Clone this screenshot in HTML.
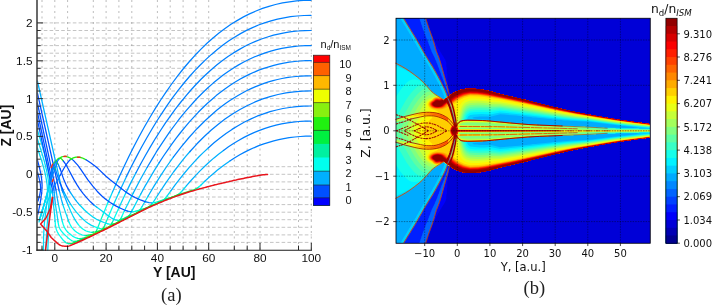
<!DOCTYPE html>
<html><head><meta charset="utf-8"><title>figure</title><style>html,body{margin:0;padding:0;background:#fff}svg{display:block}</style></head><body>
<svg width="712" height="305" viewBox="0 0 712 305">
<rect width="712" height="305" fill="#fff"/>
<path d="M42 0V250M54.8 0V250M67.6 0V250M93.3 0V250M106.1 0V250M118.9 0V250M131.8 0V250M157.4 0V250M170.2 0V250M183.1 0V250M195.9 0V250M208.7 0V250M234.3 0V250M247.2 0V250M260 0V250M298.5 0V250M311.3 0V250" stroke="#8f8f8f" stroke-width="0.6" stroke-dasharray="2 3.5" fill="none"/>
<path d="M38 242.4H312M38 234.9H312M38 227.3H312M38 219.7H312M38 212.2H312M38 204.6H312M38 197H312M38 189.4H312M38 181.9H312M38 174.3H312M38 166.7H312M38 121.3H312M38 113.7H312M38 106.2H312M38 98.6H312M38 91H312M38 83.5H312M38 75.9H312M38 68.3H312M38 60.8H312M38 53.2H312M38 45.6H312M38 38H312M38 30.5H312M38 22.9H312" stroke="#939393" stroke-width="0.55" stroke-dasharray="3.6 2.2" fill="none"/>
<g fill="none" stroke-width="1.25" stroke-linecap="round" stroke-linejoin="round">
<path d="M37.4 130 42.7 147.4 44.6 154.1 46.3 160.9 47.6 166.7 48.6 172.6 49.5 178.5 50 183.4 50.4 191.3 50.3 199.2 48.8 227.1 47.8 250" stroke="#00d8f6"/>
<path d="M37.4 139 42.3 154.4 44 160.2 45.5 166 46.9 171.8 47.8 176.7 48.5 181.6 49 186.5 49.3 193.4 49.1 201.3 48.6 207.3 46.9 228.2 45.6 250" stroke="#00d8f6"/>
<path d="M37.4 148 41.9 161.5 43.3 166.3 44.6 171.1 45.7 176 46.4 179.9 47.1 184.7 47.4 188.6 47.5 194.5 47.1 200.4 46.5 206.3 44.7 220.2 44 228.2 43.6 237.1 43.5 250" stroke="#00d8f6"/>
<path d="M37.4 160 39.7 168.7 41 174.6 41.8 180.5 42.1 185.4 41.8 191.4 41.1 197.3 40 204.2 38 214" stroke="#0050ff"/>
<path d="M37.4 172 38.8 176.9 39.7 180.8 40.4 184.6 40.6 187.5 40.5 190.4 40 193.3 39.4 196.2 38 201" stroke="#0050ff"/>
<path d="M37.4 120 52.5 190" stroke="#0050ff"/>
<path d="M52.5 190 52.6 192.5" stroke="#0080ff"/>
<path d="M52.6 192.5 53.4 204" stroke="#00b0ff"/>
<path d="M53.4 204 54.7 216.3 55.1 221.4" stroke="#00d8f6"/>
<path d="M55.1 221.4 55.4 224.9 55.8 227.4 56.4 229.7 57.2 231.6 58.6 234.1 60.7 237 63.3 240.3 65.1 242" stroke="#00ffee"/>
<path d="M65.1 242 66.3 242.9 67.1 243.3 68.5 243.6" stroke="#00f8c7"/>
<path d="M68.5 243.6 70 243.7" stroke="#00f0a0"/>
<path d="M70 243.7 72 243.4" stroke="#00f070"/>
<path d="M72 243.4 75 242.4 80 240.2 80.5 240" stroke="#00f040"/>
<path d="M80.5 240 82.5 239.4" stroke="#10f028"/>
<path d="M82.5 239.4 85.5 238.2" stroke="#20f010"/>
<path d="M85.5 238.2 86 238" stroke="#54f010"/>
<path d="M86 238 90.5 235.9" stroke="#88f010"/>
<path d="M90.5 235.9 93.5 234.4 94.5 233.8 95 233.3" stroke="#54f010"/>
<path d="M95 233.3 95.5 232.7" stroke="#20f010"/>
<path d="M95.5 232.7 96 231.8" stroke="#10f028"/>
<path d="M96 231.8 96.5 230.7" stroke="#00f070"/>
<path d="M96.5 230.7 97.5 228.3" stroke="#00f0a0"/>
<path d="M97.5 228.3 103 214.5" stroke="#00f8c7"/>
<path d="M103 214.5 108 202.4" stroke="#00ffee"/>
<path d="M108 202.4 112.5 191.9" stroke="#00d8f6"/>
<path d="M112.5 191.9 118 179.5" stroke="#00b0ff"/>
<path d="M118 179.5 123 168.7 128.5 157.2 133.5 147.3 139 136.8 144.5 126.8 150 117.2 155.5 108.1 161 99.5 166.5 91.3 172 83.5 177.5 76.1 183.5 68.5 189 62 195 55.3 201 49.1 207 43.3 213 38 219 33 225 28.5 231 24.3 237 20.6 243.5 16.9 249.5 13.9 256 11 262.5 8.4 269 6.3 275.5 4.5 282.5 2.9 289.5 1.8 296.5 0.9 303.5 0.4 311 0.3" stroke="#0080ff"/>
<path d="M37.4 112 54 190" stroke="#0050ff"/>
<path d="M54 190 54.2 192.5" stroke="#0080ff"/>
<path d="M54.2 192.5 54.8 198.9 55.4 204.4" stroke="#00b0ff"/>
<path d="M55.4 204.4 57.2 215.6 58 221.7" stroke="#00d8f6"/>
<path d="M58 221.7 58.5 224.6 59.1 227 59.9 228.8 61.2 230.9 63.4 233.5 67.5 237.4 69.8 239.3 71.8 240.7" stroke="#00ffee"/>
<path d="M71.8 240.7 72.5 241 74 241.3" stroke="#00f8c7"/>
<path d="M74 241.3 75.5 241.4" stroke="#00f0a0"/>
<path d="M75.5 241.4 77.5 241.1" stroke="#00f070"/>
<path d="M77.5 241.1 79.5 240.4 81.5 239.6" stroke="#00f040"/>
<path d="M81.5 239.6 82 239.3" stroke="#10f028"/>
<path d="M82 239.3 85 237.9 85.5 237.7" stroke="#00f040"/>
<path d="M85.5 237.7 87 237.3" stroke="#20f010"/>
<path d="M87 237.3 90 236.1 95.5 233.5 100.5 231 102 230.1" stroke="#54f010"/>
<path d="M102 230.1 102.5 229.6" stroke="#20f010"/>
<path d="M102.5 229.6 103 228.9" stroke="#10f028"/>
<path d="M103 228.9 103.5 228" stroke="#00f040"/>
<path d="M103.5 228 104 227" stroke="#00f070"/>
<path d="M104 227 105 224.7" stroke="#00f0a0"/>
<path d="M105 224.7 108 217.5" stroke="#00f8c7"/>
<path d="M108 217.5 114 203.5" stroke="#00ffee"/>
<path d="M114 203.5 119 192.4" stroke="#00d8f6"/>
<path d="M119 192.4 126.5 176.4" stroke="#00b0ff"/>
<path d="M126.5 176.4 131.5 166.3 136.5 156.6 141.5 147.3 147 137.5 152 129 157.5 120 162.5 112.3 168 104.2 173 97.2 178.5 89.9 184 83 189.5 76.5 195 70.4 200.5 64.7 206 59.4 211.5 54.4 217 49.7 223 45.1 228.5 41.1 234.5 37.2 240.5 33.6 246.5 30.4 252.5 27.6 258.5 25 264.5 22.8 271 20.8 277.5 19.1 284 17.8 290.5 16.7 297 16 304 15.5 311 15.4" stroke="#0080ff"/>
<path d="M37.4 103 56 190" stroke="#0050ff"/>
<path d="M56 190 56.4 192.5" stroke="#0080ff"/>
<path d="M56.4 192.5 57.4 198.9 58.4 204.3" stroke="#00b0ff"/>
<path d="M58.4 204.3 59.6 210.1 62.4 221.8" stroke="#00d8f6"/>
<path d="M62.4 221.8 63.3 224.7 64.4 227.4 65.7 229.6 67.2 231.5 69.4 233.6 72.5 236.1 75.5 237.7 77.5 238.4" stroke="#00ffee"/>
<path d="M77.5 238.4 78.5 238.6 80 238.7" stroke="#00f8c7"/>
<path d="M80 238.7 82.5 238.3" stroke="#00f0a0"/>
<path d="M82.5 238.3 85.5 237.5" stroke="#00f070"/>
<path d="M85.5 237.5 86 237.4" stroke="#10f028"/>
<path d="M86 237.4 87.5 237" stroke="#20f010"/>
<path d="M87.5 237 90 236 93.5 234.4 105 228.9 109 226.8" stroke="#54f010"/>
<path d="M109 226.8 110 226.1 110.5 225.6" stroke="#20f010"/>
<path d="M110.5 225.6 111 224.9" stroke="#10f028"/>
<path d="M111 224.9 111.5 224" stroke="#00f040"/>
<path d="M111.5 224 112 223" stroke="#00f070"/>
<path d="M112 223 112.5 222" stroke="#00f0a0"/>
<path d="M112.5 222 113.5 219.8" stroke="#00f8c7"/>
<path d="M113.5 219.8 119.5 206.4" stroke="#00ffee"/>
<path d="M119.5 206.4 126 192.6" stroke="#00d8f6"/>
<path d="M126 192.6 131 182.4 136 172.7" stroke="#00b0ff"/>
<path d="M136 172.7 140.5 164.2 145.5 155.2 150.5 146.6 155.5 138.3 160.5 130.5 165.5 122.9 170.5 115.8 175.5 108.9 180.5 102.5 185.5 96.3 190.5 90.5 196 84.5 201 79.3 206.5 74 211.5 69.5 217 64.8 222.5 60.5 228 56.6 233.5 52.9 239 49.6 244.5 46.5 250 43.8 255.5 41.4 261.5 39 267.5 37 273.5 35.2 279.5 33.8 285.5 32.6 291.5 31.7 298 31 304.5 30.6 311 30.5" stroke="#0080ff"/>
<path d="M37.4 93 59 190" stroke="#0050ff"/>
<path d="M59 190 59.6 192.4" stroke="#0080ff"/>
<path d="M59.6 192.4 61.3 199.2 62.8 204.5" stroke="#00b0ff"/>
<path d="M62.8 204.5 64.9 210.6 69.1 222.4" stroke="#00d8f6"/>
<path d="M69.1 222.4 70.4 225.2 71.7 227.3 73.3 229.2 75.1 231 76.7 232.2 78.8 233.5 81.8 234.8 83.2 235.2 84.8 235.5" stroke="#00ffee"/>
<path d="M84.8 235.5 86.2 235.5" stroke="#00f8c7"/>
<path d="M86.2 235.5 88.8 235.2" stroke="#00f070"/>
<path d="M88.8 235.2 91.2 234.6" stroke="#00f040"/>
<path d="M91.2 234.6 92.8 234.3" stroke="#10f028"/>
<path d="M92.8 234.3 94.2 233.9" stroke="#20f010"/>
<path d="M94.2 233.9 99.2 231.7 113.8 224.5" stroke="#54f010"/>
<path d="M113.8 224.5 116.8 223 118.2 222" stroke="#20f010"/>
<path d="M118.2 222 119.2 221" stroke="#10f028"/>
<path d="M119.2 221 119.8 220.4" stroke="#00f040"/>
<path d="M119.8 220.4 120.2 219.5" stroke="#00f070"/>
<path d="M120.2 219.5 120.8 218.6" stroke="#00f0a0"/>
<path d="M120.8 218.6 121.8 216.6" stroke="#00f8c7"/>
<path d="M121.8 216.6 124.2 211.3" stroke="#00ffee"/>
<path d="M124.2 211.3 128.8 202 133.2 193.1" stroke="#00d8f6"/>
<path d="M133.2 193.1 140.2 179.8 147.2 167.2" stroke="#00b0ff"/>
<path d="M147.2 167.2 151.8 159.6 156.2 152.2 160.8 145.2 165.8 137.7 170.2 131.2 174.8 125 179.2 119.2 184.2 112.9 188.8 107.6 193.8 102 198.2 97.2 203.2 92.2 208.2 87.5 213.2 83.1 218.2 78.9 223.2 75.1 228.2 71.5 233.2 68.2 238.2 65.1 243.8 62 248.8 59.5 254.2 57 259.8 54.8 265.2 52.8 270.8 51.1 276.2 49.6 281.8 48.4 287.8 47.3 293.2 46.6 299.2 46 305.2 45.7 311.2 45.6" stroke="#0080ff"/>
<path d="M37.4 81 62 190" stroke="#00b0ff"/>
<path d="M62 190 62.9 192.3" stroke="#0080ff"/>
<path d="M62.9 192.3 67.7 204.3" stroke="#00b0ff"/>
<path d="M67.7 204.3 70.6 211.1 73 216.1 75.4 220.4 77.6 223.7" stroke="#00d8f6"/>
<path d="M77.6 223.7 79.2 225.6 80.9 227.4 82.8 229 84.5 230.1 86.2 231 88.2 231.7 90.2 232.1 91.8 232.3" stroke="#00ffee"/>
<path d="M91.8 232.3 92.2 232.3" stroke="#00f8c7"/>
<path d="M92.2 232.3 93.2 232.2" stroke="#00f0a0"/>
<path d="M93.2 232.2 94.8 232 96.8 231.5" stroke="#00f070"/>
<path d="M96.8 231.5 98.8 231.1" stroke="#00f040"/>
<path d="M98.8 231.1 100.2 230.8" stroke="#10f028"/>
<path d="M100.2 230.8 102.2 230.1" stroke="#20f010"/>
<path d="M102.2 230.1 105.8 228.5 113.8 224.5" stroke="#54f010"/>
<path d="M113.8 224.5 126.2 218.1" stroke="#20f010"/>
<path d="M126.2 218.1 127.2 217.5 128.2 216.7" stroke="#10f028"/>
<path d="M128.2 216.7 128.8 216.2" stroke="#00f040"/>
<path d="M128.8 216.2 129.2 215.5" stroke="#00f070"/>
<path d="M129.2 215.5 129.8 214.8" stroke="#00f0a0"/>
<path d="M129.8 214.8 130.8 213" stroke="#00f8c7"/>
<path d="M130.8 213 131.8 211.1" stroke="#00ffee"/>
<path d="M131.8 211.1 140.8 194" stroke="#00d8f6"/>
<path d="M140.8 194 145.2 185.9 149.8 178.1 154.2 170.6 159.2 162.6" stroke="#00b0ff"/>
<path d="M159.2 162.6 163.2 156.5 167.8 149.9 171.8 144.2 176.2 138.2 180.2 133 184.8 127.4 189.2 122.1 193.8 117.1 198.2 112.3 202.8 107.8 207.2 103.5 211.8 99.5 216.2 95.6 220.8 92.1 225.2 88.7 230.2 85.2 234.8 82.3 239.8 79.3 244.2 76.9 249.2 74.4 253.8 72.3 258.8 70.2 263.8 68.4 268.8 66.8 273.8 65.3 278.8 64.1 283.8 63.1 289.2 62.2 294.8 61.5 300.2 61 305.8 60.7 311.2 60.7" stroke="#0080ff"/>
<path d="M39 222 42.5 210 49.3 184.9" stroke="#00d8f6"/>
<path d="M49.3 184.9 50.3 180 51.3 173.6 51.8 171.5 52.6 169.3" stroke="#0080ff"/>
<path d="M52.6 169.3 53.3 167.7 53.9 167.1 54.1 167 54.4 167.1 54.8 167.7 55.7 170" stroke="#20f010"/>
<path d="M55.7 170 57.9 177.2 60 183.1" stroke="#0080ff"/>
<path d="M60 183.1 63 190.1" stroke="#0050ff"/>
<path d="M63 190.1 64.1 192.4" stroke="#0080ff"/>
<path d="M64.1 192.4 67.4 198.9 70.8 204.5" stroke="#00b0ff"/>
<path d="M70.8 204.5 73.3 208.2 76.4 212.1 79.5 215.7 82.5 218.7 85.5 221.4 88 223.2 91 225.1 94 226.5" stroke="#00d8f6"/>
<path d="M94 226.5 97 227.7 100 228.7" stroke="#00ffee"/>
<path d="M100 228.7 101.5 229" stroke="#00f8c7"/>
<path d="M101.5 229 102.5 229" stroke="#00f0a0"/>
<path d="M102.5 229 103 229" stroke="#00f070"/>
<path d="M103 229 103.5 229" stroke="#00f040"/>
<path d="M103.5 229 104.5 228.8" stroke="#10f028"/>
<path d="M104.5 228.8 106 228.3" stroke="#20f010"/>
<path d="M106 228.3 114 224.4" stroke="#54f010"/>
<path d="M114 224.4 129 216.8" stroke="#20f010"/>
<path d="M129 216.8 136 213.2 138 212" stroke="#10f028"/>
<path d="M138 212 139 211.1" stroke="#00f040"/>
<path d="M139 211.1 139.5 210.6" stroke="#00f070"/>
<path d="M139.5 210.6 140 209.9" stroke="#00f0a0"/>
<path d="M140 209.9 141 208.4" stroke="#00f8c7"/>
<path d="M141 208.4 142 206.7" stroke="#00ffee"/>
<path d="M142 206.7 148 196.2" stroke="#00d8f6"/>
<path d="M148 196.2 154 186.1 160.5 175.8 167 166 173.5 156.9" stroke="#00b0ff"/>
<path d="M173.5 156.9 181 147.1 189 137.5 197 128.7 205 120.7 213 113.5 217 110.1 221.5 106.6 225.5 103.6 229.5 100.8 233.5 98.2 238 95.5 242 93.2 246.5 90.8 250.5 88.9 255 86.9 259.5 85.1 264 83.4 268.5 81.9 273 80.6 277.5 79.5 282 78.5 286.5 77.7 291.5 77 296 76.5 301 76.1 306 75.8 311 75.8" stroke="#0080ff"/>
<path d="M39.5 219 46.4 197.1 48.1 190.9 49.6 184.6" stroke="#00d8f6"/>
<path d="M49.6 184.6 51.2 176.7 52.4 168.1 53 165.6 53.9 163.4" stroke="#0080ff"/>
<path d="M53.9 163.4 54.4 162.3 55 161.6 55.6 161.3 55.9 161.3 56.3 161.5 56.9 162.2 58.2 164.3" stroke="#20f010"/>
<path d="M58.2 164.3 60.1 168.7" stroke="#0080ff"/>
<path d="M60.1 168.7 61.1 171.5 62.9 177.1 64.2 180.6 66.2 185.1 68.9 190.1" stroke="#0050ff"/>
<path d="M68.9 190.1 70.5 192.7" stroke="#0080ff"/>
<path d="M70.5 192.7 72.5 195.7 74.8 199 77 201.8 79.5 204.8" stroke="#00b0ff"/>
<path d="M79.5 204.8 84 209.5 84 209.8 84.5 210 87.5 212.7 90 214.8 93.5 217.4 96.5 219.2 100 220.9 104 222.5 108 223.8" stroke="#00d8f6"/>
<path d="M108 223.8 110.5 224.3" stroke="#00ffee"/>
<path d="M110.5 224.3 111.5 224.4" stroke="#00f8c7"/>
<path d="M111.5 224.4 112 224.4" stroke="#00f0a0"/>
<path d="M112 224.4 112.5 224.3" stroke="#00f070"/>
<path d="M112.5 224.3 113.5 224.2" stroke="#00f040"/>
<path d="M113.5 224.2 115 223.7" stroke="#10f028"/>
<path d="M115 223.7 118 222.4 129 216.8" stroke="#20f010"/>
<path d="M129 216.8 149 206.7" stroke="#10f028"/>
<path d="M149 206.7 150.5 205.6" stroke="#00f040"/>
<path d="M150.5 205.6 151 205.2" stroke="#00f070"/>
<path d="M151 205.2 152 204" stroke="#00f0a0"/>
<path d="M152 204 152.5 203.4" stroke="#00f8c7"/>
<path d="M152.5 203.4 153.5 201.9" stroke="#00ffee"/>
<path d="M153.5 201.9 157.5 195.5" stroke="#00d8f6"/>
<path d="M157.5 195.5 165.5 183.3 173.5 172 181.5 161.6 185.5 156.7 190 151.5" stroke="#00b0ff"/>
<path d="M190 151.5 197 143.8 204 136.8 211 130.3 218 124.4 225 119.1 232.5 114 239.5 109.7 247 105.7 254.5 102.2 262 99.2 270 96.6 278 94.5 286 92.9 294 91.8 302.5 91.1 311 90.9" stroke="#0080ff"/>
<path d="M40.5 217 46.9 195 49.6 184.8" stroke="#00d8f6"/>
<path d="M49.6 184.8 52.6 171.7 53.7 167.3 55.1 163.1 55.7 161.8 56.6 160.5" stroke="#0080ff"/>
<path d="M56.6 160.5 57.6 159.2 58.4 158.5 59.2 158 59.6 158 60.4 158.2 61.3 158.8 62.1 159.5 63.2 160.9" stroke="#20f010"/>
<path d="M63.2 160.9 64.8 163 66.4 165.5 74.1 179.9 76.9 184.6 79.6 188.8 83.2 193.6 86.8 197.8 90.5 201.8 94.2 205.2" stroke="#0050ff"/>
<path d="M94.2 205.2 96.9 207.3" stroke="#00b0ff"/>
<path d="M96.9 207.3 105.4 213.5 106 214.1 106.5 214.4 111.5 218 113 218.9 114.5 219.6 116 220.1 117 220.2" stroke="#00d8f6"/>
<path d="M117 220.2 118 220.3" stroke="#00ffee"/>
<path d="M118 220.3 119.5 220.1 121 219.6" stroke="#00f0a0"/>
<path d="M121 219.6 124 218.4 128 216.4 129 216.2" stroke="#00f070"/>
<path d="M129 216.2 131 215.6" stroke="#00f040"/>
<path d="M131 215.6 134 214.2 148 207.3 161 201.5" stroke="#10f028"/>
<path d="M161 201.5 163 200.4" stroke="#00f040"/>
<path d="M163 200.4 164 199.7" stroke="#00f070"/>
<path d="M164 199.7 165 198.7" stroke="#00f0a0"/>
<path d="M165 198.7 166 197.5" stroke="#00f8c7"/>
<path d="M166 197.5 167 196.1" stroke="#00ffee"/>
<path d="M167 196.1 171 190.6" stroke="#00d8f6"/>
<path d="M171 190.6 175.5 184.4 180 178.6 184.5 173 189.5 167.1 194 162.1 199 156.8 203.5 152.4 208.5 147.7" stroke="#00b0ff"/>
<path d="M208.5 147.7 214 142.8 220 137.9 226 133.5 232 129.4 238 125.7 244.5 122 250.5 119.1 257 116.2 263.5 113.8 270 111.7 276.5 110 283 108.5 289.5 107.5 296.5 106.6 303.5 106.1 311 106" stroke="#0080ff"/>
<path d="M41.5 214 49.7 184.7" stroke="#00d8f6"/>
<path d="M49.7 184.7 52.3 176.1 55.1 168.1 56.7 163.4 57.9 160.6 58.8 159.4 59.4 158.6" stroke="#0080ff"/>
<path d="M59.4 158.6 60.5 157.6 61.8 156.9 63.3 156.5 64.8 156.4 66.3 156.6 68.2 157.1 70.1 158 71.8 159.1" stroke="#20f010"/>
<path d="M71.8 159.1 73.3 160.4 74.7 161.8 77.7 165.2 80.6 169.2 87.9 179.9 92.8 186.2 97.1 191.2 101.6 195.8 104.7 198.4 107.4 200.6 110.2 202.5 113.2 204.4 116.2 206.1 119.8 207.9 120 208.1 120.5 208.2 124.5 210 127.5 211.1" stroke="#0050ff"/>
<path d="M127.5 211.1 130 211.6 132.5 211.7" stroke="#0080ff"/>
<path d="M132.5 211.7 134 211.6 136 211.2" stroke="#00ffee"/>
<path d="M136 211.2 139.5 210.2" stroke="#00f8c7"/>
<path d="M139.5 210.2 142 209.3 143 209.1" stroke="#00f0a0"/>
<path d="M143 209.1 144 208.8" stroke="#00f070"/>
<path d="M144 208.8 147 207.7" stroke="#00f040"/>
<path d="M147 207.7 161 201.6 175 196" stroke="#10f028"/>
<path d="M175 196 178 194.6" stroke="#00f040"/>
<path d="M178 194.6 179 194" stroke="#00f070"/>
<path d="M179 194 180 193.1" stroke="#00f0a0"/>
<path d="M180 193.1 181 192.1" stroke="#00f8c7"/>
<path d="M181 192.1 182.5 190.5" stroke="#00ffee"/>
<path d="M182.5 190.5 186.5 185.7" stroke="#00d8f6"/>
<path d="M186.5 185.7 191 180.5 195.5 175.6 200 170.9 204.5 166.5 209 162.3 214 157.9 218.5 154.2 223.5 150.4" stroke="#00b0ff"/>
<path d="M223.5 150.4 228.5 146.8 233.5 143.5 238.5 140.5 244 137.4 249 134.9 254.5 132.4 259.5 130.4 265 128.4 270.5 126.6 276 125.2 281.5 123.9 287.5 122.9 293 122.1 299 121.5 305 121.2 311 121.1" stroke="#0080ff"/>
<path d="M42 220 45.1 209.5 47.5 201.9 49.8 195.8 52 190.8" stroke="#00d8f6"/>
<path d="M52 190.8 60.1 175.3" stroke="#0080ff"/>
<path d="M60.1 175.3 63.7 168.8 66.6 164 68.4 161.6 69.4 160.5 70.5 159.5" stroke="#0050ff"/>
<path d="M70.5 159.5 72.2 158.4 74 157.7 76 157.2 78 157.1 80 157.3 81.9 157.8 83.7 158.6 86 159.8" stroke="#20f010"/>
<path d="M86 159.8 90.6 162.8 94.6 165.7 98 168.6 106 176.2 109.8 179.4 122.3 189.3 127.2 192.9 131.3 195.5 135.3 197.6 141.2 200.2 145.8 201.8" stroke="#0050ff"/>
<path d="M145.8 201.8 149.2 202.6 152.2 202.8" stroke="#0080ff"/>
<path d="M152.2 202.8 154.8 202.6" stroke="#00ffee"/>
<path d="M154.8 202.6 158.2 201.7" stroke="#00f8c7"/>
<path d="M158.2 201.7 166.2 198.8" stroke="#00f0a0"/>
<path d="M166.2 198.8 168.2 198.4" stroke="#00f070"/>
<path d="M168.2 198.4 172.2 197.1" stroke="#00f040"/>
<path d="M172.2 197.1 182.8 193.3 191.2 190.7" stroke="#10f028"/>
<path d="M191.2 190.7 193.8 189.9 195.2 189.2" stroke="#00f040"/>
<path d="M195.2 189.2 196.8 188.4" stroke="#00f070"/>
<path d="M196.8 188.4 197.8 187.7" stroke="#00f0a0"/>
<path d="M197.8 187.7 198.8 186.9" stroke="#00f8c7"/>
<path d="M198.8 186.9 200.8 185.2" stroke="#00ffee"/>
<path d="M200.8 185.2 204.8 181.3" stroke="#00d8f6"/>
<path d="M204.8 181.3 211.2 175.4 217.2 170.3 223.8 165.3 230.2 160.7" stroke="#00b0ff"/>
<path d="M230.2 160.7 234.8 157.8 239.8 154.8 244.2 152.4 249.2 149.9 253.8 147.8 258.8 145.7 263.8 143.9 268.8 142.3 273.8 140.8 278.8 139.6 283.8 138.6 289.2 137.7 294.8 137 300.2 136.5 305.8 136.2 311.2 136.2" stroke="#0080ff"/>
<path d="M51.3 167.5L52.6 164.2M63.8 156.4L66.2 156.3M77.5 157.2L80 157.3M52.4 181.5L53.3 179.3" stroke="#f03018" stroke-width="1.5"/>
<path d="M52.5 197.5 49 223 45.5 250" stroke="#e8141c" stroke-width="1.5"/>
<path d="M52.5 197.5 50.5 208 46 218 40.6 224 46.9 231.2 51.2 237.5 57.5 243.4 59 244.5 60.5 245.4 62 245.9 63.5 246.1 65 246.2 66.5 246.3 68 246.3 69.5 245.9 71 245.2 72.5 244.6 74 244 75.5 243.4 77 242.7 78.5 242 80 241.3 81.5 240.7 83 240 84.5 239.3 86 238.6 87.5 237.9 89 237.2 90.5 236.5 92 235.8 93.5 235 95 234.3 96.5 233.6 98 232.9 99.5 232.2 101 231.4 102.5 230.7 104 230 105.5 229.2 107 228.5 108.5 227.7 110 227 111.5 226.3 113 225.5 114.5 224.7 116 224 117.5 223.2 119 222.5 120.5 221.7 122 220.9 123.5 220.2 125 219.4 126.5 218.6 128 217.9 129.5 217.1 131 216.4 132.5 215.6 134 214.8 135.5 214.1 137 213.3 138.5 212.5 140 211.8 141.5 211 143 210.3 144.5 209.5 146 208.8 147.5 208.1 149 207.4 150.5 206.7 152 206 153.5 205.4 155 204.7 156.5 204.1 158 203.4 159.5 202.8 161 202.2 162.5 201.6 164 200.9 165.5 200.3 167 199.7 168.5 199.1 170 198.6 171.5 198 173 197.4 174.5 196.9 176 196.3 177.5 195.8 179 195.2 180.5 194.7 182 194.2 183.5 193.7 185 193.2 186.5 192.7 188 192.3 189.5 191.8 191 191.4 192.5 191 194 190.5 195.5 190.1 197 189.6 198.5 189.2 200 188.8 201.5 188.4 203 188 204.5 187.6 206 187.2 207.5 186.8 209 186.4 210.5 186 212 185.6 213.5 185.2 215 184.8 216.5 184.5 218 184.1 219.5 183.8 221 183.4 222.5 183.1 224 182.7 225.5 182.4 227 182 228.5 181.7 230 181.3 231.5 181 233 180.6 234.5 180.3 236 180 237.5 179.6 239 179.3 240.5 179 242 178.7 243.5 178.4 245 178.1 246.5 177.8 248 177.5 249.5 177.2 251 176.9 252.5 176.6 254 176.3 255.5 176 257 175.8 258.5 175.5 260 175.2 261.5 175 263 174.8 264.5 174.7 266 174.5 267.5 174.4" stroke="#e8141c" stroke-width="1.5" stroke-linejoin="round"/>
</g>
<path d="M37 0V250.5" stroke="#505050" stroke-width="1.7" fill="none"/>
<path d="M36.2 250.2H312" stroke="#1a1a1a" stroke-width="1.1" fill="none"/>
<path d="M37 250H43.2M37 242.4H40.6M37 234.9H40.6M37 227.3H40.6M37 219.7H40.6M37 212.2H43.2M37 204.6H40.6M37 197H40.6M37 189.4H40.6M37 181.9H40.6M37 174.3H43.2M37 166.7H40.6M37 159.2H40.6M37 151.6H40.6M37 144H40.6M37 136.4H43.2M37 128.9H40.6M37 121.3H40.6M37 113.7H40.6M37 106.2H40.6M37 98.6H43.2M37 91H40.6M37 83.5H40.6M37 75.9H40.6M37 68.3H40.6M37 60.8H43.2M37 53.2H40.6M37 45.6H40.6M37 38H40.6M37 30.5H40.6M37 22.9H43.2" stroke="#222" stroke-width="0.9" fill="none"/>
<path d="M42 250V245.6M54.8 250V243M67.6 250V245.6M93.3 250V245.6M106.1 250V243M118.9 250V245.6M131.8 250V245.6M144.6 250V245.6M157.4 250V243M170.2 250V245.6M183.1 250V245.6M195.9 250V245.6M208.7 250V243M234.3 250V245.6M247.2 250V245.6M260 250V243M298.5 250V245.6M311.3 250V243" stroke="#111" stroke-width="0.9" fill="none"/>
<g font-family="Liberation Sans, Arial, Helvetica, sans-serif" font-size="11.8" fill="#111">
<text x="32.5" y="26.9" text-anchor="end">2</text>
<text x="32.5" y="64.8" text-anchor="end">1.5</text>
<text x="32.5" y="102.6" text-anchor="end">1</text>
<text x="32.5" y="140.4" text-anchor="end">0.5</text>
<text x="32.5" y="178.3" text-anchor="end">0</text>
<text x="32.5" y="216.2" text-anchor="end">-0.5</text>
<text x="32.5" y="254" text-anchor="end">-1</text>
<text x="54.8" y="262.4" text-anchor="middle">0</text>
<text x="106.1" y="262.4" text-anchor="middle">20</text>
<text x="157.4" y="262.4" text-anchor="middle">40</text>
<text x="208.7" y="262.4" text-anchor="middle">60</text>
<text x="260" y="262.4" text-anchor="middle">80</text>
<text x="311.3" y="262.4" text-anchor="middle">100</text>
</g>
<g font-family="Liberation Sans, Arial, Helvetica, sans-serif" font-size="14" font-weight="bold" fill="#111">
<text x="174.2" y="276.6" text-anchor="middle">Y [AU]</text>
<text transform="translate(11.3 125.6) rotate(-90)" text-anchor="middle">Z [AU]</text>
</g>
<rect x="313.4" y="55.2" width="16.4" height="150.3" fill="#ff0000"/>
<rect x="313.4" y="62.4" width="16.4" height="143.1" fill="#ff6000"/>
<rect x="313.4" y="75.6" width="16.4" height="129.9" fill="#ffb800"/>
<rect x="313.4" y="89.2" width="16.4" height="116.3" fill="#eeff00"/>
<rect x="313.4" y="102.6" width="16.4" height="102.9" fill="#88f010"/>
<rect x="313.4" y="117" width="16.4" height="88.5" fill="#20f010"/>
<rect x="313.4" y="130.4" width="16.4" height="75.1" fill="#00f040"/>
<rect x="313.4" y="143.9" width="16.4" height="61.6" fill="#00f0a0"/>
<rect x="313.4" y="157.5" width="16.4" height="48" fill="#00ffee"/>
<rect x="313.4" y="171.2" width="16.4" height="34.3" fill="#00b0ff"/>
<rect x="313.4" y="185" width="16.4" height="20.5" fill="#0050ff"/>
<rect x="313.4" y="197.8" width="16.4" height="7.7" fill="#0000ff"/>
<path d="M313.4 62.4H329.8M313.4 75.6H329.8M313.4 89.2H329.8M313.4 102.6H329.8M313.4 130.4H329.8M313.4 171.2H329.8M313.4 185H329.8M313.4 197.8H329.8" stroke="#222" stroke-width="0.6" fill="none"/>
<rect x="313.4" y="55.2" width="16.4" height="150.3" fill="none" stroke="#222" stroke-width="0.7"/>
<g font-family="Liberation Sans, Arial, Helvetica, sans-serif" font-size="11" fill="#111">
<text x="351.5" y="204" text-anchor="end">0</text>
<text x="351.5" y="191.2" text-anchor="end">1</text>
<text x="351.5" y="177.4" text-anchor="end">2</text>
<text x="351.5" y="163.7" text-anchor="end">3</text>
<text x="351.5" y="150.1" text-anchor="end">4</text>
<text x="351.5" y="136.6" text-anchor="end">5</text>
<text x="351.5" y="123.2" text-anchor="end">6</text>
<text x="351.5" y="108.8" text-anchor="end">7</text>
<text x="351.5" y="95.4" text-anchor="end">8</text>
<text x="351.5" y="81.8" text-anchor="end">9</text>
<text x="351.5" y="68" text-anchor="end">10</text>
<text x="320.5" y="48">n<tspan font-size="6.5" dy="2.2">d</tspan><tspan dy="-2.2">/n</tspan><tspan font-size="6.5" dy="2.2">ISM</tspan></text>
</g>
<text x="171.3" y="300.6" text-anchor="middle" font-family="Liberation Serif, Times New Roman, serif" font-size="18.5" fill="#222">(a)</text>
<g fill-rule="evenodd">
<rect x="396.0" y="18.25" width="254.25" height="225.0" fill="#0000d7"/>
<path d="M396.8 18.5 425.3 18.5 425.3 19 425.8 19.5 425.8 20.5 426.3 21 426.3 22 426.8 22.5 426.8 23.5 427.3 24 427.3 25 427.8 25.5 427.8 26.5 428.3 27 428.3 28 428.8 28.5 428.8 29.5 429.3 30 429.3 30.5 429.8 31 429.8 32 430.3 32.5 430.3 33.5 430.8 34 430.8 34.5 431.3 35 431.3 35.5 431.8 36 431.8 36.5 432.8 37.5 432.8 38 433.3 38.5 433.3 39 434.3 40 434.3 40.5 434.8 41 434.8 41.5 435.3 42 435.3 42.5 435.8 43 435.8 43.5 436.3 44 436.3 44.5 436.8 45 436.8 45.5 437.3 46 437.3 46.5 437.8 47 437.8 47.5 438.3 48 438.3 48.5 439.3 49.5 439.3 50 439.8 50.5 439.8 51 440.3 51.5 440.3 52 441.3 53 441.3 53.5 441.8 54 441.8 54.5 442.8 55.5 442.8 56 443.8 57 443.8 57.5 444.3 58 444.3 58.5 445.3 59.5 445.3 60.5 445.8 61 445.8 62 446.3 62.5 446.3 67 446.8 67.5 446.8 73.5 447.3 74 447.3 80 447.8 80.5 447.8 86 448.3 86.5 448.3 96 448.8 96.5 450.8 94.5 451.2 94.5 452.8 93 453.2 93 453.8 92.5 454.2 92.5 454.8 92 455.2 92 455.8 91.5 456.2 91.5 456.8 91 457.8 91 458.2 90.5 458.8 90.5 459.2 90 460.2 90 460.8 89.5 462.2 89.5 462.8 89 465.2 89 465.8 88.5 475.8 88.5 476.2 89 480.3 89 480.8 89.5 483.2 89.5 483.8 90 485.8 90 486.3 90.5 488.2 90.5 488.8 91 490.3 91 490.8 91.5 492.2 91.5 492.8 92 493.7 92 494.2 92.5 495.8 92.5 496.2 93 497.2 93 497.8 93.5 499.2 93.5 499.8 94 501.2 94 501.8 94.5 503.2 94.5 503.8 95 505.8 95 506.2 95.5 507.8 95.5 508.2 96 510.2 96 510.8 96.5 512.2 96.5 512.8 97 514.2 97 514.8 97.5 516.8 97.5 517.2 98 518.8 98 519.2 98.5 520.8 98.5 521.2 99 523.2 99 523.8 99.5 525.2 99.5 525.8 100 527.2 100 527.8 100.5 528.8 100.5 529.2 101 530.8 101 531.2 101.5 532.8 101.5 533.3 102 534.8 102 535.2 102.5 536.8 102.5 537.2 103 538.8 103 539.2 103.5 540.8 103.5 541.2 104 542.8 104 543.2 104.5 544.8 104.5 545.2 105 546.8 105 547.2 105.5 548.8 105.5 549.2 106 550.8 106 551.2 106.5 552.8 106.5 553.2 107 554.8 107 555.2 107.5 557.2 107.5 557.8 108 559.2 108 559.8 108.5 561.2 108.5 561.8 109 563.2 109 563.8 109.5 565.8 109.5 566.2 110 567.8 110 568.3 110.5 569.8 110.5 570.3 111 572.2 111 572.8 111.5 574.8 111.5 575.3 112 577.2 112 577.8 112.5 579.8 112.5 580.2 113 582.2 113 582.8 113.5 584.8 113.5 585.2 114 587.8 114 588.2 114.5 590.2 114.5 590.8 115 593.3 115 593.8 115.5 595.8 115.5 596.2 116 598.8 116 599.2 116.5 601.8 116.5 602.2 117 604.8 117 605.2 117.5 607.2 117.5 607.8 118 610.8 118 611.2 118.5 613.8 118.5 614.2 119 616.8 119 617.3 119.5 619.8 119.5 620.3 120 623.2 120 623.8 120.5 626.8 120.5 627.3 121 630.3 121 630.8 121.5 633.8 121.5 634.2 122 637.8 122 638.2 122.5 641.3 122.5 641.7 123 645.2 123 645.8 123.5 648.8 123.5 649.2 124 649.8 124 649.8 137.5 649.2 137.5 648.8 138 645.8 138 645.2 138.5 641.7 138.5 641.3 139 638.2 139 637.8 139.5 634.2 139.5 633.8 140 630.8 140 630.3 140.5 627.3 140.5 626.8 141 623.8 141 623.2 141.5 620.3 141.5 619.8 142 617.3 142 616.8 142.5 614.2 142.5 613.8 143 611.2 143 610.8 143.5 607.8 143.5 607.2 144 605.2 144 604.8 144.5 602.2 144.5 601.8 145 599.2 145 598.8 145.5 596.2 145.5 595.8 146 593.8 146 593.3 146.5 590.8 146.5 590.2 147 588.2 147 587.8 147.5 585.2 147.5 584.8 148 582.8 148 582.2 148.5 580.2 148.5 579.8 149 577.8 149 577.2 149.5 575.3 149.5 574.8 150 572.8 150 572.2 150.5 570.3 150.5 569.8 151 568.3 151 567.8 151.5 566.2 151.5 565.8 152 563.8 152 563.2 152.5 561.8 152.5 561.2 153 559.8 153 559.2 153.5 557.8 153.5 557.2 154 555.2 154 554.8 154.5 553.2 154.5 552.8 155 551.2 155 550.8 155.5 549.2 155.5 548.8 156 547.2 156 546.8 156.5 545.2 156.5 544.8 157 543.2 157 542.8 157.5 541.2 157.5 540.8 158 539.2 158 538.8 158.5 537.2 158.5 536.8 159 535.2 159 534.8 159.5 533.3 159.5 532.8 160 531.2 160 530.8 160.5 529.2 160.5 528.8 161 527.8 161 527.2 161.5 525.8 161.5 525.2 162 523.8 162 523.2 162.5 521.2 162.5 520.8 163 519.2 163 518.8 163.5 517.2 163.5 516.8 164 514.8 164 514.2 164.5 512.8 164.5 512.2 165 510.8 165 510.2 165.5 508.2 165.5 507.8 166 506.2 166 505.8 166.5 503.8 166.5 503.2 167 501.8 167 501.2 167.5 499.8 167.5 499.2 168 497.8 168 497.2 168.5 496.2 168.5 495.8 169 494.2 169 493.7 169.5 492.8 169.5 492.2 170 490.8 170 490.3 170.5 488.8 170.5 488.2 171 486.3 171 485.8 171.5 483.8 171.5 483.2 172 480.8 172 480.3 172.5 476.2 172.5 475.8 173 465.8 173 465.2 172.5 462.8 172.5 462.2 172 460.8 172 460.2 171.5 459.2 171.5 458.8 171 458.2 171 457.8 170.5 456.8 170.5 456.2 170 455.8 170 455.2 169.5 454.8 169.5 454.2 169 453.8 169 453.2 168.5 452.8 168.5 451.2 167 450.8 167 448.8 165 448.3 165.5 448.3 175 447.8 175.5 447.8 181 447.3 181.5 447.3 187.5 446.8 188 446.8 194 446.3 194.5 446.3 199 445.8 199.5 445.8 200.5 445.3 201 445.3 202 444.3 203 444.3 203.5 443.8 204 443.8 204.5 442.8 205.5 442.8 206 441.8 207 441.8 207.5 441.3 208 441.3 208.5 440.3 209.5 440.3 210 439.8 210.5 439.8 211 439.3 211.5 439.3 212 438.3 213 438.3 213.5 437.8 214 437.8 214.5 437.3 215 437.3 215.5 436.8 216 436.8 216.5 436.3 217 436.3 217.5 435.8 218 435.8 218.5 435.3 219 435.3 219.5 434.8 220 434.8 220.5 434.3 221 434.3 221.5 433.3 222.5 433.3 223 432.8 223.5 432.8 224 431.8 225 431.8 225.5 431.3 226 431.3 226.5 430.8 227 430.8 227.5 430.3 228 430.3 229 429.8 229.5 429.8 230.5 429.3 231 429.3 231.5 428.8 232 428.8 233 428.3 233.5 428.3 234.5 427.8 235 427.8 236 427.3 236.5 427.3 237.5 426.8 238 426.8 239 426.3 239.5 426.3 240.5 425.8 241 425.8 242 425.3 242.5 425.3 243 396.2 243 396.2 18.5Z" fill="#0000fb"/>
<path d="M396.8 18.5 425.3 18.5 425.3 19 425.8 19.5 425.8 20.5 426.3 21 426.3 22 426.8 22.5 426.8 23.5 427.3 24 427.3 25 427.8 25.5 427.8 26.5 428.3 27 428.3 28 428.8 28.5 428.8 29.5 429.3 30 429.3 30.5 429.8 31 429.8 32 430.3 32.5 430.3 33.5 430.8 34 430.8 34.5 431.3 35 431.3 35.5 431.8 36 431.8 36.5 432.2 37 432.2 37.5 432.7 38 432.7 39 433.2 39.5 433.2 40.5 433.7 41 433.7 42 434.2 42.5 434.2 43.5 434.7 44 434.7 45.5 435.2 46 435.2 47.5 435.7 48 435.7 49 436.2 49.5 436.2 51 436.7 51.5 436.7 52 437.2 52.5 437.2 53.5 437.7 54 437.7 55 438.2 55.5 438.2 56 438.7 56.5 438.7 57.5 439.2 58 439.2 59 439.7 59.5 439.7 60.5 440.2 61 440.2 62 440.7 62.5 440.7 63.5 441.2 64 441.2 65 441.7 65.5 441.7 67 442.2 67.5 442.2 68.5 442.7 69 442.7 70.5 443.2 71 443.2 72 443.7 72.5 443.7 74 444.2 74.5 444.2 76 444.7 76.5 444.7 77.5 445.2 78 445.2 79.5 445.7 80 445.7 81.5 446.2 82 446.2 83 446.7 83.5 446.7 85 447.2 85.5 447.2 86.5 447.7 87 447.7 88.5 448.2 89 448.3 96 448.7 96.5 450.8 94.5 451.2 94.5 452.8 93 453.2 93 453.7 92.5 454.2 92.5 454.7 92 455.2 92 455.8 91.5 456.3 91.5 456.7 91 457.8 91 458.3 90.5 458.8 90.5 459.2 90 460.2 90 460.8 89.5 462.2 89.5 462.8 89 465.2 89 465.8 88.5 475.8 88.5 476.3 89 480.2 89 480.8 89.5 483.2 89.5 483.7 90 485.8 90 486.2 90.5 488.2 90.5 488.8 91 490.2 91 490.7 91.5 492.2 91.5 492.8 92 493.8 92 494.2 92.5 495.8 92.5 496.2 93 497.2 93 497.8 93.5 499.2 93.5 499.8 94 501.2 94 501.8 94.5 503.2 94.5 503.8 95 505.8 95 506.2 95.5 507.8 95.5 508.2 96 510.2 96 510.7 96.5 512.2 96.5 512.8 97 514.2 97 514.8 97.5 516.8 97.5 517.2 98 518.8 98 519.2 98.5 520.8 98.5 521.2 99 523.2 99 523.8 99.5 525.2 99.5 525.8 100 527.2 100 527.7 100.5 528.8 100.5 529.2 101 530.8 101 531.2 101.5 532.8 101.5 533.2 102 534.8 102 535.3 102.5 536.8 102.5 537.3 103 538.8 103 539.2 103.5 540.8 103.5 541.2 104 542.8 104 543.2 104.5 544.8 104.5 545.2 105 546.8 105 547.3 105.5 548.8 105.5 549.2 106 550.8 106 551.3 106.5 552.8 106.5 553.2 107 554.8 107 555.2 107.5 557.2 107.5 557.8 108 559.2 108 559.8 108.5 561.2 108.5 561.8 109 563.2 109 563.8 109.5 565.8 109.5 566.2 110 567.8 110 568.2 110.5 569.8 110.5 570.2 111 572.2 111 572.8 111.5 574.8 111.5 575.2 112 577.2 112 577.8 112.5 579.8 112.5 580.2 113 582.2 113 582.8 113.5 584.8 113.5 585.2 114 587.8 114 588.3 114.5 590.2 114.5 590.8 115 593.2 115 593.8 115.5 595.8 115.5 596.2 116 598.8 116 599.2 116.5 601.8 116.5 602.2 117 604.8 117 605.2 117.5 607.2 117.5 607.8 118 610.7 118 611.2 118.5 613.8 118.5 614.2 119 616.8 119 617.2 119.5 619.8 119.5 620.2 120 623.2 120 623.8 120.5 626.8 120.5 627.2 121 630.2 121 630.8 121.5 633.8 121.5 634.3 122 637.8 122 638.2 122.5 641.2 122.5 641.7 123 645.2 123 645.8 123.5 648.8 123.5 649.2 124 649.8 124 649.8 137.5 649.2 137.5 648.8 138 645.8 138 645.2 138.5 641.7 138.5 641.2 139 638.2 139 637.8 139.5 634.3 139.5 633.8 140 630.8 140 630.2 140.5 627.2 140.5 626.8 141 623.8 141 623.2 141.5 620.2 141.5 619.8 142 617.2 142 616.8 142.5 614.2 142.5 613.8 143 611.2 143 610.7 143.5 607.8 143.5 607.2 144 605.2 144 604.8 144.5 602.2 144.5 601.8 145 599.2 145 598.8 145.5 596.2 145.5 595.8 146 593.8 146 593.2 146.5 590.8 146.5 590.2 147 588.3 147 587.8 147.5 585.2 147.5 584.8 148 582.8 148 582.2 148.5 580.2 148.5 579.8 149 577.8 149 577.2 149.5 575.2 149.5 574.8 150 572.8 150 572.2 150.5 570.2 150.5 569.8 151 568.2 151 567.8 151.5 566.2 151.5 565.8 152 563.8 152 563.2 152.5 561.8 152.5 561.2 153 559.8 153 559.2 153.5 557.8 153.5 557.2 154 555.2 154 554.8 154.5 553.2 154.5 552.8 155 551.3 155 550.8 155.5 549.2 155.5 548.8 156 547.3 156 546.8 156.5 545.2 156.5 544.8 157 543.2 157 542.8 157.5 541.2 157.5 540.8 158 539.2 158 538.8 158.5 537.3 158.5 536.8 159 535.3 159 534.8 159.5 533.2 159.5 532.8 160 531.2 160 530.8 160.5 529.2 160.5 528.8 161 527.7 161 527.2 161.5 525.8 161.5 525.2 162 523.8 162 523.2 162.5 521.2 162.5 520.8 163 519.2 163 518.8 163.5 517.2 163.5 516.8 164 514.8 164 514.2 164.5 512.8 164.5 512.2 165 510.7 165 510.2 165.5 508.2 165.5 507.8 166 506.2 166 505.8 166.5 503.8 166.5 503.2 167 501.8 167 501.2 167.5 499.8 167.5 499.2 168 497.8 168 497.2 168.5 496.2 168.5 495.8 169 494.2 169 493.8 169.5 492.8 169.5 492.2 170 490.7 170 490.2 170.5 488.8 170.5 488.2 171 486.2 171 485.8 171.5 483.7 171.5 483.2 172 480.8 172 480.2 172.5 476.3 172.5 475.8 173 465.8 173 465.2 172.5 462.8 172.5 462.2 172 460.8 172 460.2 171.5 459.2 171.5 458.8 171 458.3 171 457.8 170.5 456.7 170.5 456.3 170 455.8 170 455.2 169.5 454.7 169.5 454.2 169 453.7 169 453.2 168.5 452.8 168.5 451.2 167 450.8 167 448.7 165 448.3 165.5 448.2 172.5 447.7 173 447.7 174.5 447.2 175 447.2 176 446.7 176.5 446.7 178 446.2 178.5 446.2 179.5 445.7 180 445.7 181.5 445.2 182 445.2 183.5 444.7 184 444.7 185 444.2 185.5 444.2 187 443.7 187.5 443.7 189 443.2 189.5 443.2 190.5 442.7 191 442.7 192.5 442.2 193 442.2 194 441.7 194.5 441.7 196 441.2 196.5 441.2 197.5 440.7 198 440.7 199 440.2 199.5 440.2 200.5 439.7 201 439.7 202 439.2 202.5 439.2 203.5 438.7 204 438.7 205 438.2 205.5 438.2 206 437.7 206.5 437.7 207.5 437.2 208 437.2 209 436.7 209.5 436.7 210 436.2 210.5 436.2 212 435.7 212.5 435.7 213.5 435.2 214 435.2 215.5 434.7 216 434.7 217.5 434.2 218 434.2 219 433.7 219.5 433.7 220.5 433.2 221 433.2 222 432.7 222.5 432.7 223.5 432.2 224 432.2 224.5 431.8 225 431.8 225.5 431.3 226 431.3 226.5 430.8 227 430.8 227.5 430.3 228 430.3 229 429.8 229.5 429.8 230.5 429.3 231 429.3 231.5 428.8 232 428.8 233 428.3 233.5 428.3 234.5 427.8 235 427.8 236 427.3 236.5 427.3 237.5 426.8 238 426.8 239 426.3 239.5 426.3 240.5 425.8 241 425.8 242 425.3 242.5 425.3 243 396.2 243 396.2 18.5Z" fill="#001fff"/>
<path d="M396.8 18.5 403.7 18.5 404.2 19 404.2 19.5 405.2 20.5 405.2 21 405.7 21.5 405.7 22 406.7 23 406.7 23.5 407.2 24 407.2 24.5 408.2 25.5 408.2 26 409.2 27 409.2 27.5 409.7 28 409.7 28.5 410.7 29.5 410.7 30 411.2 30.5 411.2 31 412.2 32 412.2 32.5 412.7 33 412.7 33.5 413.7 34.5 413.7 35 414.7 36 414.7 36.5 415.2 37 415.2 37.5 416.2 38.5 416.2 39 416.7 39.5 416.7 40 417.7 41 417.7 41.5 418.2 42 418.2 42.5 418.7 43 418.7 43.5 419.7 44.5 419.7 45 420.2 45.5 420.2 46 420.7 46.5 420.7 47 421.7 48 421.7 48.5 422.2 49 422.2 49.5 422.7 50 422.7 50.5 423.2 51 423.2 51.5 424.2 52.5 424.2 53 424.7 53.5 424.7 54 425.2 54.5 425.2 55 426.2 56 426.2 56.5 426.7 57 426.7 57.5 427.7 58.5 427.7 59 428.2 59.5 428.2 60 429.2 61 429.2 61.5 430.2 62.5 430.2 63 431.2 64 431.2 64.5 431.7 65 431.7 65.5 432.7 66.5 432.7 67 433.2 67.5 433.2 68 434.2 69 434.2 69.5 434.7 70 434.7 70.5 435.7 71.5 435.7 72 436.2 72.5 436.2 73 436.7 73.5 436.7 74 437.2 74.5 437.2 75 438.2 76 438.2 76.5 438.7 77 438.7 77.5 439.2 78 439.2 78.5 439.7 79 439.7 79.5 440.2 80 440.2 80.5 440.7 81 440.7 81.5 441.2 82 441.2 82.5 441.7 83 441.7 83.5 442.2 84 442.2 84.5 442.7 85 442.7 85.5 443.2 86 443.2 86.5 443.7 87 443.7 87.5 444.2 88 444.2 88.5 444.7 89 444.7 89.5 445.2 90 445.2 90.5 445.7 91 445.7 92 446.2 92.5 446.2 93 446.7 93.5 446.7 94.5 447.2 95 447.2 96 447.7 96.5 448.2 96 448.8 96.5 450.8 94.5 451.2 94.5 452.8 93 453.2 93 453.8 92.5 454.2 92.5 454.8 92 455.2 92 455.7 91.5 456.2 91.5 456.7 91 457.8 91 458.2 90.5 458.8 90.5 459.2 90 460.2 90 460.8 89.5 462.2 89.5 462.8 89 465.2 89 465.8 88.5 475.8 88.5 476.2 89 480.2 89 480.8 89.5 483.2 89.5 483.8 90 485.8 90 486.2 90.5 488.2 90.5 488.8 91 490.2 91 490.8 91.5 492.2 91.5 492.8 92 493.8 92 494.2 92.5 495.8 92.5 496.2 93 497.3 93 497.8 93.5 499.2 93.5 499.8 94 501.2 94 501.8 94.5 503.2 94.5 503.8 95 505.8 95 506.2 95.5 507.8 95.5 508.2 96 510.2 96 510.8 96.5 512.2 96.5 512.8 97 514.2 97 514.8 97.5 516.7 97.5 517.2 98 518.7 98 519.2 98.5 520.8 98.5 521.2 99 523.2 99 523.8 99.5 525.2 99.5 525.8 100 527.2 100 527.8 100.5 528.8 100.5 529.2 101 530.8 101 531.2 101.5 532.8 101.5 533.2 102 534.8 102 535.2 102.5 536.8 102.5 537.2 103 538.8 103 539.2 103.5 540.8 103.5 541.2 104 542.8 104 543.2 104.5 544.8 104.5 545.2 105 546.8 105 547.2 105.5 548.8 105.5 549.2 106 550.8 106 551.2 106.5 552.8 106.5 553.3 107 554.8 107 555.2 107.5 557.2 107.5 557.8 108 559.2 108 559.8 108.5 561.2 108.5 561.8 109 563.3 109 563.8 109.5 565.8 109.5 566.2 110 567.8 110 568.2 110.5 569.8 110.5 570.2 111 572.2 111 572.8 111.5 574.8 111.5 575.2 112 577.2 112 577.8 112.5 579.8 112.5 580.2 113 582.2 113 582.8 113.5 584.8 113.5 585.2 114 587.8 114 588.2 114.5 590.2 114.5 590.8 115 593.2 115 593.8 115.5 595.8 115.5 596.2 116 598.8 116 599.2 116.5 601.8 116.5 602.2 117 604.8 117 605.2 117.5 607.2 117.5 607.8 118 610.8 118 611.2 118.5 613.7 118.5 614.2 119 616.8 119 617.2 119.5 619.8 119.5 620.2 120 623.2 120 623.8 120.5 626.8 120.5 627.2 121 630.2 121 630.8 121.5 633.8 121.5 634.3 122 637.8 122 638.2 122.5 641.2 122.5 641.8 123 645.2 123 645.8 123.5 648.8 123.5 649.2 124 649.8 124 649.8 137.5 649.2 137.5 648.8 138 645.8 138 645.2 138.5 641.8 138.5 641.2 139 638.2 139 637.8 139.5 634.3 139.5 633.8 140 630.8 140 630.2 140.5 627.2 140.5 626.8 141 623.8 141 623.2 141.5 620.2 141.5 619.8 142 617.2 142 616.8 142.5 614.2 142.5 613.7 143 611.2 143 610.8 143.5 607.8 143.5 607.2 144 605.2 144 604.8 144.5 602.2 144.5 601.8 145 599.2 145 598.8 145.5 596.2 145.5 595.8 146 593.8 146 593.2 146.5 590.8 146.5 590.2 147 588.2 147 587.8 147.5 585.2 147.5 584.8 148 582.8 148 582.2 148.5 580.2 148.5 579.8 149 577.8 149 577.2 149.5 575.2 149.5 574.8 150 572.8 150 572.2 150.5 570.2 150.5 569.8 151 568.2 151 567.8 151.5 566.2 151.5 565.8 152 563.8 152 563.3 152.5 561.8 152.5 561.2 153 559.8 153 559.2 153.5 557.8 153.5 557.2 154 555.2 154 554.8 154.5 553.3 154.5 552.8 155 551.2 155 550.8 155.5 549.2 155.5 548.8 156 547.2 156 546.8 156.5 545.2 156.5 544.8 157 543.2 157 542.8 157.5 541.2 157.5 540.8 158 539.2 158 538.8 158.5 537.2 158.5 536.8 159 535.2 159 534.8 159.5 533.2 159.5 532.8 160 531.2 160 530.8 160.5 529.2 160.5 528.8 161 527.8 161 527.2 161.5 525.8 161.5 525.2 162 523.8 162 523.2 162.5 521.2 162.5 520.8 163 519.2 163 518.7 163.5 517.2 163.5 516.7 164 514.8 164 514.2 164.5 512.8 164.5 512.2 165 510.8 165 510.2 165.5 508.2 165.5 507.8 166 506.2 166 505.8 166.5 503.8 166.5 503.2 167 501.8 167 501.2 167.5 499.8 167.5 499.2 168 497.8 168 497.3 168.5 496.2 168.5 495.8 169 494.2 169 493.8 169.5 492.8 169.5 492.2 170 490.8 170 490.2 170.5 488.8 170.5 488.2 171 486.2 171 485.8 171.5 483.8 171.5 483.2 172 480.8 172 480.2 172.5 476.2 172.5 475.8 173 465.8 173 465.2 172.5 462.8 172.5 462.2 172 460.8 172 460.2 171.5 459.2 171.5 458.8 171 458.2 171 457.8 170.5 456.7 170.5 456.2 170 455.7 170 455.2 169.5 454.8 169.5 454.2 169 453.8 169 453.2 168.5 452.8 168.5 451.2 167 450.8 167 448.8 165 448.2 165.5 447.7 165 447.2 165.5 447.2 166.5 446.7 167 446.7 168 446.2 168.5 446.2 169 445.7 169.5 445.7 170.5 445.2 171 445.2 171.5 444.7 172 444.7 172.5 444.2 173 444.2 173.5 443.7 174 443.7 174.5 443.2 175 443.2 175.5 442.7 176 442.7 176.5 442.2 177 442.2 177.5 441.7 178 441.7 178.5 441.2 179 441.2 179.5 440.7 180 440.7 180.5 440.2 181 440.2 181.5 439.7 182 439.7 182.5 439.2 183 439.2 183.5 438.7 184 438.7 184.5 438.2 185 438.2 185.5 437.2 186.5 437.2 187 436.7 187.5 436.7 188 436.2 188.5 436.2 189 435.7 189.5 435.7 190 434.7 191 434.7 191.5 434.2 192 434.2 192.5 433.2 193.5 433.2 194 432.7 194.5 432.7 195 431.7 196 431.7 196.5 431.2 197 431.2 197.5 430.2 198.5 430.2 199 429.2 200 429.2 200.5 428.2 201.5 428.2 202 427.7 202.5 427.7 203 426.7 204 426.7 204.5 426.2 205 426.2 205.5 425.2 206.5 425.2 207 424.7 207.5 424.7 208 424.2 208.5 424.2 209 423.2 210 423.2 210.5 422.7 211 422.7 211.5 422.2 212 422.2 212.5 421.7 213 421.7 213.5 420.7 214.5 420.7 215 420.2 215.5 420.2 216 419.7 216.5 419.7 217 418.7 218 418.7 218.5 418.2 219 418.2 219.5 417.7 220 417.7 220.5 416.7 221.5 416.7 222 416.2 222.5 416.2 223 415.2 224 415.2 224.5 414.7 225 414.7 225.5 413.7 226.5 413.7 227 412.7 228 412.7 228.5 412.2 229 412.2 229.5 411.2 230.5 411.2 231 410.7 231.5 410.7 232 409.7 233 409.7 233.5 409.2 234 409.2 234.5 408.2 235.5 408.2 236 407.2 237 407.2 237.5 406.7 238 406.7 238.5 405.7 239.5 405.7 240 405.2 240.5 405.2 241 404.2 242 404.2 242.5 403.7 243 396.2 243 396.2 18.5ZM419.8 18.5 425.3 18.5 425.3 19 425.8 19.5 425.8 20.5 426.3 21 426.3 22 426.8 22.5 426.8 23.5 427.3 24 427.3 25 427.8 25.5 427.8 26.5 428.3 27 428.3 28 428.8 28.5 428.8 29.5 429.3 30 429.3 30.5 429.8 31 429.8 32 430.3 32.5 430.3 33.5 430.8 34 430.8 34.5 431.3 35 431.3 35.5 431.8 36.2 432.1 37.5 432.6 38 432.6 39 433.1 39.5 433.1 40.5 433.6 41 433.6 42 434.1 42.5 434.1 43.5 434.6 44 434.6 45.5 435.1 46 435.1 47.5 435.6 48 435.6 49 436.1 49.5 436.1 51 436.6 51.5 436.6 52 437.1 52.5 437.1 53.5 437.6 54 437.6 55 438.1 55.5 438.1 56 438.6 56.5 438.6 57.5 439.1 58 439.1 59 439.6 59.5 439.6 60.5 440.1 61 440.1 62 440.6 62.5 440.6 63.5 441.1 64 441.1 65 441.6 65.5 441.6 67 442.1 67.5 442.1 68.5 442.6 69 442.6 70.5 443.1 71 443.1 72 443.6 72.5 443.6 74 444.1 74.5 444.1 76 444.6 76.5 444.6 77.5 445.1 78 445.1 79.5 445.6 80 445.6 81.5 446.1 82 446.1 83 446.6 83.5 446.6 85 447.1 85.5 447.1 86.5 447.6 87 447.6 88.5 448.1 89 448.1 90.5 448.2 90.7 448.2 93.9 447.8 93.5 447.8 92.5 447.3 92 447.3 91 446.8 90.5 446.8 89.5 446.3 89 446.3 88.5 445.8 88 445.8 87 445.3 86.5 445.3 85.5 444.8 85 444.8 84.5 444.3 84 444.3 83 443.8 82.5 443.8 81.5 443.3 81 443.3 80.5 442.8 80 442.8 79 442.3 78.5 442.3 77.5 441.8 77 441.8 76.5 441.3 76 441.3 75 440.8 74.5 440.8 73.5 440.3 73 440.3 72 439.8 71.5 439.8 71 439.3 70.5 439.3 69.5 438.8 69 438.8 68 438.3 67.5 438.3 67 437.8 66.5 437.8 65.5 437.3 65 437.3 64 436.8 63.5 436.8 63 436.3 62.5 436.3 61.5 435.8 61 435.8 60.5 435.3 60 435.3 59.5 434.8 59 434.8 58 434.3 57.5 434.3 57 433.8 56.5 433.8 56 433.3 55.5 433.3 55 432.8 54.5 432.8 54 432.3 53.5 432.3 53 431.8 52.5 431.8 52 431.3 51.5 431.3 50.5 430.8 50 430.8 49.5 430.3 49 430.3 48 429.8 47.5 429.8 46.5 429.3 46 429.3 45.5 428.8 45 428.8 44 428.3 43.5 428.3 42.5 427.8 42 427.8 41.5 427.3 41 427.3 40 426.8 39.5 426.8 39 426.3 38.5 426.3 38 425.8 37.5 425.8 36.5 425.3 36 425.3 35 424.8 34.5 424.8 34 424.3 33.5 424.3 32.5 423.8 32 423.8 31 423.3 30.5 423.3 30 422.8 29.5 422.8 28.5 422.3 28 422.3 27 421.8 26.5 421.8 25.5 421.3 25 421.3 24 420.8 23.5 420.8 22.5 420.3 22 420.3 21 419.8 20.5 419.8 19.5 419.3 19 419.3 18.5ZM448.2 167.6 448.2 170.8 448.1 171 448.1 172.5 447.6 173 447.6 174.5 447.1 175 447.1 176 446.6 176.5 446.6 178 446.1 178.5 446.1 179.5 445.6 180 445.6 181.5 445.1 182 445.1 183.5 444.6 184 444.6 185 444.1 185.5 444.1 187 443.6 187.5 443.6 189 443.1 189.5 443.1 190.5 442.6 191 442.6 192.5 442.1 193 442.1 194 441.6 194.5 441.6 196 441.1 196.5 441.1 197.5 440.6 198 440.6 199 440.1 199.5 440.1 200.5 439.6 201 439.6 202 439.1 202.5 439.1 203.5 438.6 204 438.6 205 438.1 205.5 438.1 206 437.6 206.5 437.6 207.5 437.1 208 437.1 209 436.6 209.5 436.6 210 436.1 210.5 436.1 212 435.6 212.5 435.6 213.5 435.1 214 435.1 215.5 434.6 216 434.6 217.5 434.1 218 434.1 219 433.6 219.5 433.6 220.5 433.1 221 433.1 222 432.6 222.5 432.6 223.5 432.1 224 432.1 224.5 431.3 226 431.3 226.5 430.8 227 430.8 227.5 430.3 228 430.3 229 429.8 229.5 429.8 230.5 429.3 231 429.3 231.5 428.8 232 428.8 233 428.3 233.5 428.3 234.5 427.8 235 427.8 236 427.3 236.5 427.3 237.5 426.8 238 426.8 239 426.3 239.5 426.3 240.5 425.8 241 425.8 242 425.3 242.5 425.3 243 419.3 243 419.3 242.5 419.8 242 419.8 241 420.3 240.5 420.3 239.5 420.8 239 420.8 238 421.3 237.5 421.3 236.5 421.8 236 421.8 235 422.3 234.5 422.3 233.5 422.8 233 422.8 232 423.3 231.5 423.3 231 423.8 230.5 423.8 229.5 424.3 229 424.3 228 424.8 227.5 424.8 227 425.3 226.5 425.3 225.5 425.8 225 425.8 224 426.3 223.5 426.3 223 426.8 222.5 426.8 222 427.3 221.5 427.3 220.5 427.8 220 427.8 219.5 428.3 219 428.3 218 428.8 217.5 428.8 216.5 429.3 216 429.3 215.5 429.8 215 429.8 214 430.3 213.5 430.3 212.5 430.8 212 430.8 211.5 431.3 211 431.3 210 431.8 209.5 431.8 209 432.3 208.5 432.3 208 432.8 207.5 432.8 207 433.3 206.5 433.3 206 433.8 205.5 433.8 205 434.3 204.5 434.3 204 434.8 203.5 434.8 202.5 435.3 202 435.3 201.5 435.8 201 435.8 200.5 436.3 200 436.3 199 436.8 198.5 436.8 198 437.3 197.5 437.3 196.5 437.8 196 437.8 195 438.3 194.5 438.3 194 438.8 193.5 438.8 192.5 439.3 192 439.3 191 439.8 190.5 439.8 190 440.3 189.5 440.3 188.5 440.8 188 440.8 187 441.3 186.5 441.3 185.5 441.8 185 441.8 184.5 442.3 184 442.3 183 442.8 182.5 442.8 181.5 443.3 181 443.3 180.5 443.8 180 443.8 179 444.3 178.5 444.3 177.5 444.8 177 444.8 176.5 445.3 176 445.3 175 445.8 174.5 445.8 173.5 446.3 173 446.3 172.5 446.8 172 446.8 171 447.3 170.5 447.3 169.5 447.8 169 447.8 168Z" fill="#0042ff"/>
<path d="M396.8 18.5 403.6 18.5 404.1 19 404.1 19.5 405.1 20.5 405.1 21 405.6 21.5 405.6 22 406.6 23 406.6 23.5 407.1 24 407.1 24.5 408.1 25.5 408.1 26 409.1 27 409.1 27.5 409.6 28 409.6 28.5 410.6 29.5 410.6 30 411.1 30.5 411.1 31 412.1 32 412.1 32.5 412.6 33 412.6 33.5 413.6 34.5 413.6 35 414.6 36 414.6 36.5 415.1 37 415.1 37.5 416.1 38.5 416.1 39 416.6 39.5 416.6 40 417.6 41 417.6 41.5 418.1 42 418.1 42.5 418.6 43 418.6 43.5 419.6 44.5 419.6 45 420.1 45.5 420.1 46 420.6 46.5 420.6 47 421.6 48 421.6 48.5 422.1 49 422.1 49.5 422.6 50 422.6 50.5 423.1 51 423.1 51.5 424.1 52.5 424.1 53 424.6 53.5 424.6 54 425.1 54.5 425.1 55 426.1 56 426.1 56.5 426.6 57 426.6 57.5 427.6 58.5 427.6 59 428.1 59.5 428.1 60 429.1 61 429.1 61.5 430.1 62.5 430.1 63 431.1 64 431.1 64.5 431.6 65 431.6 65.5 432.6 66.5 432.6 67 433.1 67.5 433.1 68 434.1 69 434.1 69.5 434.6 70 434.6 70.5 435.6 71.5 435.6 72 436.1 72.5 436.1 73 436.6 73.5 436.6 74 437.1 74.5 437.1 75 438.1 76 438.1 76.5 438.6 77 438.6 77.5 439.1 78 439.1 78.5 439.6 79 439.6 79.5 440.1 80 440.1 80.5 440.6 81 440.6 81.5 441.1 82 441.1 82.5 441.6 83 441.6 83.5 442.1 84 442.1 84.5 442.6 85 442.6 85.5 443.1 86 443.1 86.5 443.6 87 443.6 87.5 444.1 88 444.1 88.5 444.6 89 444.6 89.5 445.1 90 445.1 90.5 445.6 91 445.6 92 446.1 92.5 446.1 93 446.6 93.5 446.6 94.5 447.1 95 447.1 96 447.6 96.5 448.2 96 448.7 96.5 450.7 94.5 451.2 94.5 452.8 93 453.3 93 453.8 92.5 454.2 92.5 454.8 92 455.2 92 455.7 91.5 456.2 91.5 456.8 91 457.7 91 458.2 90.5 458.8 90.5 459.2 90 460.2 90 460.7 89.5 462.2 89.5 462.8 89 465.2 89 465.7 88.5 475.7 88.5 476.2 89 480.2 89 480.8 89.5 483.2 89.5 483.8 90 485.7 90 486.2 90.5 488.2 90.5 488.8 91 490.2 91 490.8 91.5 492.2 91.5 492.8 92 493.8 92 494.2 92.5 495.8 92.5 496.2 93 497.2 93 497.8 93.5 499.2 93.5 499.8 94 501.3 94 501.8 94.5 503.2 94.5 503.8 95 505.8 95 506.2 95.5 507.8 95.5 508.2 96 510.2 96 510.8 96.5 512.2 96.5 512.8 97 514.2 97 514.8 97.5 516.8 97.5 517.2 98 518.8 98 519.2 98.5 520.8 98.5 521.2 99 523.2 99 523.8 99.5 525.2 99.5 525.8 100 527.2 100 527.8 100.5 528.8 100.5 529.2 101 530.8 101 531.2 101.5 532.8 101.5 533.2 102 534.8 102 535.2 102.5 536.8 102.5 537.2 103 538.8 103 539.2 103.5 540.8 103.5 541.2 104 542.8 104 543.2 104.5 544.8 104.5 545.2 105 546.8 105 547.3 105.5 548.8 105.5 549.2 106 550.8 106 551.2 106.5 552.8 106.5 553.2 107 554.8 107 555.2 107.5 557.2 107.5 557.8 108 559.2 108 559.8 108.5 561.3 108.5 561.8 109 563.2 109 563.8 109.5 565.8 109.5 566.2 110 567.8 110 568.2 110.5 569.8 110.5 570.2 111 572.2 111 572.8 111.5 574.8 111.5 575.2 112 577.3 112 577.8 112.5 579.8 112.5 580.2 113 582.2 113 582.8 113.5 584.8 113.5 585.2 114 587.8 114 588.2 114.5 590.2 114.5 590.8 115 593.2 115 593.8 115.5 595.8 115.5 596.2 116 598.8 116 599.2 116.5 601.8 116.5 602.2 117 604.8 117 605.2 117.5 607.2 117.5 607.8 118 610.8 118 611.2 118.5 613.8 118.5 614.3 119 616.8 119 617.2 119.5 619.8 119.5 620.2 120 623.2 120 623.8 120.5 626.7 120.5 627.2 121 630.2 121 630.8 121.5 633.8 121.5 634.2 122 637.8 122 638.2 122.5 641.2 122.5 641.8 123 645.2 123 645.8 123.5 648.8 123.5 649.2 124 649.8 124 649.8 137.5 649.2 137.5 648.8 138 645.8 138 645.2 138.5 641.8 138.5 641.2 139 638.2 139 637.8 139.5 634.2 139.5 633.8 140 630.8 140 630.2 140.5 627.2 140.5 626.7 141 623.8 141 623.2 141.5 620.2 141.5 619.8 142 617.2 142 616.8 142.5 614.3 142.5 613.8 143 611.2 143 610.8 143.5 607.8 143.5 607.2 144 605.2 144 604.8 144.5 602.2 144.5 601.8 145 599.2 145 598.8 145.5 596.2 145.5 595.8 146 593.8 146 593.2 146.5 590.8 146.5 590.2 147 588.2 147 587.8 147.5 585.2 147.5 584.8 148 582.8 148 582.2 148.5 580.2 148.5 579.8 149 577.8 149 577.3 149.5 575.2 149.5 574.8 150 572.8 150 572.2 150.5 570.2 150.5 569.8 151 568.2 151 567.8 151.5 566.2 151.5 565.8 152 563.8 152 563.2 152.5 561.8 152.5 561.3 153 559.8 153 559.2 153.5 557.8 153.5 557.2 154 555.2 154 554.8 154.5 553.2 154.5 552.8 155 551.2 155 550.8 155.5 549.2 155.5 548.8 156 547.3 156 546.8 156.5 545.2 156.5 544.8 157 543.2 157 542.8 157.5 541.2 157.5 540.8 158 539.2 158 538.8 158.5 537.2 158.5 536.8 159 535.2 159 534.8 159.5 533.2 159.5 532.8 160 531.2 160 530.8 160.5 529.2 160.5 528.8 161 527.8 161 527.2 161.5 525.8 161.5 525.2 162 523.8 162 523.2 162.5 521.2 162.5 520.8 163 519.2 163 518.8 163.5 517.2 163.5 516.8 164 514.8 164 514.2 164.5 512.8 164.5 512.2 165 510.8 165 510.2 165.5 508.2 165.5 507.8 166 506.2 166 505.8 166.5 503.8 166.5 503.2 167 501.8 167 501.3 167.5 499.8 167.5 499.2 168 497.8 168 497.2 168.5 496.2 168.5 495.8 169 494.2 169 493.8 169.5 492.8 169.5 492.2 170 490.8 170 490.2 170.5 488.8 170.5 488.2 171 486.2 171 485.7 171.5 483.8 171.5 483.2 172 480.8 172 480.2 172.5 476.2 172.5 475.7 173 465.7 173 465.2 172.5 462.8 172.5 462.2 172 460.7 172 460.2 171.5 459.2 171.5 458.8 171 458.2 171 457.7 170.5 456.8 170.5 456.2 170 455.7 170 455.2 169.5 454.8 169.5 454.2 169 453.8 169 453.3 168.5 452.8 168.5 451.2 167 450.7 167 448.7 165 448.2 165.5 447.6 165 447.1 165.5 447.1 166.5 446.6 167 446.6 168 446.1 168.5 446.1 169 445.6 169.5 445.6 170.5 445.1 171 445.1 171.5 444.6 172 444.6 172.5 444.1 173 444.1 173.5 443.6 174 443.6 174.5 443.1 175 443.1 175.5 442.6 176 442.6 176.5 442.1 177 442.1 177.5 441.6 178 441.6 178.5 441.1 179 441.1 179.5 440.6 180 440.6 180.5 440.1 181 440.1 181.5 439.6 182 439.6 182.5 439.1 183 439.1 183.5 438.6 184 438.6 184.5 438.1 185 438.1 185.5 437.1 186.5 437.1 187 436.6 187.5 436.6 188 436.1 188.5 436.1 189 435.6 189.5 435.6 190 434.6 191 434.6 191.5 434.1 192 434.1 192.5 433.1 193.5 433.1 194 432.6 194.5 432.6 195 431.6 196 431.6 196.5 431.1 197 431.1 197.5 430.1 198.5 430.1 199 429.1 200 429.1 200.5 428.1 201.5 428.1 202 427.6 202.5 427.6 203 426.6 204 426.6 204.5 426.1 205 426.1 205.5 425.1 206.5 425.1 207 424.6 207.5 424.6 208 424.1 208.5 424.1 209 423.1 210 423.1 210.5 422.6 211 422.6 211.5 422.1 212 422.1 212.5 421.6 213 421.6 213.5 420.6 214.5 420.6 215 420.1 215.5 420.1 216 419.6 216.5 419.6 217 418.6 218 418.6 218.5 418.1 219 418.1 219.5 417.6 220 417.6 220.5 416.6 221.5 416.6 222 416.1 222.5 416.1 223 415.1 224 415.1 224.5 414.6 225 414.6 225.5 413.6 226.5 413.6 227 412.6 228 412.6 228.5 412.1 229 412.1 229.5 411.1 230.5 411.1 231 410.6 231.5 410.6 232 409.6 233 409.6 233.5 409.1 234 409.1 234.5 408.1 235.5 408.1 236 407.1 237 407.1 237.5 406.6 238 406.6 238.5 405.6 239.5 405.6 240 405.1 240.5 405.1 241 404.1 242 404.1 242.5 403.6 243 396.2 243 396.2 18.5ZM419.8 18.5 425.3 18.5 425.3 19 425.8 19.5 425.8 20.5 426.3 21 426.3 22 426.8 22.5 426.8 23.5 427.3 24 427.3 25 427.8 25.5 427.8 26.5 428.3 27 428.3 28 428.8 28.5 428.8 29.5 429.3 30 429.3 30.5 429.8 31 429.8 32 430.3 32.5 430.3 33.5 430.8 34 430.8 34.5 431.3 35 431.4 36 431.8 36.4 431.9 37.5 432.4 38 432.4 39 432.9 39.5 432.9 40.5 433.4 41 433.4 42 433.9 42.5 433.9 43.5 434.4 44 434.4 45.5 434.9 46 434.9 47.5 435.4 48 435.4 49 435.9 49.5 435.9 51 436.4 51.5 436.4 52 436.9 52.5 436.9 53.5 437.4 54 437.4 55 437.9 55.5 437.9 56 438.4 56.5 438.4 57.5 438.9 58 438.9 59 439.4 59.5 439.4 60.5 439.9 61 439.9 62 440.4 62.5 440.4 63.5 440.9 64 440.9 65 441.4 65.5 441.4 67 441.9 67.5 441.9 68.5 442.4 69 442.4 70.5 442.9 71 442.9 72 443.4 72.5 443.4 74 443.9 74.5 443.9 76 444.4 76.5 444.4 77.5 444.9 78 444.9 79.5 445.4 80 445.4 81.5 445.9 82 445.9 83 446.4 83.5 446.4 85 446.9 85.5 446.9 86.5 447.4 87 447.4 88.5 447.9 89 447.9 90.5 448.2 90.9 448.2 93.7 448.1 93.5 448.1 92.5 447.6 92 447.6 91 447.1 90.5 447.1 89.5 446.6 89 446.6 88.5 446.1 88 446.1 87 445.6 86.5 445.6 85.5 445.1 85 445.1 84.5 444.6 84 444.6 83 444.1 82.5 444.1 81.5 443.6 81 443.6 80.5 443.1 80 443.1 79 442.6 78.5 442.6 77.5 442.1 77 442.1 76.5 441.6 76 441.6 75 441.1 74.5 441.1 73.5 440.6 73 440.6 72 440.1 71.5 440.1 71 439.6 70.5 439.6 69.5 439.1 69 439.1 68 438.6 67.5 438.6 67 438.1 66.5 438.1 65.5 437.6 65 437.6 64 437.1 63.5 437.1 63 436.6 62.5 436.6 61.5 436.1 61 436.1 60.5 435.6 60 435.6 59.5 435.1 59 435.1 58 434.6 57.5 434.6 57 434.1 56.5 434.1 56 433.6 55.5 433.6 55 433.1 54.5 433.1 54 432.6 53.5 432.6 53 432.1 52.5 432.1 52 431.6 51.5 431.6 50.5 431.1 50 431.1 49.5 430.6 49 430.6 48 430.1 47.5 430.1 46.5 429.6 46 429.6 45.5 429.1 45 429.1 44 428.6 43.5 428.6 42.5 428.1 42 428.1 41.5 427.6 41 427.6 40 427.1 39.5 427.1 39 426.6 38.5 426.6 38 426.1 37.5 426.1 36.5 425.6 36 425.6 35 425.1 34.5 425.1 34 424.6 33.5 424.6 32.5 424.1 32 424.1 31 423.6 30.5 423.6 30 423.1 29.5 423.1 28.5 422.6 28 422.6 27 422.1 26.5 422.1 25.5 421.6 25 421.6 24 421.1 23.5 421.1 22.5 420.6 22 420.6 21 420.1 20.5 420.1 19.5 419.6 19 419.6 18.5ZM448.2 167.8 448.2 170.6 447.9 171 447.9 172.5 447.4 173 447.4 174.5 446.9 175 446.9 176 446.4 176.5 446.4 178 445.9 178.5 445.9 179.5 445.4 180 445.4 181.5 444.9 182 444.9 183.5 444.4 184 444.4 185 443.9 185.5 443.9 187 443.4 187.5 443.4 189 442.9 189.5 442.9 190.5 442.4 191 442.4 192.5 441.9 193 441.9 194 441.4 194.5 441.4 196 440.9 196.5 440.9 197.5 440.4 198 440.4 199 439.9 199.5 439.9 200.5 439.4 201 439.4 202 438.9 202.5 438.9 203.5 438.4 204 438.4 205 437.9 205.5 437.9 206 437.4 206.5 437.4 207.5 436.9 208 436.9 209 436.4 209.5 436.4 210 435.9 210.5 435.9 212 435.4 212.5 435.4 213.5 434.9 214 434.9 215.5 434.4 216 434.4 217.5 433.9 218 433.9 219 433.4 219.5 433.4 220.5 432.9 221 432.9 222 432.4 222.5 432.4 223.5 431.9 224 431.8 225.1 431.4 225.5 431.3 226.5 430.8 227 430.8 227.5 430.3 228 430.3 229 429.8 229.5 429.8 230.5 429.3 231 429.3 231.5 428.8 232 428.8 233 428.3 233.5 428.3 234.5 427.8 235 427.8 236 427.3 236.5 427.3 237.5 426.8 238 426.8 239 426.3 239.5 426.3 240.5 425.8 241 425.8 242 425.3 242.5 425.3 243 419.6 243 419.6 242.5 420.1 242 420.1 241 420.6 240.5 420.6 239.5 421.1 239 421.1 238 421.6 237.5 421.6 236.5 422.1 236 422.1 235 422.6 234.5 422.6 233.5 423.1 233 423.1 232 423.6 231.5 423.6 231 424.1 230.5 424.1 229.5 424.6 229 424.6 228 425.1 227.5 425.1 227 425.6 226.5 425.6 225.5 426.1 225 426.1 224 426.6 223.5 426.6 223 427.1 222.5 427.1 222 427.6 221.5 427.6 220.5 428.1 220 428.1 219.5 428.6 219 428.6 218 429.1 217.5 429.1 216.5 429.6 216 429.6 215.5 430.1 215 430.1 214 430.6 213.5 430.6 212.5 431.1 212 431.1 211.5 431.6 211 431.6 210 432.1 209.5 432.1 209 432.6 208.5 432.6 208 433.1 207.5 433.1 207 433.6 206.5 433.6 206 434.1 205.5 434.1 205 434.6 204.5 434.6 204 435.1 203.5 435.1 202.5 435.6 202 435.6 201.5 436.1 201 436.1 200.5 436.6 200 436.6 199 437.1 198.5 437.1 198 437.6 197.5 437.6 196.5 438.1 196 438.1 195 438.6 194.5 438.6 194 439.1 193.5 439.1 192.5 439.6 192 439.6 191 440.1 190.5 440.1 190 440.6 189.5 440.6 188.5 441.1 188 441.1 187 441.6 186.5 441.6 185.5 442.1 185 442.1 184.5 442.6 184 442.6 183 443.1 182.5 443.1 181.5 443.6 181 443.6 180.5 444.1 180 444.1 179 444.6 178.5 444.6 177.5 445.1 177 445.1 176.5 445.6 176 445.6 175 446.1 174.5 446.1 173.5 446.6 173 446.6 172.5 447.1 172 447.1 171 447.6 170.5 447.6 169.5 448.1 169 448.1 168Z" fill="#0065ff"/>
<path d="M396.8 18.5 403.5 18.5 404 19 404 19.5 405 20.5 405 21 405.5 21.5 405.5 22 406.5 23 406.5 23.5 407 24 407 24.5 408 25.5 408 26 409 27 409 27.5 409.5 28 409.5 28.5 410.5 29.5 410.5 30 411 30.5 411 31 412 32 412 32.5 412.5 33 412.5 33.5 413.5 34.5 413.5 35 414.5 36 414.5 36.5 415 37 415 37.5 416 38.5 416 39 416.5 39.5 416.5 40 417.5 41 417.5 41.5 418 42 418 42.5 418.5 43 418.5 43.5 419.5 44.5 419.5 45 420 45.5 420 46 420.5 46.5 420.5 47 421.5 48 421.5 48.5 422 49 422 49.5 422.5 50 422.5 50.5 423 51 423 51.5 424 52.5 424 53 424.5 53.5 424.5 54 425 54.5 425 55 426 56 426 56.5 426.5 57 426.5 57.5 427.5 58.5 427.5 59 428 59.5 428 60 429 61 429 61.5 430 62.5 430 63 431 64 431 64.5 431.5 65 431.5 65.5 432.5 66.5 432.5 67 433 67.5 433 68 434 69 434 69.5 434.5 70 434.5 70.5 435.5 71.5 435.5 72 436 72.5 436 73 436.5 73.5 436.5 74 437 74.5 437 75 438 76 438 76.5 438.5 77 438.5 77.5 439 78 439 78.5 439.5 79 439.5 79.5 440 80 440 80.5 440.5 81 440.5 81.5 441 82 441 82.5 441.5 83 441.5 83.5 442 84 442 84.5 442.5 85 442.5 85.5 443 86 443 86.5 443.5 87 443.5 87.5 444 88 444 88.5 444.5 89 444.5 89.5 445 90 445 90.5 445.5 91 445.5 92 446 92.5 446 93 446.5 93.5 446.5 94.5 447 95 447 96 447.5 96.5 447.8 96.5 448.2 96 448.8 96.5 450.8 94.5 451.2 94.5 452.8 93 453.2 93 453.8 92.5 454.3 92.5 454.8 92 455.2 92 455.8 91.5 456.3 91.5 456.8 91 457.8 91 458.3 90.5 458.8 90.5 459.2 90 460.2 90 460.8 89.5 462.2 89.5 462.8 89 465.2 89 465.8 88.5 475.8 88.5 476.2 89 480.2 89 480.7 89.5 483.2 89.5 483.8 90 485.8 90 486.2 90.5 488.2 90.5 488.8 91 490.2 91 490.8 91.5 492.2 91.5 492.7 92 493.8 92 494.2 92.5 495.8 92.5 496.2 93 497.2 93 497.8 93.5 499.2 93.5 499.8 94 501.2 94 501.8 94.5 503.2 94.5 503.8 95 505.8 95 506.2 95.5 507.8 95.5 508.3 96 510.2 96 510.8 96.5 512.2 96.5 512.8 97 514.2 97 514.8 97.5 516.8 97.5 517.2 98 518.8 98 519.2 98.5 520.8 98.5 521.2 99 523.2 99 523.8 99.5 525.2 99.5 525.7 100 527.2 100 527.8 100.5 528.8 100.5 529.2 101 530.8 101 531.3 101.5 532.8 101.5 533.2 102 534.8 102 535.2 102.5 536.8 102.5 537.2 103 538.7 103 539.2 103.5 540.8 103.5 541.2 104 542.8 104 543.2 104.5 544.8 104.5 545.2 105 546.8 105 547.2 105.5 548.8 105.5 549.2 106 550.8 106 551.3 106.5 552.8 106.5 553.2 107 554.8 107 555.2 107.5 557.2 107.5 557.8 108 559.2 108 559.8 108.5 561.2 108.5 561.8 109 563.2 109 563.8 109.5 565.8 109.5 566.2 110 567.8 110 568.2 110.5 569.8 110.5 570.2 111 572.2 111 572.8 111.5 574.8 111.5 575.2 112 577.2 112 577.8 112.5 579.8 112.5 580.2 113 582.2 113 582.8 113.5 584.8 113.5 585.2 114 587.8 114 588.2 114.5 590.2 114.5 590.7 115 593.2 115 593.8 115.5 595.8 115.5 596.2 116 598.7 116 599.2 116.5 601.8 116.5 602.2 117 604.8 117 605.2 117.5 607.3 117.5 607.7 118 610.8 118 611.2 118.5 613.8 118.5 614.2 119 616.8 119 617.2 119.5 619.8 119.5 620.2 120 623.2 120 623.8 120.5 626.8 120.5 627.2 121 630.2 121 630.8 121.5 633.8 121.5 634.2 122 637.8 122 638.2 122.5 641.2 122.5 641.8 123 645.2 123 645.8 123.5 648.8 123.5 649.2 124 649.8 124 649.8 137.5 649.2 137.5 648.8 138 645.8 138 645.2 138.5 641.8 138.5 641.2 139 638.2 139 637.8 139.5 634.2 139.5 633.8 140 630.8 140 630.2 140.5 627.2 140.5 626.8 141 623.8 141 623.2 141.5 620.2 141.5 619.8 142 617.2 142 616.8 142.5 614.2 142.5 613.8 143 611.2 143 610.8 143.5 607.7 143.5 607.3 144 605.2 144 604.8 144.5 602.2 144.5 601.8 145 599.2 145 598.7 145.5 596.2 145.5 595.8 146 593.8 146 593.2 146.5 590.7 146.5 590.2 147 588.2 147 587.8 147.5 585.2 147.5 584.8 148 582.8 148 582.2 148.5 580.2 148.5 579.8 149 577.8 149 577.2 149.5 575.2 149.5 574.8 150 572.8 150 572.2 150.5 570.2 150.5 569.8 151 568.2 151 567.8 151.5 566.2 151.5 565.8 152 563.8 152 563.2 152.5 561.8 152.5 561.2 153 559.8 153 559.2 153.5 557.8 153.5 557.2 154 555.2 154 554.8 154.5 553.2 154.5 552.8 155 551.3 155 550.8 155.5 549.2 155.5 548.8 156 547.2 156 546.8 156.5 545.2 156.5 544.8 157 543.2 157 542.8 157.5 541.2 157.5 540.8 158 539.2 158 538.7 158.5 537.2 158.5 536.8 159 535.2 159 534.8 159.5 533.2 159.5 532.8 160 531.3 160 530.8 160.5 529.2 160.5 528.8 161 527.8 161 527.2 161.5 525.7 161.5 525.2 162 523.8 162 523.2 162.5 521.2 162.5 520.8 163 519.2 163 518.8 163.5 517.2 163.5 516.8 164 514.8 164 514.2 164.5 512.8 164.5 512.2 165 510.8 165 510.2 165.5 508.3 165.5 507.8 166 506.2 166 505.8 166.5 503.8 166.5 503.2 167 501.8 167 501.2 167.5 499.8 167.5 499.2 168 497.8 168 497.2 168.5 496.2 168.5 495.8 169 494.2 169 493.8 169.5 492.7 169.5 492.2 170 490.8 170 490.2 170.5 488.8 170.5 488.2 171 486.2 171 485.8 171.5 483.8 171.5 483.2 172 480.7 172 480.2 172.5 476.2 172.5 475.8 173 465.8 173 465.2 172.5 462.8 172.5 462.2 172 460.8 172 460.2 171.5 459.2 171.5 458.8 171 458.3 171 457.8 170.5 456.8 170.5 456.3 170 455.8 170 455.2 169.5 454.8 169.5 454.3 169 453.8 169 453.2 168.5 452.8 168.5 451.2 167 450.8 167 448.8 165 448.2 165.5 447.8 165 447.5 165 447 165.5 447 166.5 446.5 167 446.5 168 446 168.5 446 169 445.5 169.5 445.5 170.5 445 171 445 171.5 444.5 172 444.5 172.5 444 173 444 173.5 443.5 174 443.5 174.5 443 175 443 175.5 442.5 176 442.5 176.5 442 177 442 177.5 441.5 178 441.5 178.5 441 179 441 179.5 440.5 180 440.5 180.5 440 181 440 181.5 439.5 182 439.5 182.5 439 183 439 183.5 438.5 184 438.5 184.5 438 185 438 185.5 437 186.5 437 187 436.5 187.5 436.5 188 436 188.5 436 189 435.5 189.5 435.5 190 434.5 191 434.5 191.5 434 192 434 192.5 433 193.5 433 194 432.5 194.5 432.5 195 431.5 196 431.5 196.5 431 197 431 197.5 430 198.5 430 199 429 200 429 200.5 428 201.5 428 202 427.5 202.5 427.5 203 426.5 204 426.5 204.5 426 205 426 205.5 425 206.5 425 207 424.5 207.5 424.5 208 424 208.5 424 209 423 210 423 210.5 422.5 211 422.5 211.5 422 212 422 212.5 421.5 213 421.5 213.5 420.5 214.5 420.5 215 420 215.5 420 216 419.5 216.5 419.5 217 418.5 218 418.5 218.5 418 219 418 219.5 417.5 220 417.5 220.5 416.5 221.5 416.5 222 416 222.5 416 223 415 224 415 224.5 414.5 225 414.5 225.5 413.5 226.5 413.5 227 412.5 228 412.5 228.5 412 229 412 229.5 411 230.5 411 231 410.5 231.5 410.5 232 409.5 233 409.5 233.5 409 234 409 234.5 408 235.5 408 236 407 237 407 237.5 406.5 238 406.5 238.5 405.5 239.5 405.5 240 405 240.5 405 241 404 242 404 242.5 403.5 243 396.2 243 396.2 18.5Z" fill="#0088ff"/>
<path d="M396.8 18.5 403.4 18.5 403.9 19 403.9 19.5 404.9 20.5 404.9 21 405.4 21.5 405.4 22 406.4 23 406.4 23.5 406.9 24 406.9 24.5 407.9 25.5 407.9 26 408.9 27 408.9 27.5 409.4 28 409.4 28.5 410.4 29.5 410.4 30 410.9 30.5 410.9 31 411.9 32 411.9 32.5 412.4 33 412.4 33.5 413.4 34.5 413.4 35 414.4 36 414.4 36.5 414.9 37 414.9 37.5 415.9 38.5 415.9 39 416.4 39.5 416.4 40 417.4 41 417.4 41.5 417.9 42 417.9 42.5 418.4 43 418.4 43.5 419.4 44.5 419.4 45 419.9 45.5 419.9 46 420.4 46.5 420.4 47 421.4 48 421.4 48.5 421.9 49 421.9 49.5 422.4 50 422.4 50.5 422.9 51 422.9 51.5 423.9 52.5 423.9 53 424.4 53.5 424.4 54 424.9 54.5 424.9 55 425.9 56 425.9 56.5 426.4 57 426.4 57.5 427.4 58.5 427.4 59 427.9 59.5 427.9 60 428.9 61 428.9 61.5 429.9 62.5 429.9 63 430.9 64 430.9 64.5 431.4 65 431.4 65.5 432.4 66.5 432.4 67 432.9 67.5 432.9 68 433.9 69 433.9 69.5 434.4 70 434.4 70.5 435.4 71.5 435.4 72 435.9 72.5 435.9 73 436.4 73.5 436.4 74 436.9 74.5 436.9 75 437.9 76 437.9 76.5 438.4 77 438.4 77.5 438.9 78 438.9 78.5 439.4 79 439.4 79.5 439.9 80 439.9 80.5 440.4 81 440.4 81.5 440.9 82 440.9 82.5 441.4 83 441.4 83.5 441.9 84 441.9 84.5 442.4 85 442.4 85.5 442.9 86 442.9 86.5 443.4 87 443.4 87.5 443.9 88 443.9 88.5 444.4 89 444.4 89.5 444.9 90 444.9 90.5 445.4 91 445.4 92 445.9 92.5 445.9 93 446.4 93.5 446.4 94.5 446.9 95 446.9 96 447.4 96.5 447.8 96.6 448.2 96.1 448.8 96.5 450.8 94.5 451.2 94.5 452.8 93 453.2 93 453.8 92.5 454.2 92.5 454.8 92 455.2 92 455.8 91.5 456.2 91.5 456.8 91 457.8 91 458.3 90.5 458.8 90.5 459.2 90 460.2 90 460.8 89.5 462.3 89.5 462.8 89 465.2 89 465.8 88.5 475.8 88.5 476.2 89 480.2 89 480.7 89.5 483.2 89.5 483.8 90 485.8 90 486.3 90.5 488.2 90.5 488.8 91 490.2 91 490.8 91.5 492.2 91.5 492.8 92 493.8 92 494.2 92.5 495.8 92.5 496.2 93 497.2 93 497.8 93.5 499.2 93.5 499.8 94 501.3 94 501.8 94.5 503.2 94.5 503.8 95 505.8 95 506.2 95.5 507.8 95.5 508.2 96 510.2 96 510.8 96.5 512.2 96.5 512.8 97 514.2 97 514.8 97.5 516.8 97.5 517.2 98 518.8 98 519.2 98.5 520.8 98.5 521.2 99 523.2 99 523.8 99.5 525.2 99.5 525.8 100 527.2 100 527.8 100.5 528.8 100.5 529.2 101 530.8 101 531.2 101.5 532.8 101.5 533.2 102 534.8 102 535.2 102.5 536.8 102.5 537.2 103 538.8 103 539.2 103.5 540.8 103.5 541.2 104 542.7 104 543.2 104.5 544.8 104.5 545.2 105 546.8 105 547.2 105.5 548.8 105.5 549.2 106 550.8 106 551.2 106.5 552.8 106.5 553.2 107 554.8 107 555.2 107.5 557.3 107.5 557.8 108 559.2 108 559.8 108.5 561.2 108.5 561.8 109 563.2 109 563.8 109.5 565.8 109.5 566.2 110 567.7 110 568.2 110.5 569.8 110.5 570.2 111 572.2 111 572.8 111.5 574.8 111.5 575.2 112 577.2 112 577.8 112.5 579.8 112.5 580.2 113 582.2 113 582.8 113.5 584.7 113.5 585.2 114 587.8 114 588.2 114.5 590.2 114.5 590.8 115 593.2 115 593.7 115.5 595.8 115.5 596.2 116 598.8 116 599.2 116.5 601.8 116.5 602.3 117 604.8 117 605.2 117.5 607.2 117.5 607.8 118 610.8 118 611.2 118.5 613.8 118.5 614.2 119 616.8 119 617.3 119.5 619.7 119.5 620.3 120 623.2 120 623.8 120.5 626.8 120.5 627.2 121 630.2 121 630.7 121.5 633.8 121.5 634.2 122 637.8 122 638.2 122.5 641.2 122.5 641.8 123 645.2 123 645.8 123.5 648.8 123.5 649.3 124 649.8 124 649.8 137.5 649.3 137.5 648.8 138 645.8 138 645.2 138.5 641.8 138.5 641.2 139 638.2 139 637.8 139.5 634.2 139.5 633.8 140 630.7 140 630.2 140.5 627.2 140.5 626.8 141 623.8 141 623.2 141.5 620.3 141.5 619.7 142 617.3 142 616.8 142.5 614.2 142.5 613.8 143 611.2 143 610.8 143.5 607.8 143.5 607.2 144 605.2 144 604.8 144.5 602.3 144.5 601.8 145 599.2 145 598.8 145.5 596.2 145.5 595.8 146 593.7 146 593.2 146.5 590.8 146.5 590.2 147 588.2 147 587.8 147.5 585.2 147.5 584.7 148 582.8 148 582.2 148.5 580.2 148.5 579.8 149 577.8 149 577.2 149.5 575.2 149.5 574.8 150 572.8 150 572.2 150.5 570.2 150.5 569.8 151 568.2 151 567.7 151.5 566.2 151.5 565.8 152 563.8 152 563.2 152.5 561.8 152.5 561.2 153 559.8 153 559.2 153.5 557.8 153.5 557.3 154 555.2 154 554.8 154.5 553.2 154.5 552.8 155 551.2 155 550.8 155.5 549.2 155.5 548.8 156 547.2 156 546.8 156.5 545.2 156.5 544.8 157 543.2 157 542.7 157.5 541.2 157.5 540.8 158 539.2 158 538.8 158.5 537.2 158.5 536.8 159 535.2 159 534.8 159.5 533.2 159.5 532.8 160 531.2 160 530.8 160.5 529.2 160.5 528.8 161 527.8 161 527.2 161.5 525.8 161.5 525.2 162 523.8 162 523.2 162.5 521.2 162.5 520.8 163 519.2 163 518.8 163.5 517.2 163.5 516.8 164 514.8 164 514.2 164.5 512.8 164.5 512.2 165 510.8 165 510.2 165.5 508.2 165.5 507.8 166 506.2 166 505.8 166.5 503.8 166.5 503.2 167 501.8 167 501.3 167.5 499.8 167.5 499.2 168 497.8 168 497.2 168.5 496.2 168.5 495.8 169 494.2 169 493.8 169.5 492.8 169.5 492.2 170 490.8 170 490.2 170.5 488.8 170.5 488.2 171 486.3 171 485.8 171.5 483.8 171.5 483.2 172 480.7 172 480.2 172.5 476.2 172.5 475.8 173 465.8 173 465.2 172.5 462.8 172.5 462.3 172 460.8 172 460.2 171.5 459.2 171.5 458.8 171 458.3 171 457.8 170.5 456.8 170.5 456.2 170 455.8 170 455.2 169.5 454.8 169.5 454.2 169 453.8 169 453.2 168.5 452.8 168.5 451.2 167 450.8 167 448.8 165 448.2 165.4 447.8 164.9 447.4 165 446.9 165.5 446.9 166.5 446.4 167 446.4 168 445.9 168.5 445.9 169 445.4 169.5 445.4 170.5 444.9 171 444.9 171.5 444.4 172 444.4 172.5 443.9 173 443.9 173.5 443.4 174 443.4 174.5 442.9 175 442.9 175.5 442.4 176 442.4 176.5 441.9 177 441.9 177.5 441.4 178 441.4 178.5 440.9 179 440.9 179.5 440.4 180 440.4 180.5 439.9 181 439.9 181.5 439.4 182 439.4 182.5 438.9 183 438.9 183.5 438.4 184 438.4 184.5 437.9 185 437.9 185.5 436.9 186.5 436.9 187 436.4 187.5 436.4 188 435.9 188.5 435.9 189 435.4 189.5 435.4 190 434.4 191 434.4 191.5 433.9 192 433.9 192.5 432.9 193.5 432.9 194 432.4 194.5 432.4 195 431.4 196 431.4 196.5 430.9 197 430.9 197.5 429.9 198.5 429.9 199 428.9 200 428.9 200.5 427.9 201.5 427.9 202 427.4 202.5 427.4 203 426.4 204 426.4 204.5 425.9 205 425.9 205.5 424.9 206.5 424.9 207 424.4 207.5 424.4 208 423.9 208.5 423.9 209 422.9 210 422.9 210.5 422.4 211 422.4 211.5 421.9 212 421.9 212.5 421.4 213 421.4 213.5 420.4 214.5 420.4 215 419.9 215.5 419.9 216 419.4 216.5 419.4 217 418.4 218 418.4 218.5 417.9 219 417.9 219.5 417.4 220 417.4 220.5 416.4 221.5 416.4 222 415.9 222.5 415.9 223 414.9 224 414.9 224.5 414.4 225 414.4 225.5 413.4 226.5 413.4 227 412.4 228 412.4 228.5 411.9 229 411.9 229.5 410.9 230.5 410.9 231 410.4 231.5 410.4 232 409.4 233 409.4 233.5 408.9 234 408.9 234.5 407.9 235.5 407.9 236 406.9 237 406.9 237.5 406.4 238 406.4 238.5 405.4 239.5 405.4 240 404.9 240.5 404.9 241 403.9 242 403.9 242.5 403.4 243 396.2 243 396.2 18.5Z" fill="#00abff"/>
<path d="M400.8 18.5 403.3 18.5 403.8 19 403.8 19.5 404.8 20.5 404.8 21 405.3 21.5 405.3 22 406.3 23 406.3 23.5 406.8 24 406.8 24.5 407.8 25.5 407.8 26 408.8 27 408.8 27.5 409.3 28 409.3 28.5 410.3 29.5 410.3 30 410.8 30.5 410.8 31 411.8 32 411.8 32.5 412.3 33 412.3 33.5 413.3 34.5 413.3 35 414.3 36 414.3 36.5 414.8 37 414.8 37.5 415.8 38.5 415.8 39 416.3 39.5 416.3 40 417.3 41 417.3 41.5 417.8 42 417.8 42.5 418.3 43 418.3 43.5 419.3 44.5 419.3 45 419.8 45.5 419.8 46 420.3 46.5 420.3 47 421.3 48 421.3 48.5 421.8 49 421.8 49.5 422.3 50 422.3 50.5 422.8 51 422.8 51.5 423.8 52.5 423.8 53 424.3 53.5 424.3 54 424.8 54.5 424.8 55 425.8 56 425.8 56.5 426.3 57 426.3 57.5 427.3 58.5 427.3 59 427.8 59.5 427.8 60 428.8 61 428.8 61.5 429.8 62.5 429.8 63 430.8 64 430.8 64.5 431.3 65 431.3 65.5 432.3 66.5 432.3 67 432.8 67.5 432.8 68 433.8 69 433.8 69.5 434.3 70 434.3 70.5 435.3 71.5 435.3 72 435.8 72.5 435.8 73 436.3 73.5 436.3 74 436.8 74.5 436.8 75 437.8 76 437.8 76.5 438.3 77 438.3 77.5 438.8 78 438.8 78.5 439.3 79 439.3 79.5 439.8 80 439.8 80.5 440.3 81 440.3 81.5 440.8 82 440.8 82.5 441.3 83 441.3 83.5 441.8 84 441.8 84.5 442.3 85 442.3 85.5 442.8 86 442.8 86.5 443.3 87 443.3 87.5 443.8 88 443.8 88.5 444.3 89 444.3 89.5 444.8 90 444.8 90.5 445.3 91 445.3 92 445.8 92.5 445.8 93 446.3 93.5 446.3 94.5 446.8 95 446.8 96 447.3 96.5 447.8 96.6 448.2 96.1 448.8 96.5 450.8 94.5 451.2 94.5 452.8 93 453.2 93 453.8 92.5 454.2 92.5 454.8 92 455.2 92 455.8 91.5 456.3 91.5 456.8 91 457.8 91 458.2 90.5 458.8 90.5 459.2 90 460.2 90 460.8 89.5 462.2 89.5 462.8 89 465.2 89 465.8 88.5 475.8 88.5 476.2 89 480.2 89 480.7 89.5 483.2 89.5 483.8 90 485.8 90 486.2 90.5 488.2 90.5 488.8 91 490.2 91 490.8 91.5 492.2 91.5 492.8 92 493.8 92 494.2 92.5 495.8 92.5 496.2 93 497.2 93 497.7 93.5 499.2 93.5 499.8 94 501.2 94 501.8 94.5 503.2 94.5 503.8 95 505.8 95 506.2 95.5 507.8 95.5 508.2 96 510.2 96 510.8 96.5 512.2 96.5 512.8 97 514.2 97 514.8 97.5 516.8 97.5 517.2 98 518.8 98 519.2 98.5 520.8 98.5 521.2 99 523.2 99 523.8 99.5 525.2 99.5 525.8 100 527.2 100 527.8 100.5 528.8 100.5 529.2 101 530.8 101 531.2 101.5 532.8 101.5 533.3 102 534.8 102 535.2 102.5 536.8 102.5 537.2 103 538.8 103 539.2 103.5 540.8 103.5 541.2 104 542.8 104 543.2 104.5 544.8 104.5 545.3 105 546.8 105 547.3 105.5 548.8 105.5 549.2 106 550.8 106 551.2 106.5 552.8 106.5 553.2 107 554.8 107 555.2 107.5 557.2 107.5 557.8 108 559.2 108 559.8 108.5 561.3 108.5 561.8 109 563.2 109 563.8 109.5 565.8 109.5 566.2 110 567.8 110 568.2 110.5 569.8 110.5 570.2 111 572.2 111 572.8 111.5 574.8 111.5 575.2 112 577.2 112 577.8 112.5 579.8 112.5 580.2 113 582.2 113 582.8 113.5 584.8 113.5 585.2 114 587.8 114 588.2 114.5 590.2 114.5 590.8 115 593.2 115 593.8 115.5 595.8 115.5 596.3 116 598.8 116 599.2 116.5 601.8 116.5 602.2 117 604.8 117 605.3 117.5 607.2 117.5 607.8 118 610.8 118 611.2 118.5 613.8 118.5 614.2 119 616.8 119 617.2 119.5 619.8 119.5 620.2 120 623.2 120 623.8 120.5 626.8 120.5 627.2 121 630.2 121 630.7 121.5 633.8 121.5 634.3 122 637.8 122 638.2 122.5 641.2 122.5 641.8 123 645.2 123 645.8 123.5 648.8 123.5 649.3 124 649.8 124 649.8 137.5 649.3 137.5 648.8 138 645.8 138 645.2 138.5 641.8 138.5 641.2 139 638.2 139 637.8 139.5 634.3 139.5 633.8 140 630.7 140 630.2 140.5 627.2 140.5 626.8 141 623.8 141 623.2 141.5 620.2 141.5 619.8 142 617.2 142 616.8 142.5 614.2 142.5 613.8 143 611.2 143 610.8 143.5 607.8 143.5 607.2 144 605.3 144 604.8 144.5 602.2 144.5 601.8 145 599.2 145 598.8 145.5 596.3 145.5 595.8 146 593.8 146 593.2 146.5 590.8 146.5 590.2 147 588.2 147 587.8 147.5 585.2 147.5 584.8 148 582.8 148 582.2 148.5 580.2 148.5 579.8 149 577.8 149 577.2 149.5 575.2 149.5 574.8 150 572.8 150 572.2 150.5 570.2 150.5 569.8 151 568.2 151 567.8 151.5 566.2 151.5 565.8 152 563.8 152 563.2 152.5 561.8 152.5 561.3 153 559.8 153 559.2 153.5 557.8 153.5 557.2 154 555.2 154 554.8 154.5 553.2 154.5 552.8 155 551.2 155 550.8 155.5 549.2 155.5 548.8 156 547.3 156 546.8 156.5 545.3 156.5 544.8 157 543.2 157 542.8 157.5 541.2 157.5 540.8 158 539.2 158 538.8 158.5 537.2 158.5 536.8 159 535.2 159 534.8 159.5 533.3 159.5 532.8 160 531.2 160 530.8 160.5 529.2 160.5 528.8 161 527.8 161 527.2 161.5 525.8 161.5 525.2 162 523.8 162 523.2 162.5 521.2 162.5 520.8 163 519.2 163 518.8 163.5 517.2 163.5 516.8 164 514.8 164 514.2 164.5 512.8 164.5 512.2 165 510.8 165 510.2 165.5 508.2 165.5 507.8 166 506.2 166 505.8 166.5 503.8 166.5 503.2 167 501.8 167 501.2 167.5 499.8 167.5 499.2 168 497.7 168 497.2 168.5 496.2 168.5 495.8 169 494.2 169 493.8 169.5 492.8 169.5 492.2 170 490.8 170 490.2 170.5 488.8 170.5 488.2 171 486.2 171 485.8 171.5 483.8 171.5 483.2 172 480.7 172 480.2 172.5 476.2 172.5 475.8 173 465.8 173 465.2 172.5 462.8 172.5 462.2 172 460.8 172 460.2 171.5 459.2 171.5 458.8 171 458.2 171 457.8 170.5 456.8 170.5 456.3 170 455.8 170 455.2 169.5 454.8 169.5 454.2 169 453.8 169 453.2 168.5 452.8 168.5 451.2 167 450.8 167 448.8 165 448.2 165.4 447.8 164.9 447.3 165 446.8 165.5 446.8 166.5 446.3 167 446.3 168 445.8 168.5 445.8 169 445.3 169.5 445.3 170.5 444.8 171 444.8 171.5 444.3 172 444.3 172.5 443.8 173 443.8 173.5 443.3 174 443.3 174.5 442.8 175 442.8 175.5 442.3 176 442.3 176.5 441.8 177 441.8 177.5 441.3 178 441.3 178.5 440.8 179 440.8 179.5 440.3 180 440.3 180.5 439.8 181 439.8 181.5 439.3 182 439.3 182.5 438.8 183 438.8 183.5 438.3 184 438.3 184.5 437.8 185 437.8 185.5 436.8 186.5 436.8 187 436.3 187.5 436.3 188 435.8 188.5 435.8 189 435.3 189.5 435.3 190 434.3 191 434.3 191.5 433.8 192 433.8 192.5 432.8 193.5 432.8 194 432.3 194.5 432.3 195 431.3 196 431.3 196.5 430.8 197 430.8 197.5 429.8 198.5 429.8 199 428.8 200 428.8 200.5 427.8 201.5 427.8 202 427.3 202.5 427.3 203 426.3 204 426.3 204.5 425.8 205 425.8 205.5 424.8 206.5 424.8 207 424.3 207.5 424.3 208 423.8 208.5 423.8 209 422.8 210 422.8 210.5 422.3 211 422.3 211.5 421.8 212 421.8 212.5 421.3 213 421.3 213.5 420.3 214.5 420.3 215 419.8 215.5 419.8 216 419.3 216.5 419.3 217 418.3 218 418.3 218.5 417.8 219 417.8 219.5 417.3 220 417.3 220.5 416.3 221.5 416.3 222 415.8 222.5 415.8 223 414.8 224 414.8 224.5 414.3 225 414.3 225.5 413.3 226.5 413.3 227 412.3 228 412.3 228.5 411.8 229 411.8 229.5 410.8 230.5 410.8 231 410.3 231.5 410.3 232 409.3 233 409.3 233.5 408.8 234 408.8 234.5 407.8 235.5 407.8 236 406.8 237 406.8 237.5 406.3 238 406.3 238.5 405.3 239.5 405.3 240 404.8 240.5 404.8 241 403.8 242 403.8 242.5 403.3 243 400.5 243 400.5 242.5 401.5 241.5 401.5 241 402 240.5 402 240 403 239 403 238.5 403.5 238 403.5 237.5 404.5 236.5 404.5 236 405.5 235 405.5 234.5 406 234 406 233.5 407 232.5 407 232 407.5 231.5 407.5 231 408.5 230 408.5 229.5 409 229 409 228.5 410 227.5 410 227 411 226 411 225.5 411.5 225 411.5 224.5 412.5 223.5 412.5 223 413 222.5 413 222 414 221 414 220.5 414.5 220 414.5 219.5 415 219 415 218.5 416 217.5 416 217 416.5 216.5 416.5 216 417 215.5 417 215 418 214 418 213.5 418.5 213 418.5 212.5 419 212 419 211.5 420 210.5 420 210 420.5 209.5 420.5 209 421 208.5 421 208 422 207 422 206.5 422.5 206 422.5 205.5 423 205 423 204.5 424 203.5 424 203 424.5 202.5 424.5 202 425.5 201 425.5 200.5 426.5 199.5 426.5 199 427.5 198 427.5 197.5 428 197 428 196.5 429 195.5 429 195 430 194 430 193.5 430.5 193 430.5 192.5 431 192 431 191.5 432 190.5 432 190 432.5 189.5 432.5 189 433 188.5 433 188 433.5 187.5 433.5 187 434.5 186 434.5 185.5 435 185 435 184.5 435.5 184 435.5 183.5 436 183 436 182.5 436.5 182 436.5 181.5 437 181 437 180.5 437.5 180 437.5 179.5 438.5 178.5 438.5 178 439 177.5 439 177 439.5 176.5 439.5 176 440 175.5 440 175 440.5 174.5 440.5 173.5 441 173 441 172.5 441.5 172 441.5 171.5 442 171 442 170.5 442.5 170 442.5 169 443 168.5 443 168 443.5 167.5 443.5 166.5 444 166 444 165 444.5 164.5 444.5 163 444.8 162.5 444.2 162 442.8 162 441.8 163 441.2 163 439.8 164.5 439.2 164.5 438.2 165.5 437.8 165.5 436.8 166.5 436.2 166.5 435.2 167.4 434.8 167.4 433.2 168.9 432.8 168.9 430.7 171 430.7 171.5 427.2 175 427.2 175.5 421.2 181.3 420.8 181.4 417.2 184.8 416.8 184.8 414.8 186.8 414.2 186.8 412.8 188.3 412.2 188.3 411.2 189.3 410.8 189.3 409.8 190.3 409.2 190.3 408.2 191.2 407.8 191.3 406.8 192.2 406.2 192.3 405.2 193.2 404.8 193.2 404.2 193.7 403.8 193.7 402.8 194.7 402.2 194.7 401.8 195.2 401.2 195.2 400.8 195.7 400.2 195.7 399.8 196.2 399.2 196.2 398.8 196.7 398.2 196.7 397.8 197.2 397.2 197.2 396.8 197.7 396.2 197.7 396.2 63.8 396.8 63.8 397.2 64.3 397.8 64.3 398.2 64.8 398.8 64.8 399.2 65.3 399.8 65.3 400.2 65.8 400.8 65.8 401.2 66.3 401.8 66.3 402.2 66.8 402.8 66.8 403.8 67.8 404.2 67.8 404.8 68.3 405.2 68.3 406.2 69.2 406.8 69.3 407.8 70.2 408.2 70.3 409.2 71.2 409.8 71.2 410.8 72.2 411.2 72.2 412.2 73.2 412.8 73.2 414.2 74.7 414.8 74.7 416.8 76.7 417.2 76.7 420.8 80.1 421.2 80.2 427.2 86 427.2 86.5 430.7 90 430.7 90.5 432.8 92.6 433.2 92.6 434.8 94.1 435.2 94.1 436.2 95 436.8 95 437.8 96 438.2 96 439.2 97 439.8 97 441.2 98.5 441.8 98.5 442.8 99.5 444.2 99.5 444.8 99 444.5 98.5 444.5 97 444 96.5 444 95.5 443.5 95 443.5 94 443 93.5 443 93 442.5 92.5 442.5 91.5 442 91 442 90.5 441.5 90 441.5 89.5 441 89 441 88.5 440.5 88 440.5 87 440 86.5 440 86 439.5 85.5 439.5 85 439 84.5 439 84 438.5 83.5 438.5 83 437.5 82 437.5 81.5 437 81 437 80.5 436.5 80 436.5 79.5 436 79 436 78.5 435.5 78 435.5 77.5 435 77 435 76.5 434.5 76 434.5 75.5 433.5 74.5 433.5 74 433 73.5 433 73 432.5 72.5 432.5 72 432 71.5 432 71 431 70 431 69.5 430.5 69 430.5 68.5 430 68 430 67.5 429 66.5 429 66 428 65 428 64.5 427.5 64 427.5 63.5 426.5 62.5 426.5 62 425.5 61 425.5 60.5 424.5 59.5 424.5 59 424 58.5 424 58 423 57 423 56.5 422.5 56 422.5 55.5 422 55 422 54.5 421 53.5 421 53 420.5 52.5 420.5 52 420 51.5 420 51 419 50 419 49.5 418.5 49 418.5 48.5 418 48 418 47.5 417 46.5 417 46 416.5 45.5 416.5 45 416 44.5 416 44 415 43 415 42.5 414.5 42 414.5 41.5 414 41 414 40.5 413 39.5 413 39 412.5 38.5 412.5 38 411.5 37 411.5 36.5 411 36 411 35.5 410 34.5 410 34 409 33 409 32.5 408.5 32 408.5 31.5 407.5 30.5 407.5 30 407 29.5 407 29 406 28 406 27.5 405.5 27 405.5 26.5 404.5 25.5 404.5 25 403.5 24 403.5 23.5 403 23 403 22.5 402 21.5 402 21 401.5 20.5 401.5 20 400.5 19 400.5 18.5ZM499.1 114.5 498.2 114.8 493 116 492.2 116.3 490.7 116.5 490.2 116.7 487.8 116.5 479.5 116.5 477.8 116.8 474.7 117 472.8 117.5 472.3 118 473.5 118.5 477.6 119 487.8 119.8 494.2 120.8 501.3 121.5 523.9 123.5 539.5 124.5 583.8 126.3 615.2 127.8 634.2 128.3 639.1 128 636.9 127.5 633.2 127 626.2 126.3 624.6 126 621.8 125.9 620.1 125.5 617.2 125.3 615.8 125 612.8 124.8 611.5 124.5 608.8 124.3 607.4 124 604.8 123.8 603.4 123.5 596.8 122.8 595.8 122.5 593.2 122.3 592.2 122 587 121.5 579.2 121.3 576.1 121 570.8 120.9 567.9 120.5 563.8 120.4 561.5 120 557.8 119.8 556 119.5 552.8 119.4 550.8 119 547.2 118.8 545.6 118.5 537.2 117.8 535.8 117.5 532.8 117.4 531 117 527.8 116.8 526.4 116.5 518.2 115.8 516.6 115.5 506.8 114.8 504.2 114.5 500.2 114.3ZM620.4 133.5 530.4 137.5 496.3 140.5 487.8 141.7 477.6 142.5 473.8 143 472.3 143.5 472.8 144 474.7 144.5 477.2 144.6 479.8 145 487.8 145 490.2 144.8 490.7 145 494.2 145.7 499.2 147 500.2 147.2 504.6 147 506.2 146.7 510.8 146.5 512.8 146.2 521.8 145.5 523.2 145.2 526.4 145 527.8 144.7 531 144.5 532.8 144.1 535.8 144 537.2 143.7 545.6 143 547.2 142.7 550.8 142.5 552.8 142.1 556 142 557.8 141.7 561.5 141.5 563.2 141.2 567.9 141 570.8 140.6 576.1 140.5 579.2 140.2 587 140 592.2 139.5 593.2 139.2 595.8 139 596.8 138.7 603.4 138 604.8 137.7 607.4 137.5 608.8 137.2 611.5 137 612.8 136.7 615.8 136.5 617.2 136.2 620.1 136 621.8 135.6 624.6 135.5 626.2 135.2 629 135 636.9 134 639.1 133.5 636.2 133.3Z" fill="#00cfff"/>
<path d="M396.8 65.8 405.5 70 412.9 74 414.2 75 414.8 75 416.8 76.9 417.2 76.9 420.8 80.3 421.3 80.4 423.8 82.8 427 86 427 86.5 430.6 90 430.6 90.5 432.8 92.6 433.2 92.6 434.8 94.1 435.2 94.1 436.2 95.1 436.8 95.1 437.8 96.1 438.2 96.1 439.2 97.1 439.8 97.1 441.2 98.6 441.8 98.6 442.8 99.5 444.2 99.5 445.8 98 446.2 98 448.2 96.1 448.8 96.5 450.8 94.5 451.2 94.5 452.8 93 453.2 93 453.8 92.5 454.3 92.5 454.8 92 455.2 92 455.8 91.5 456.2 91.5 456.8 91 457.8 91 458.3 90.5 458.8 90.5 459.2 90 460.2 90 460.8 89.5 462.2 89.5 462.8 89 465.2 89 465.8 88.5 475.8 88.5 476.2 89 480.2 89 480.8 89.5 483.3 89.5 483.8 90 485.8 90 486.2 90.5 488.3 90.5 488.8 91 490.2 91 490.8 91.5 492.2 91.5 492.8 92 493.8 92 494.2 92.5 495.8 92.5 496.2 93 497.2 93 497.8 93.5 499.2 93.5 499.8 94 501.2 94 501.8 94.5 503.2 94.5 503.8 95 505.8 95 506.2 95.5 507.8 95.5 508.2 96 510.2 96 510.8 96.5 512.2 96.5 512.8 97 514.2 97 514.8 97.5 516.8 97.5 517.2 98 518.8 98 519.2 98.5 520.8 98.5 521.2 99 523.2 99 523.8 99.5 525.2 99.5 525.8 100 527.2 100 527.8 100.5 528.8 100.5 529.2 101 530.8 101 531.2 101.5 532.8 101.5 533.2 102 534.7 102 535.2 102.5 536.8 102.5 537.2 103 538.8 103 539.2 103.5 540.8 103.5 541.3 104 542.8 104 543.3 104.5 544.8 104.5 545.2 105 546.8 105 547.2 105.5 548.8 105.5 549.2 106 550.8 106 551.2 106.5 552.8 106.5 553.2 107 554.8 107 555.2 107.5 557.3 107.5 557.8 108 559.2 108 559.8 108.5 561.2 108.5 561.8 109 563.2 109 563.7 109.5 565.8 109.5 566.2 110 567.8 110 568.2 110.5 569.8 110.5 570.2 111 572.2 111 572.8 111.5 574.8 111.5 575.2 112 577.3 112 577.8 112.5 579.8 112.5 580.2 113 582.2 113 582.7 113.5 584.8 113.5 585.2 114 587.8 114 588.2 114.5 590.3 114.5 590.8 115 593.2 115 593.8 115.5 595.8 115.5 596.2 116 598.8 116 599.2 116.5 601.8 116.5 602.2 117 604.8 117 605.2 117.5 607.2 117.5 607.8 118 610.8 118 611.3 118.5 613.8 118.5 614.2 119 616.8 119 617.2 119.5 619.8 119.5 620.2 120 623.2 120 623.8 120.5 626.8 120.5 627.2 121 630.2 121 630.8 121.5 633.8 121.5 634.2 122 637.8 122 638.2 122.5 641.2 122.5 641.7 123 645.2 123 645.8 123.5 648.8 123.5 649.3 124 649.8 124 649.8 128 617.2 124.6 589.2 121 575.8 120.2 563.8 119.2 544.8 117.2 518.8 114.2 500.2 112.4 490.2 114.4 481.8 114.1 474.2 114.5 470.2 115.1 468.8 116.1 467.8 117.1 467.2 118.5 467.3 119.5 468 120 482.2 120 482.8 120.5 489.2 120.5 489.8 121 494.8 121 495.2 121.5 499.8 121.5 500.2 122 505.2 122 505.8 122.5 510.8 122.5 511.2 123 516.2 123 516.8 123.5 522.2 123.5 522.8 124 528.2 124 528.8 124.5 536.8 124.5 537.2 125 548.2 125 548.8 125.5 560.8 125.5 561.2 126 573.2 126.1 573.8 126.5 585.2 126.6 585.8 127 595.8 127.1 596.2 127.5 604.2 127.6 604.8 128 615.2 128.1 615.8 128.6 638.8 128.6 639.2 129 649.8 129 649.8 132.5 639.2 132.5 638.8 132.9 615.8 132.9 615.2 133.4 604.8 133.5 604.2 133.9 596.2 134 595.8 134.4 585.8 134.5 585.2 134.9 573.8 135 573.2 135.4 561.2 135.5 560.8 136 548.8 136 548.2 136.5 537.2 136.5 536.8 137 528.8 137 528.2 137.5 522.8 137.5 522.2 138 516.8 138 516.2 138.5 511.2 138.5 510.8 139 505.8 139 505.2 139.5 500.2 139.5 499.8 140 495.2 140 494.8 140.5 489.8 140.5 489.2 141 482.8 141 482.2 141.5 468 141.5 467.3 142 467.1 142.5 467.3 143.5 467.8 144.4 468.3 145 470.2 146.4 474.8 147 479.8 147.4 485.2 147.4 490.2 147.1 500.2 149.1 518.8 147.3 544.8 144.3 563.8 142.3 575.8 141.3 589.2 140.5 617.2 136.9 649.7 133.5 649.8 137.5 649.3 137.5 648.8 138 645.8 138 645.2 138.5 641.7 138.5 641.2 139 638.2 139 637.8 139.5 634.2 139.5 633.8 140 630.8 140 630.2 140.5 627.2 140.5 626.8 141 623.8 141 623.2 141.5 620.2 141.5 619.8 142 617.2 142 616.8 142.5 614.2 142.5 613.8 143 611.3 143 610.8 143.5 607.8 143.5 607.2 144 605.2 144 604.8 144.5 602.2 144.5 601.8 145 599.2 145 598.8 145.5 596.2 145.5 595.8 146 593.8 146 593.2 146.5 590.8 146.5 590.3 147 588.2 147 587.8 147.5 585.2 147.5 584.8 148 582.7 148 582.2 148.5 580.2 148.5 579.8 149 577.8 149 577.3 149.5 575.2 149.5 574.8 150 572.8 150 572.2 150.5 570.2 150.5 569.8 151 568.2 151 567.8 151.5 566.2 151.5 565.8 152 563.7 152 563.2 152.5 561.8 152.5 561.2 153 559.8 153 559.2 153.5 557.8 153.5 557.3 154 555.2 154 554.8 154.5 553.2 154.5 552.8 155 551.2 155 550.8 155.5 549.2 155.5 548.8 156 547.2 156 546.8 156.5 545.2 156.5 544.8 157 543.3 157 542.8 157.5 541.3 157.5 540.8 158 539.2 158 538.8 158.5 537.2 158.5 536.8 159 535.2 159 534.7 159.5 533.2 159.5 532.8 160 531.2 160 530.8 160.5 529.2 160.5 528.8 161 527.8 161 527.2 161.5 525.8 161.5 525.2 162 523.8 162 523.2 162.5 521.2 162.5 520.8 163 519.2 163 518.8 163.5 517.2 163.5 516.8 164 514.8 164 514.2 164.5 512.8 164.5 512.2 165 510.8 165 510.2 165.5 508.2 165.5 507.8 166 506.2 166 505.8 166.5 503.8 166.5 503.2 167 501.8 167 501.2 167.5 499.8 167.5 499.2 168 497.8 168 497.2 168.5 496.2 168.5 495.8 169 494.2 169 493.8 169.5 492.8 169.5 492.2 170 490.8 170 490.2 170.5 488.8 170.5 488.3 171 486.2 171 485.8 171.5 483.8 171.5 483.3 172 480.8 172 480.2 172.5 476.2 172.5 475.8 173 465.8 173 465.2 172.5 462.8 172.5 462.2 172 460.8 172 460.2 171.5 459.2 171.5 458.8 171 458.3 171 457.8 170.5 456.8 170.5 456.2 170 455.8 170 455.2 169.5 454.8 169.5 454.3 169 453.8 169 453.2 168.5 452.8 168.5 451.2 167 450.8 167 448.8 165 448.2 165.4 446.2 163.5 445.8 163.5 444.2 162 442.8 162 441.8 162.9 441.2 162.9 439.8 164.4 439.2 164.4 438.2 165.4 437.8 165.4 436.8 166.4 436.2 166.4 435.2 167.4 434.8 167.4 433.2 168.9 432.8 168.9 430.6 171 430.6 171.5 427 175 427 175.5 423.8 178.7 421.3 181.1 420.8 181.2 417.2 184.6 416.8 184.6 414.8 186.5 414.2 186.5 412.9 187.5 404.5 192 396.2 195.9 396.2 65.6Z" fill="#00f2ff"/>
<path d="M412.8 79.5 415.2 79.5 417.8 79.9 420.2 80.8 422.8 82 426.9 86 426.9 86.5 430.5 90 430.5 90.5 432.8 92.7 433.2 92.7 434.8 94.2 435.2 94.2 436.2 95.2 436.8 95.2 437.8 96.2 438.2 96.2 439.2 97.1 439.8 97.1 441.2 98.6 441.8 98.6 442.8 99.6 444.2 99.6 445.8 98 446.2 98 448.2 96.1 448.8 96.5 450.8 94.5 451.2 94.5 452.8 93 453.2 93 453.7 92.5 454.2 92.5 454.8 92 455.2 92 455.7 91.5 456.2 91.5 456.8 91 457.8 91 458.3 90.5 458.8 90.5 459.2 90 460.2 90 460.8 89.5 462.2 89.5 462.8 89 465.3 89 465.8 88.5 475.8 88.5 476.2 89 480.2 89 480.8 89.5 483.2 89.5 483.8 90 485.8 90 486.2 90.5 488.2 90.5 488.8 91 490.2 91 490.7 91.5 492.2 91.5 492.8 92 493.8 92 494.2 92.5 495.8 92.5 496.2 93 497.2 93 497.8 93.5 499.2 93.5 499.8 94 501.2 94 501.8 94.5 503.2 94.5 503.8 95 505.8 95 506.2 95.5 507.8 95.5 508.2 96 510.2 96 510.8 96.5 512.2 96.5 512.8 97 514.2 97 514.8 97.5 516.8 97.5 517.2 98 518.8 98 519.2 98.5 520.8 98.5 521.2 99 523.2 99 523.8 99.5 525.2 99.5 525.8 100 527.2 100 527.7 100.5 528.8 100.5 529.3 101 530.7 101 531.2 101.5 532.8 101.5 533.2 102 534.8 102 535.2 102.5 536.8 102.5 537.3 103 538.8 103 539.2 103.5 540.8 103.5 541.2 104 542.8 104 543.3 104.5 544.8 104.5 545.2 105 546.8 105 547.3 105.5 548.8 105.5 549.2 106 550.8 106 551.2 106.5 552.8 106.5 553.2 107 554.8 107 555.2 107.5 557.2 107.5 557.8 108 559.2 108 559.8 108.5 561.2 108.5 561.8 109 563.2 109 563.8 109.5 565.8 109.5 566.2 110 567.8 110 568.2 110.5 569.8 110.5 570.2 111 572.2 111 572.8 111.5 574.8 111.5 575.2 112 577.2 112 577.8 112.5 579.8 112.5 580.2 113 582.2 113 582.8 113.5 584.8 113.5 585.2 114 587.8 114 588.2 114.5 590.2 114.5 590.8 115 593.2 115 593.8 115.5 595.8 115.5 596.2 116 598.8 116 599.2 116.5 601.7 116.5 602.2 117 604.8 117 605.2 117.5 607.2 117.5 607.8 118 610.8 118 611.2 118.5 613.7 118.5 614.2 119 616.8 119 617.2 119.5 619.8 119.5 620.3 120 623.2 120 623.8 120.5 626.8 120.5 627.2 121 630.2 121 630.8 121.5 633.8 121.5 634.2 122 637.7 122 638.3 122.5 641.2 122.5 641.8 123 645.2 123 645.8 123.5 648.8 123.5 649.2 124 649.8 124 649.8 127.6 617.8 124.2 589.2 120.4 573.2 119.3 562.2 118.2 519.8 112.9 500.2 110.8 490.2 112.3 485.8 112 480.2 111.9 475.8 112.1 471.7 112.5 470.2 112.7 469.8 113 468.2 113.9 466.8 115.3 465.9 117 465.5 118.5 465.6 119.5 466 120 482.2 120.1 482.8 120.6 489.2 120.6 489.8 121.1 494.8 121.1 495.2 121.6 499.8 121.6 500.2 122.1 505.2 122.1 505.8 122.6 510.8 122.6 511.2 123.1 516.2 123.1 516.8 123.6 522.2 123.6 522.8 124.1 528.2 124.1 528.8 124.6 536.8 124.6 537.2 125.1 548.2 125.1 548.8 125.6 560.8 125.6 561.2 126.1 573.2 126.1 573.8 126.6 585.2 126.6 585.8 127.1 595.8 127.1 596.2 127.7 604.2 127.7 604.8 128.2 615.2 128.2 615.8 128.7 638.8 128.7 639.2 129.2 649.8 129.2 649.8 132.3 639.2 132.3 638.8 132.8 615.8 132.8 615.2 133.3 604.8 133.3 604.2 133.8 596.2 133.8 595.8 134.4 585.8 134.4 585.2 134.9 573.8 134.9 573.2 135.4 561.2 135.4 560.8 135.9 548.8 135.9 548.2 136.4 537.2 136.4 536.8 136.9 528.8 136.9 528.2 137.4 522.8 137.4 522.2 137.9 516.8 137.9 516.2 138.4 511.2 138.4 510.8 138.9 505.8 138.9 505.2 139.4 500.2 139.4 499.8 139.9 495.2 139.9 494.8 140.4 489.8 140.4 489.2 140.9 482.8 140.9 482.2 141.4 466 141.5 465.6 142 465.5 143 466.6 146 468.2 147.6 470.2 148.8 474.8 149.4 479.8 149.6 485.8 149.5 490.2 149.2 500.2 150.7 519.8 148.6 562.2 143.3 573.2 142.2 589.2 141.1 617.8 137.3 649.8 133.9 649.8 137.5 649.2 137.5 648.8 138 645.8 138 645.2 138.5 641.8 138.5 641.2 139 638.3 139 637.7 139.5 634.2 139.5 633.8 140 630.8 140 630.2 140.5 627.2 140.5 626.8 141 623.8 141 623.2 141.5 620.3 141.5 619.8 142 617.2 142 616.8 142.5 614.2 142.5 613.7 143 611.2 143 610.8 143.5 607.8 143.5 607.2 144 605.2 144 604.8 144.5 602.2 144.5 601.7 145 599.2 145 598.8 145.5 596.2 145.5 595.8 146 593.8 146 593.2 146.5 590.8 146.5 590.2 147 588.2 147 587.8 147.5 585.2 147.5 584.8 148 582.8 148 582.2 148.5 580.2 148.5 579.8 149 577.8 149 577.2 149.5 575.2 149.5 574.8 150 572.8 150 572.2 150.5 570.2 150.5 569.8 151 568.2 151 567.8 151.5 566.2 151.5 565.8 152 563.8 152 563.2 152.5 561.8 152.5 561.2 153 559.8 153 559.2 153.5 557.8 153.5 557.2 154 555.2 154 554.8 154.5 553.2 154.5 552.8 155 551.2 155 550.8 155.5 549.2 155.5 548.8 156 547.3 156 546.8 156.5 545.2 156.5 544.8 157 543.3 157 542.8 157.5 541.2 157.5 540.8 158 539.2 158 538.8 158.5 537.3 158.5 536.8 159 535.2 159 534.8 159.5 533.2 159.5 532.8 160 531.2 160 530.7 160.5 529.3 160.5 528.8 161 527.7 161 527.2 161.5 525.8 161.5 525.2 162 523.8 162 523.2 162.5 521.2 162.5 520.8 163 519.2 163 518.8 163.5 517.2 163.5 516.8 164 514.8 164 514.2 164.5 512.8 164.5 512.2 165 510.8 165 510.2 165.5 508.2 165.5 507.8 166 506.2 166 505.8 166.5 503.8 166.5 503.2 167 501.8 167 501.2 167.5 499.8 167.5 499.2 168 497.8 168 497.2 168.5 496.2 168.5 495.8 169 494.2 169 493.8 169.5 492.8 169.5 492.2 170 490.7 170 490.2 170.5 488.8 170.5 488.2 171 486.2 171 485.8 171.5 483.8 171.5 483.2 172 480.8 172 480.2 172.5 476.2 172.5 475.8 173 465.8 173 465.3 172.5 462.8 172.5 462.2 172 460.8 172 460.2 171.5 459.2 171.5 458.8 171 458.3 171 457.8 170.5 456.8 170.5 456.2 170 455.7 170 455.2 169.5 454.8 169.5 454.2 169 453.7 169 453.2 168.5 452.8 168.5 451.2 167 450.8 167 448.8 165 448.2 165.4 446.2 163.5 445.8 163.5 444.2 161.9 442.8 161.9 441.8 162.9 441.2 162.9 439.8 164.4 439.2 164.4 438.2 165.3 437.8 165.3 436.8 166.3 436.2 166.3 435.2 167.3 434.8 167.3 433.2 168.8 432.8 168.8 430.5 171 430.5 171.5 426.9 175 426.9 175.5 422.8 179.5 419.8 180.9 416.8 181.8 414.2 182.1 411.8 181.8 409.7 181.1 408.2 180.1 404.8 177 400.3 171.5 396.2 165.1 396.2 96.4 400.7 89.5 405.3 84 407.4 82 409.2 80.7 410.8 80Z" fill="#16ffe9"/>
<path d="M421.2 85 423.8 85.1 426.8 86 426.8 86.5 430.4 90 430.4 90.5 432.8 92.8 433.2 92.8 434.8 94.3 435.2 94.3 436.2 95.2 436.8 95.2 437.8 96.2 438.2 96.2 439.2 97.2 439.8 97.2 441.2 98.6 441.8 98.6 442.8 99.6 444.2 99.6 445.8 98.1 446.2 98.1 448.2 96.1 448.8 96.5 450.8 94.5 451.2 94.5 452.8 93 453.2 93 453.8 92.5 454.2 92.5 454.8 92 455.2 92 455.8 91.5 456.2 91.5 456.8 91 457.8 91 458.2 90.5 458.8 90.5 459.2 90 460.2 90 460.8 89.5 462.2 89.5 462.8 89 465.2 89 465.8 88.5 475.8 88.5 476.2 89 480.2 89 480.8 89.5 483.2 89.5 483.8 90 485.8 90 486.2 90.5 488.2 90.5 488.7 91 490.2 91 490.8 91.5 492.2 91.5 492.7 92 493.8 92 494.2 92.5 495.8 92.5 496.2 93 497.3 93 497.7 93.5 499.2 93.5 499.8 94 501.2 94 501.8 94.5 503.2 94.5 503.8 95 505.8 95 506.2 95.5 507.8 95.5 508.2 96 510.2 96 510.8 96.5 512.2 96.5 512.8 97 514.2 97 514.8 97.5 516.8 97.5 517.2 98 518.8 98 519.2 98.5 520.8 98.5 521.2 99 523.2 99 523.8 99.5 525.2 99.5 525.8 100 527.2 100 527.8 100.5 528.8 100.5 529.2 101 530.8 101 531.2 101.5 532.8 101.5 533.2 102 534.8 102 535.2 102.5 536.8 102.5 537.2 103 538.8 103 539.2 103.5 540.7 103.5 541.2 104 542.8 104 543.2 104.5 544.8 104.5 545.2 105 546.8 105 547.2 105.5 548.8 105.5 549.3 106 550.8 106 551.2 106.5 552.8 106.5 553.2 107 554.8 107 555.2 107.5 557.2 107.5 557.8 108 559.2 108 559.8 108.5 561.2 108.5 561.8 109 563.3 109 563.8 109.5 565.8 109.5 566.2 110 567.8 110 568.2 110.5 569.8 110.5 570.2 111 572.3 111 572.8 111.5 574.8 111.5 575.2 112 577.2 112 577.8 112.5 579.8 112.5 580.2 113 582.2 113 582.8 113.5 584.8 113.5 585.2 114 587.8 114 588.2 114.5 590.2 114.5 590.8 115 593.2 115 593.8 115.5 595.8 115.5 596.2 116 598.8 116 599.3 116.5 601.7 116.5 602.3 117 604.8 117 605.2 117.5 607.2 117.5 607.8 118 610.8 118 611.2 118.5 613.7 118.5 614.2 119 616.8 119 617.2 119.5 619.8 119.5 620.2 120 623.2 120 623.8 120.5 626.7 120.5 627.2 121 630.3 121 630.8 121.5 633.8 121.5 634.2 122 637.8 122 638.2 122.5 641.2 122.5 641.8 123 645.2 123 645.7 123.5 648.8 123.5 649.2 124 649.8 124 649.8 127.2 617.8 123.8 589.2 119.9 574.8 118.7 562.8 117.5 519.2 111.7 500.2 109.4 490.2 110.6 485.8 110.2 480.2 110.1 475.2 110.2 470.8 110.7 469.8 111 467.8 112.2 466 114 464.2 118.5 464.2 119.5 464.5 120 482.2 120.1 482.8 120.6 489.2 120.6 489.8 121.1 494.8 121.1 495.2 121.6 499.8 121.6 500.2 122.1 505.2 122.1 505.8 122.6 510.8 122.6 511.2 123.1 516.2 123.1 516.8 123.6 522.2 123.6 522.8 124.1 528.2 124.1 528.8 124.7 536.8 124.6 537.2 125.2 548.2 125.1 548.8 125.7 560.8 125.7 561.2 126.2 573.2 126.2 573.8 126.7 585.2 126.7 585.8 127.2 595.8 127.2 596.2 127.8 604.2 127.7 604.8 128.3 615.2 128.3 615.8 128.8 638.8 128.8 639.2 129.3 649.8 129.3 649.8 132.2 639.2 132.2 638.8 132.7 615.8 132.7 615.2 133.2 604.8 133.2 604.2 133.8 596.2 133.7 595.8 134.3 585.8 134.3 585.2 134.8 573.8 134.8 573.2 135.3 561.2 135.3 560.8 135.8 548.8 135.8 548.2 136.4 537.2 136.3 536.8 136.9 528.8 136.8 528.2 137.4 522.8 137.4 522.2 137.9 516.8 137.9 516.2 138.4 511.2 138.4 510.8 138.9 505.8 138.9 505.2 139.4 500.2 139.4 499.8 139.9 495.2 139.9 494.8 140.4 489.8 140.4 489.2 140.9 482.8 140.9 482.2 141.4 464.5 141.5 464.2 142 464.2 143 466 147.5 467.8 149.3 470.2 150.7 475.2 151.3 479.8 151.4 485.8 151.3 490.2 150.9 500.2 152.1 519.2 149.8 562.8 144 574.8 142.8 589.2 141.6 617.8 137.7 649.8 134.3 649.8 137.5 649.2 137.5 648.8 138 645.7 138 645.2 138.5 641.8 138.5 641.2 139 638.2 139 637.8 139.5 634.2 139.5 633.8 140 630.8 140 630.3 140.5 627.2 140.5 626.7 141 623.8 141 623.2 141.5 620.2 141.5 619.8 142 617.2 142 616.8 142.5 614.2 142.5 613.7 143 611.2 143 610.8 143.5 607.8 143.5 607.2 144 605.2 144 604.8 144.5 602.3 144.5 601.7 145 599.3 145 598.8 145.5 596.2 145.5 595.8 146 593.8 146 593.2 146.5 590.8 146.5 590.2 147 588.2 147 587.8 147.5 585.2 147.5 584.8 148 582.8 148 582.2 148.5 580.2 148.5 579.8 149 577.8 149 577.2 149.5 575.2 149.5 574.8 150 572.8 150 572.3 150.5 570.2 150.5 569.8 151 568.2 151 567.8 151.5 566.2 151.5 565.8 152 563.8 152 563.3 152.5 561.8 152.5 561.2 153 559.8 153 559.2 153.5 557.8 153.5 557.2 154 555.2 154 554.8 154.5 553.2 154.5 552.8 155 551.2 155 550.8 155.5 549.3 155.5 548.8 156 547.2 156 546.8 156.5 545.2 156.5 544.8 157 543.2 157 542.8 157.5 541.2 157.5 540.7 158 539.2 158 538.8 158.5 537.2 158.5 536.8 159 535.2 159 534.8 159.5 533.2 159.5 532.8 160 531.2 160 530.8 160.5 529.2 160.5 528.8 161 527.8 161 527.2 161.5 525.8 161.5 525.2 162 523.8 162 523.2 162.5 521.2 162.5 520.8 163 519.2 163 518.8 163.5 517.2 163.5 516.8 164 514.8 164 514.2 164.5 512.8 164.5 512.2 165 510.8 165 510.2 165.5 508.2 165.5 507.8 166 506.2 166 505.8 166.5 503.8 166.5 503.2 167 501.8 167 501.2 167.5 499.8 167.5 499.2 168 497.7 168 497.3 168.5 496.2 168.5 495.8 169 494.2 169 493.8 169.5 492.7 169.5 492.2 170 490.8 170 490.2 170.5 488.7 170.5 488.2 171 486.2 171 485.8 171.5 483.8 171.5 483.2 172 480.8 172 480.2 172.5 476.2 172.5 475.8 173 465.8 173 465.2 172.5 462.8 172.5 462.2 172 460.8 172 460.2 171.5 459.2 171.5 458.8 171 458.2 171 457.8 170.5 456.8 170.5 456.2 170 455.8 170 455.2 169.5 454.8 169.5 454.2 169 453.8 169 453.2 168.5 452.8 168.5 451.2 167 450.8 167 448.8 165 448.2 165.4 446.2 163.4 445.8 163.4 444.2 161.9 442.8 161.9 441.8 162.9 441.2 162.9 439.8 164.3 439.2 164.3 438.2 165.3 437.8 165.3 436.8 166.3 436.2 166.3 435.2 167.2 434.8 167.2 433.2 168.7 432.8 168.7 430.4 171 430.4 171.5 426.8 175 426.8 175.5 423.8 176.4 422.2 176.6 420.8 176.4 418.8 175.7 416.3 174 413.6 171.5 410.6 168 406.6 162.5 399.8 150.4 398.2 148 396.2 145.6 396.2 115.9 398.2 113.5 399.8 111.1 406.6 99 410.6 93.5 413.8 89.9 416.8 87.1 419.2 85.6Z" fill="#39ffc6"/>
<path d="M465.7 88.5 475.7 88.5 476.2 89 480.2 89 480.8 89.5 483.2 89.5 483.8 90 485.7 90 486.2 90.5 488.2 90.5 488.8 91 490.2 91 490.8 91.5 492.2 91.5 492.8 92 493.8 92 494.2 92.5 495.7 92.5 496.2 93 497.2 93 497.8 93.5 499.2 93.5 499.8 94 501.2 94 501.8 94.5 503.2 94.5 503.8 95 505.8 95 506.2 95.5 507.8 95.5 508.3 96 510.2 96 510.8 96.5 512.2 96.5 512.8 97 514.2 97 514.8 97.5 516.8 97.5 517.2 98 518.8 98 519.2 98.5 520.8 98.5 521.2 99 523.2 99 523.8 99.5 525.2 99.5 525.8 100 527.2 100 527.8 100.5 528.8 100.5 529.2 101 530.8 101 531.2 101.5 532.7 101.5 533.2 102 534.8 102 535.2 102.5 536.8 102.5 537.2 103 538.8 103 539.2 103.5 540.7 103.5 541.2 104 542.8 104 543.2 104.5 544.8 104.5 545.2 105 546.8 105 547.2 105.5 548.8 105.5 549.2 106 550.8 106 551.2 106.5 552.8 106.5 553.2 107 554.7 107 555.3 107.5 557.2 107.5 557.8 108 559.2 108 559.8 108.5 561.2 108.5 561.8 109 563.3 109 563.8 109.5 565.8 109.5 566.2 110 567.8 110 568.3 110.5 569.8 110.5 570.2 111 572.2 111 572.8 111.5 574.8 111.5 575.2 112 577.2 112 577.8 112.5 579.8 112.5 580.2 113 582.2 113 582.8 113.5 584.8 113.5 585.3 114 587.8 114 588.2 114.5 590.2 114.5 590.8 115 593.2 115 593.8 115.5 595.8 115.5 596.2 116 598.8 116 599.2 116.5 601.7 116.5 602.2 117 604.7 117 605.2 117.5 607.2 117.5 607.8 118 610.8 118 611.2 118.5 613.8 118.5 614.3 119 616.7 119 617.2 119.5 619.8 119.5 620.2 120 623.2 120 623.8 120.5 626.8 120.5 627.2 121 630.2 121 630.8 121.5 633.8 121.5 634.2 122 637.8 122 638.2 122.5 641.2 122.5 641.8 123 645.2 123 645.8 123.5 648.8 123.5 649.2 124 649.8 124 649.8 126.9 636.2 125.5 613.8 122.9 589.2 119.4 575.2 118.2 563.8 116.9 519.2 110.5 500.2 108.1 490.2 109 486.2 108.5 480.2 108.3 475.2 108.4 470.2 108.9 467.2 110.4 465.4 112.5 464.2 115.1 462.4 120.5 462.8 120.5 463.2 120 463.8 120 482.2 120.1 482.8 120.7 489.2 120.7 489.8 121.2 494.8 121.2 495.2 121.7 499.8 121.7 500.2 122.2 505.2 122.2 505.8 122.7 510.8 122.7 511.2 123.2 516.2 123.2 516.8 123.7 522.2 123.7 522.8 124.2 528.2 124.2 528.8 124.7 536.8 124.7 537.2 125.2 548.2 125.2 548.8 125.7 560.8 125.7 561.2 126.3 573.2 126.2 573.8 126.8 585.2 126.8 585.8 127.3 595.8 127.3 596.2 127.9 604.2 127.8 604.8 128.4 615.2 128.4 615.8 129 638.8 128.9 639.2 129.4 649.8 129.4 649.8 132.1 639.2 132.1 638.8 132.6 615.8 132.5 615.2 133.1 604.8 133.1 604.2 133.7 596.2 133.6 595.8 134.2 585.8 134.2 585.2 134.7 573.8 134.7 573.2 135.3 561.2 135.2 560.8 135.8 548.8 135.8 548.2 136.3 537.2 136.3 536.8 136.8 528.8 136.8 528.2 137.3 522.8 137.3 522.2 137.8 516.8 137.8 516.2 138.3 511.2 138.3 510.8 138.8 505.8 138.8 505.2 139.3 500.2 139.3 499.8 139.8 495.2 139.8 494.8 140.3 489.8 140.3 489.2 140.8 482.8 140.8 482.2 141.4 463.8 141.5 463.2 141.5 462.8 141 462.4 141 464.2 146.4 465.4 149 467.2 151.1 470.2 152.6 475.2 153.1 480.2 153.2 486.2 153 490.2 152.5 500.2 153.4 519.2 151 563.8 144.6 575.2 143.3 589.2 142.1 613.8 138.6 636.2 136 649.8 134.6 649.8 137.5 649.2 137.5 648.8 138 645.8 138 645.2 138.5 641.8 138.5 641.2 139 638.2 139 637.8 139.5 634.2 139.5 633.8 140 630.8 140 630.2 140.5 627.2 140.5 626.8 141 623.8 141 623.2 141.5 620.2 141.5 619.8 142 617.2 142 616.7 142.5 614.3 142.5 613.8 143 611.2 143 610.8 143.5 607.8 143.5 607.2 144 605.2 144 604.7 144.5 602.2 144.5 601.7 145 599.2 145 598.8 145.5 596.2 145.5 595.8 146 593.8 146 593.2 146.5 590.8 146.5 590.2 147 588.2 147 587.8 147.5 585.3 147.5 584.8 148 582.8 148 582.2 148.5 580.2 148.5 579.8 149 577.8 149 577.2 149.5 575.2 149.5 574.8 150 572.8 150 572.2 150.5 570.2 150.5 569.8 151 568.3 151 567.8 151.5 566.2 151.5 565.8 152 563.8 152 563.3 152.5 561.8 152.5 561.2 153 559.8 153 559.2 153.5 557.8 153.5 557.2 154 555.3 154 554.7 154.5 553.2 154.5 552.8 155 551.2 155 550.8 155.5 549.2 155.5 548.8 156 547.2 156 546.8 156.5 545.2 156.5 544.8 157 543.2 157 542.8 157.5 541.2 157.5 540.7 158 539.2 158 538.8 158.5 537.2 158.5 536.8 159 535.2 159 534.8 159.5 533.2 159.5 532.7 160 531.2 160 530.8 160.5 529.2 160.5 528.8 161 527.8 161 527.2 161.5 525.8 161.5 525.2 162 523.8 162 523.2 162.5 521.2 162.5 520.8 163 519.2 163 518.8 163.5 517.2 163.5 516.8 164 514.8 164 514.2 164.5 512.8 164.5 512.2 165 510.8 165 510.2 165.5 508.3 165.5 507.8 166 506.2 166 505.8 166.5 503.8 166.5 503.2 167 501.8 167 501.2 167.5 499.8 167.5 499.2 168 497.8 168 497.2 168.5 496.2 168.5 495.7 169 494.2 169 493.8 169.5 492.8 169.5 492.2 170 490.8 170 490.2 170.5 488.8 170.5 488.2 171 486.2 171 485.7 171.5 483.8 171.5 483.2 172 480.8 172 480.2 172.5 476.2 172.5 475.7 173 465.7 173 465.2 172.5 462.8 172.5 462.2 172 460.7 172 460.2 171.5 459.2 171.5 458.8 171 458.2 171 457.8 170.5 456.8 170.5 456.2 170 455.8 170 455.2 169.5 454.8 169.5 454.3 169 453.8 169 453.2 168.5 452.8 168.5 451.2 167 450.7 167 448.7 165 448.2 165.3 446.2 163.4 445.8 163.4 444.2 161.9 442.8 161.9 441.8 162.9 441.2 162.8 439.8 164.3 439.2 164.3 438.2 165.2 437.8 165.2 436.8 166.2 436.2 166.2 435.2 167.1 434.8 167.1 433.2 168.6 432.8 168.6 430.3 171 430.3 171.5 429.8 172 428.8 172.5 427.2 172.9 426.2 173 424.8 172.8 422.8 171.9 420.2 170 417.6 167.5 414.6 164 410.8 158.5 405 148.5 402.8 145 401.8 144.9 401.2 144.4 400.2 144.2 399.8 143.8 398.8 143.7 398.2 143.3 396.2 142.6 396.2 138.1 397.1 138 397 137.5 396.2 136.3 396.2 125.2 397 124 397.1 123.5 396.2 123.4 396.2 118.9 398.2 118.2 398.8 117.8 399.8 117.7 400.2 117.3 401.2 117.1 401.8 116.6 402.8 116.5 405 113 410.5 103.5 414.2 98 416.7 95 419.2 92.4 421.8 90.3 423.8 89.1 426.2 88.5 427.8 88.7 429.2 89.2 430.3 90 430.3 90.5 432.8 92.9 433.2 92.9 434.8 94.4 435.2 94.4 436.2 95.3 436.8 95.3 437.8 96.3 438.2 96.3 439.2 97.2 439.8 97.2 441.2 98.7 441.8 98.6 442.8 99.6 444.2 99.6 445.8 98.1 446.2 98.1 448.2 96.2 448.7 96.5 450.7 94.5 451.2 94.5 452.8 93 453.2 93 453.8 92.5 454.3 92.5 454.8 92 455.2 92 455.8 91.5 456.2 91.5 456.8 91 457.8 91 458.2 90.5 458.8 90.5 459.2 90 460.2 90 460.7 89.5 462.2 89.5 462.8 89 465.2 89Z" fill="#5cffa3"/>
<path d="M465.8 88.5 475.8 88.5 476.2 89 480.2 89 480.7 89.5 483.2 89.5 483.8 90 485.8 90 486.2 90.5 488.2 90.5 488.8 91 490.2 91 490.8 91.5 492.2 91.5 492.8 92 493.7 92 494.2 92.5 495.8 92.5 496.2 93 497.2 93 497.8 93.5 499.2 93.5 499.8 94 501.2 94 501.8 94.5 503.2 94.5 503.8 95 505.8 95 506.2 95.5 507.8 95.5 508.2 96 510.2 96 510.8 96.5 512.2 96.5 512.8 97 514.2 97 514.8 97.5 516.8 97.5 517.2 98 518.8 98 519.2 98.5 520.8 98.5 521.2 99 523.2 99 523.8 99.5 525.2 99.5 525.8 100 527.2 100 527.8 100.5 528.8 100.5 529.2 101 530.8 101 531.3 101.5 532.8 101.5 533.2 102 534.8 102 535.2 102.5 536.8 102.5 537.2 103 538.8 103 539.2 103.5 540.7 103.5 541.2 104 542.8 104 543.2 104.5 544.8 104.5 545.2 105 546.8 105 547.2 105.5 548.8 105.5 549.2 106 550.8 106 551.2 106.5 552.8 106.5 553.2 107 554.8 107 555.2 107.5 557.2 107.5 557.8 108 559.2 108 559.7 108.5 561.2 108.5 561.8 109 563.2 109 563.8 109.5 565.8 109.5 566.2 110 567.8 110 568.2 110.5 569.7 110.5 570.2 111 572.2 111 572.8 111.5 574.8 111.5 575.2 112 577.3 112 577.8 112.5 579.8 112.5 580.2 113 582.2 113 582.7 113.5 584.8 113.5 585.2 114 587.8 114 588.2 114.5 590.3 114.5 590.8 115 593.2 115 593.8 115.5 595.8 115.5 596.2 116 598.8 116 599.2 116.5 601.8 116.5 602.2 117 604.8 117 605.2 117.5 607.2 117.5 607.8 118 610.8 118 611.2 118.5 613.8 118.5 614.2 119 616.8 119 617.2 119.5 619.8 119.5 620.2 120 623.2 120 623.8 120.5 626.8 120.5 627.2 121 630.2 121 630.8 121.5 633.8 121.5 634.2 122 637.8 122 638.3 122.5 641.2 122.5 641.8 123 645.2 123 645.8 123.5 648.8 123.5 649.2 124 649.8 124 649.8 126.6 627.2 124.2 610.2 122 589.2 118.9 575.2 117.6 563.8 116.2 519.8 109.4 500.2 106.8 490.2 107.3 486.2 106.8 480.2 106.5 475.2 106.5 470.2 106.9 466.8 108.7 464.8 111 463.2 114.6 461.5 120.5 462.8 120.6 463.2 120.1 482.2 120.2 482.8 120.7 489.2 120.7 489.8 121.2 494.8 121.2 495.2 121.7 499.8 121.7 500.2 122.2 505.2 122.2 505.8 122.7 510.8 122.7 511.2 123.3 516.2 123.2 516.8 123.8 522.2 123.7 522.8 124.3 528.2 124.2 528.8 124.8 536.8 124.7 537.2 125.3 548.2 125.2 548.8 125.8 560.8 125.8 561.2 126.3 573.2 126.3 573.8 126.9 585.2 126.8 585.8 127.4 595.8 127.4 596.2 128 604.2 127.9 604.2 128.4 589.2 127.9 581.2 127.8 578 128 584.2 128.2 600.8 129.5 649.8 129.7 649.8 131.8 600.8 132 584.2 133.3 578 133.5 581.2 133.7 589.2 133.6 604.2 133.1 604.2 133.6 596.2 133.5 595.8 134.1 585.8 134.1 585.2 134.7 573.8 134.6 573.2 135.2 561.2 135.2 560.8 135.7 548.8 135.7 548.2 136.3 537.2 136.2 536.8 136.8 528.8 136.7 528.2 137.3 522.8 137.2 522.2 137.8 516.8 137.7 516.2 138.3 511.2 138.2 510.8 138.8 505.8 138.8 505.2 139.3 500.2 139.3 499.8 139.8 495.2 139.8 494.8 140.3 489.8 140.3 489.2 140.8 482.8 140.8 482.2 141.3 463.2 141.4 462.8 140.9 461.5 141 463.2 146.9 464.8 150.5 466.8 152.8 470.2 154.6 475.2 155 480.2 155 486.2 154.7 490.2 154.2 500.2 154.7 519.8 152.1 563.8 145.3 575.2 143.9 589.2 142.6 610.2 139.5 627.2 137.3 649.8 134.9 649.8 137.5 649.2 137.5 648.8 138 645.8 138 645.2 138.5 641.8 138.5 641.2 139 638.3 139 637.8 139.5 634.2 139.5 633.8 140 630.8 140 630.2 140.5 627.2 140.5 626.8 141 623.8 141 623.2 141.5 620.2 141.5 619.8 142 617.2 142 616.8 142.5 614.2 142.5 613.8 143 611.2 143 610.8 143.5 607.8 143.5 607.2 144 605.2 144 604.8 144.5 602.2 144.5 601.8 145 599.2 145 598.8 145.5 596.2 145.5 595.8 146 593.8 146 593.2 146.5 590.8 146.5 590.3 147 588.2 147 587.8 147.5 585.2 147.5 584.8 148 582.7 148 582.2 148.5 580.2 148.5 579.8 149 577.8 149 577.3 149.5 575.2 149.5 574.8 150 572.8 150 572.2 150.5 570.2 150.5 569.7 151 568.2 151 567.8 151.5 566.2 151.5 565.8 152 563.8 152 563.2 152.5 561.8 152.5 561.2 153 559.7 153 559.2 153.5 557.8 153.5 557.2 154 555.2 154 554.8 154.5 553.2 154.5 552.8 155 551.2 155 550.8 155.5 549.2 155.5 548.8 156 547.2 156 546.8 156.5 545.2 156.5 544.8 157 543.2 157 542.8 157.5 541.2 157.5 540.7 158 539.2 158 538.8 158.5 537.2 158.5 536.8 159 535.2 159 534.8 159.5 533.2 159.5 532.8 160 531.3 160 530.8 160.5 529.2 160.5 528.8 161 527.8 161 527.2 161.5 525.8 161.5 525.2 162 523.8 162 523.2 162.5 521.2 162.5 520.8 163 519.2 163 518.8 163.5 517.2 163.5 516.8 164 514.8 164 514.2 164.5 512.8 164.5 512.2 165 510.8 165 510.2 165.5 508.2 165.5 507.8 166 506.2 166 505.8 166.5 503.8 166.5 503.2 167 501.8 167 501.2 167.5 499.8 167.5 499.2 168 497.8 168 497.2 168.5 496.2 168.5 495.8 169 494.2 169 493.7 169.5 492.8 169.5 492.2 170 490.8 170 490.2 170.5 488.8 170.5 488.2 171 486.2 171 485.8 171.5 483.8 171.5 483.2 172 480.7 172 480.2 172.5 476.2 172.5 475.8 173 465.8 173 465.2 172.5 462.8 172.5 462.2 172 460.8 172 460.3 171.5 459.2 171.5 458.8 171 458.3 171 457.8 170.5 456.8 170.5 456.2 170 455.8 170 455.2 169.5 454.8 169.5 454.2 169 453.8 169 453.2 168.5 452.8 168.5 451.2 167 450.8 167 448.8 165 448.2 165.3 446.2 163.4 445.8 163.4 444.2 161.9 442.8 161.9 441.8 162.8 441.2 162.8 439.8 164.2 439.2 164.2 438.2 165.2 437.8 165.2 436.8 166.1 436.2 166.1 435.2 167.1 434.8 167.1 433.2 168.5 432.8 168.5 431.8 169.4 429.8 169.9 427.8 169.7 425.8 168.8 423.8 167.4 421.2 165 418.8 162.2 414.6 156.5 409 147 408.2 146.5 406.8 146.1 406.2 145.8 396.2 142.1 396.2 139.2 402.2 140.5 404.2 140.5 404.5 140 401.7 134.5 401.1 132.5 400.9 131 401 129.5 401.5 127.5 402.6 125 404.3 122 404.5 121.5 404.3 121 401.9 121 396.2 122.3 396.2 119.4 406.2 115.7 406.8 115.4 408.2 115 409 114.5 414.3 105.5 418.2 100 420.3 97.5 422.8 95 424.8 93.4 426.8 92.1 427.8 91.8 429.2 91.6 431.8 92.1 432.8 93 433.2 93 434.8 94.4 435.2 94.4 436.2 95.4 436.8 95.4 437.8 96.3 438.2 96.3 439.2 97.3 439.8 97.3 441.2 98.7 441.8 98.7 442.8 99.6 444.2 99.6 445.8 98.1 446.2 98.1 448.2 96.2 448.8 96.5 450.8 94.5 451.2 94.5 452.8 93 453.2 93 453.8 92.5 454.2 92.5 454.8 92 455.2 92 455.8 91.5 456.2 91.5 456.8 91 457.8 91 458.3 90.5 458.8 90.5 459.2 90 460.3 90 460.8 89.5 462.2 89.5 462.8 89 465.2 89ZM608.2 128.5 615.3 128.5 615.2 128.7ZM608.2 133 615.2 132.8 615.3 133Z" fill="#80ff80"/>
<path d="M465.8 88.5 475.8 88.5 476.2 89 480.2 89 480.7 89.5 483.2 89.5 483.7 90 485.8 90 486.2 90.5 488.2 90.5 488.7 91 490.2 91 490.8 91.5 492.2 91.5 492.8 92 493.8 92 494.2 92.5 495.8 92.5 496.2 93 497.2 93 497.7 93.5 499.3 93.5 499.7 94 501.2 94 501.8 94.5 503.2 94.5 503.8 95 505.8 95 506.2 95.5 507.8 95.5 508.2 96 510.2 96 510.8 96.5 512.2 96.5 512.8 97 514.2 97 514.8 97.5 516.8 97.5 517.2 98 518.8 98 519.2 98.5 520.8 98.5 521.2 99 523.3 99 523.7 99.5 525.2 99.5 525.8 100 527.2 100 527.8 100.5 528.8 100.5 529.2 101 530.8 101 531.2 101.5 532.8 101.5 533.2 102 534.8 102 535.2 102.5 536.7 102.5 537.2 103 538.8 103 539.2 103.5 540.8 103.5 541.2 104 542.8 104 543.2 104.5 544.8 104.5 545.2 105 546.7 105 547.2 105.5 548.8 105.5 549.2 106 550.8 106 551.2 106.5 552.7 106.5 553.3 107 554.8 107 555.2 107.5 557.2 107.5 557.8 108 559.2 108 559.8 108.5 561.2 108.5 561.7 109 563.2 109 563.8 109.5 565.8 109.5 566.3 110 567.8 110 568.2 110.5 569.8 110.5 570.2 111 572.2 111 572.7 111.5 574.8 111.5 575.3 112 577.2 112 577.8 112.5 579.8 112.5 580.2 113 582.2 113 582.8 113.5 584.8 113.5 585.2 114 587.7 114 588.2 114.5 590.2 114.5 590.8 115 593.2 115 593.8 115.5 595.7 115.5 596.2 116 598.8 116 599.2 116.5 601.8 116.5 602.2 117 604.8 117 605.2 117.5 607.2 117.5 607.8 118 610.7 118 611.2 118.5 613.8 118.5 614.2 119 616.8 119 617.2 119.5 619.8 119.5 620.2 120 623.2 120 623.8 120.5 626.8 120.5 627.2 121 630.2 121 630.8 121.5 633.7 121.5 634.2 122 637.8 122 638.2 122.5 641.2 122.5 641.8 123 645.2 123 645.8 123.5 648.8 123.5 649.2 124 649.8 124 649.8 126.3 621 123 605.8 120.9 589.2 118.4 575.8 117 564.5 115.5 546.8 112.7 520.2 108.3 500.2 105.4 490.2 105.5 483.8 104.8 477.8 104.6 470.2 104.9 467.2 106.2 466.2 106.8 464 109.5 463.3 111 462.1 114.5 460.4 121 460.8 121 461.2 120.5 462.8 120.7 463.2 120.1 482.2 120.2 482.8 120.8 489.2 120.7 489.8 121.3 494.8 121.2 495.2 121.8 499.8 121.7 500.2 122.3 505.2 122.2 505.8 122.8 510.8 122.7 511.2 123.3 516.2 123.3 516.8 123.8 522.2 123.8 522.8 124.3 528.2 124.3 528.8 124.8 536.8 124.8 537.2 125.4 548.2 125.3 548.8 125.9 560.8 125.8 561.2 126.4 573.2 126.4 573.8 127 585.2 126.9 585.2 127.4 533.2 126.2 485.8 123 471.2 122.9 466.7 123 462.8 123.5 460.8 124.2 459.8 125 461.8 125.2 470.2 125.5 497.2 125.7 525 126.5 538.8 126.7 542.3 127 565.8 127.8 577.9 128.5 582.7 129 581.8 129.3 579.2 129.4 557.2 129.4 553.4 129 510.5 128 497.2 127.8 462.2 127.6 458.8 127.7 458.8 128.8 545.8 129.5 584.2 129.5 607.2 129.9 649.8 130 649.8 131.5 607.2 131.6 584.2 132 545.8 132 458.8 132.7 458.8 133.8 462.2 133.9 497.2 133.7 510.5 133.5 553.4 132.5 557.2 132.1 579.2 132.1 581.8 132.2 582.7 132.5 577.9 133 565.8 133.7 542.3 134.5 538.8 134.8 525 135 497.2 135.8 470.2 136 461.8 136.3 459.8 136.5 460.8 137.3 462.8 138 466.7 138.5 471.2 138.6 485.8 138.5 533.2 135.3 585.2 134.1 585.2 134.6 573.8 134.5 573.2 135.1 561.2 135.1 560.8 135.7 548.8 135.6 548.2 136.2 537.2 136.1 536.8 136.7 528.8 136.7 528.2 137.2 522.8 137.2 522.2 137.7 516.8 137.7 516.2 138.2 511.2 138.2 510.8 138.8 505.8 138.7 505.2 139.3 500.2 139.2 499.8 139.8 495.2 139.7 494.8 140.3 489.8 140.2 489.2 140.8 482.8 140.7 482.2 141.3 463.2 141.4 462.8 140.8 461.2 141 460.8 140.5 460.4 140.5 462.1 147 463.3 150.5 464 152 466.2 154.7 467.2 155.3 470.2 156.6 477.8 156.9 483.8 156.7 490.2 156 500.2 156.1 520.2 153.2 546.8 148.8 564.5 146 575.8 144.5 589.2 143.1 605.8 140.6 621 138.5 649.8 135.2 649.8 137.5 649.2 137.5 648.8 138 645.8 138 645.2 138.5 641.8 138.5 641.2 139 638.2 139 637.8 139.5 634.2 139.5 633.7 140 630.8 140 630.2 140.5 627.2 140.5 626.8 141 623.8 141 623.2 141.5 620.2 141.5 619.8 142 617.2 142 616.8 142.5 614.2 142.5 613.8 143 611.2 143 610.7 143.5 607.8 143.5 607.2 144 605.2 144 604.8 144.5 602.2 144.5 601.8 145 599.2 145 598.8 145.5 596.2 145.5 595.7 146 593.8 146 593.2 146.5 590.8 146.5 590.2 147 588.2 147 587.7 147.5 585.2 147.5 584.8 148 582.8 148 582.2 148.5 580.2 148.5 579.8 149 577.8 149 577.2 149.5 575.3 149.5 574.8 150 572.7 150 572.2 150.5 570.2 150.5 569.8 151 568.2 151 567.8 151.5 566.3 151.5 565.8 152 563.8 152 563.2 152.5 561.7 152.5 561.2 153 559.8 153 559.2 153.5 557.8 153.5 557.2 154 555.2 154 554.8 154.5 553.3 154.5 552.7 155 551.2 155 550.8 155.5 549.2 155.5 548.8 156 547.2 156 546.7 156.5 545.2 156.5 544.8 157 543.2 157 542.8 157.5 541.2 157.5 540.8 158 539.2 158 538.8 158.5 537.2 158.5 536.7 159 535.2 159 534.8 159.5 533.2 159.5 532.8 160 531.2 160 530.8 160.5 529.2 160.5 528.8 161 527.8 161 527.2 161.5 525.8 161.5 525.2 162 523.7 162 523.3 162.5 521.2 162.5 520.8 163 519.2 163 518.8 163.5 517.2 163.5 516.8 164 514.8 164 514.2 164.5 512.8 164.5 512.2 165 510.8 165 510.2 165.5 508.2 165.5 507.8 166 506.2 166 505.8 166.5 503.8 166.5 503.2 167 501.8 167 501.2 167.5 499.7 167.5 499.3 168 497.7 168 497.2 168.5 496.2 168.5 495.8 169 494.2 169 493.8 169.5 492.8 169.5 492.2 170 490.8 170 490.2 170.5 488.7 170.5 488.2 171 486.2 171 485.8 171.5 483.7 171.5 483.2 172 480.7 172 480.2 172.5 476.2 172.5 475.8 173 465.8 173 465.2 172.5 462.8 172.5 462.2 172 460.8 172 460.3 171.5 459.2 171.5 458.7 171 458.2 171 457.8 170.5 456.8 170.5 456.2 170 455.8 170 455.2 169.5 454.8 169.5 454.3 169 453.8 169 453.2 168.5 452.8 168.5 451.3 167 450.8 167 448.7 165 448.2 165.3 446.2 163.4 445.8 163.4 444.2 161.8 442.8 161.8 441.8 162.8 441.2 162.8 439.8 164.2 439.2 164.2 438.2 165.1 437.8 165.1 436.8 166.1 436.2 166.1 435.2 166.9 432.2 167.1 430.2 166.8 428.8 166.2 426.8 164.9 424.8 163.2 422.6 161 418.5 155.5 413.8 148 412.8 147.8 412.2 147.4 411.2 147.1 410.8 146.8 409.2 146.4 396.2 141.7 396.2 139.7 403.3 141.5 406.3 142 409.2 142 409.7 141.5 406.5 135 406 133 405.8 131 405.9 129 406.5 126.5 409.7 120 409.2 119.5 406.3 119.5 403.3 120 396.2 121.8 396.2 119.8 409.2 115.1 410.8 114.7 411.2 114.4 412.2 114.1 412.8 113.7 413.8 113.5 418.2 106.5 422.2 101 425.8 97.4 427.8 95.9 429.2 95 431.8 94.4 435.2 94.6 436.2 95.4 436.8 95.4 437.8 96.4 438.2 96.4 439.2 97.3 439.8 97.3 441.2 98.7 441.8 98.7 442.8 99.7 444.2 99.7 445.8 98.1 446.2 98.1 448.2 96.2 448.7 96.5 450.8 94.5 451.3 94.5 452.8 93 453.2 93 453.8 92.5 454.3 92.5 454.8 92 455.2 92 455.8 91.5 456.2 91.5 456.8 91 457.8 91 458.2 90.5 458.7 90.5 459.2 90 460.3 90 460.8 89.5 462.2 89.5 462.8 89 465.2 89ZM590.2 127.5 595.8 127.5 595.8 127.7ZM590.2 134 595.8 133.8 595.8 134Z" fill="#a3ff5c"/>
<path d="M465.8 88.5 475.8 88.5 476.2 89 480.3 89 480.8 89.5 483.2 89.5 483.8 90 485.8 90 486.2 90.5 488.2 90.5 488.8 91 490.2 91 490.8 91.5 492.2 91.5 492.8 92 493.8 92 494.3 92.5 495.8 92.5 496.2 93 497.2 93 497.8 93.5 499.2 93.5 499.8 94 501.2 94 501.8 94.5 503.2 94.5 503.8 95 505.8 95 506.2 95.5 507.8 95.5 508.2 96 510.2 96 510.8 96.5 512.2 96.5 512.8 97 514.2 97 514.8 97.5 516.8 97.5 517.2 98 518.8 98 519.2 98.5 520.8 98.5 521.2 99 523.2 99 523.8 99.5 525.2 99.5 525.8 100 527.2 100 527.8 100.5 528.8 100.5 529.2 101 530.8 101 531.2 101.5 532.8 101.5 533.2 102 534.8 102 535.2 102.5 536.7 102.5 537.2 103 538.8 103 539.2 103.5 540.8 103.5 541.2 104 542.8 104 543.2 104.5 544.8 104.5 545.2 105 546.8 105 547.2 105.5 548.8 105.5 549.2 106 550.8 106 551.2 106.5 552.8 106.5 553.2 107 554.8 107 555.2 107.5 557.2 107.5 557.8 108 559.2 108 559.8 108.5 561.2 108.5 561.8 109 563.2 109 563.7 109.5 565.8 109.5 566.2 110 567.7 110 568.2 110.5 569.8 110.5 570.2 111 572.2 111 572.8 111.5 574.8 111.5 575.2 112 577.2 112 577.8 112.5 579.8 112.5 580.2 113 582.2 113 582.8 113.5 584.8 113.5 585.2 114 587.8 114 588.2 114.5 590.2 114.5 590.8 115 593.2 115 593.8 115.5 595.8 115.5 596.2 116 598.8 116 599.2 116.5 601.8 116.5 602.2 117 604.8 117 605.3 117.5 607.2 117.5 607.8 118 610.8 118 611.2 118.5 613.8 118.5 614.2 119 616.8 119 617.3 119.5 619.8 119.5 620.2 120 623.2 120 623.8 120.5 626.8 120.5 627.3 121 630.2 121 630.8 121.5 633.8 121.5 634.2 122 637.8 122 638.2 122.5 641.2 122.5 641.7 123 645.2 123 645.7 123.5 648.8 123.5 649.2 124 649.7 124 649.8 125.9 616.8 122 589.2 117.9 576.2 116.4 565.2 114.8 546.2 111.7 520.2 107 500.2 103.9 490.2 103.7 484.2 103 478.2 102.6 470.2 102.9 466.2 104.5 464.6 106 463.1 108 462.2 110 460.7 115 459.1 122 460.2 121.1 460.8 121.1 461.2 120.6 462.8 120.7 463.2 120.2 482.2 120.3 482.8 120.8 489.2 120.8 489.8 121.3 494.8 121.3 495.2 121.8 499.8 121.8 500.2 122.4 505.2 122.3 505.7 122.9 510.7 122.8 511.2 123.4 516.2 123.3 516.8 123.9 522.2 123.8 522.8 124.4 528.2 124.3 528.8 124.9 536.8 124.8 537.2 125.4 548.2 125.3 548.8 126 560.8 125.9 560.9 126 560.8 126.5 532.8 125.7 511.8 124.3 489.7 122.5 475.6 122 467.2 122 462.9 122.5 461.1 123 459.5 124 458.6 125 459.2 125.5 508.2 126.3 557.2 127.8 571.2 128.5 567.2 128.8 557.2 128.9 497.2 127.5 460.2 127.3 458.2 127.4 458.8 129.1 649.8 130.2 649.8 131.3 458.8 132.4 458.2 134.1 460.2 134.2 497.2 134 557.2 132.6 567.2 132.7 571.2 133 557.2 133.7 508.2 135.2 459.2 136 458.6 136.5 459.5 137.5 461.1 138.5 462.9 139 467.2 139.5 475.6 139.5 489.7 139 511.8 137.2 532.8 135.8 560.8 135 560.9 135.5 560.8 135.6 548.8 135.5 548.2 136.2 537.2 136.1 536.8 136.7 528.8 136.6 528.2 137.2 522.8 137.1 522.2 137.7 516.8 137.6 516.2 138.2 511.2 138.1 510.7 138.7 505.7 138.6 505.2 139.2 500.2 139.1 499.8 139.7 495.2 139.7 494.8 140.2 489.8 140.2 489.2 140.7 482.8 140.7 482.2 141.2 463.2 141.3 462.8 140.8 461.2 140.9 460.8 140.4 460.2 140.4 459.1 139.5 460.7 146.5 462.2 151.5 463.1 153.5 464.6 155.5 466.2 157 470.2 158.6 478.2 158.9 484.2 158.5 490.2 157.8 500.2 157.6 520.2 154.5 546.2 149.8 565.2 146.7 576.2 145.1 589.2 143.6 616.8 139.5 649.8 135.6 649.8 137.5 649.2 137.5 648.8 138 645.7 138 645.2 138.5 641.7 138.5 641.2 139 638.2 139 637.8 139.5 634.2 139.5 633.8 140 630.8 140 630.2 140.5 627.3 140.5 626.8 141 623.8 141 623.2 141.5 620.2 141.5 619.8 142 617.3 142 616.8 142.5 614.2 142.5 613.8 143 611.2 143 610.8 143.5 607.8 143.5 607.2 144 605.3 144 604.8 144.5 602.2 144.5 601.8 145 599.2 145 598.8 145.5 596.2 145.5 595.8 146 593.8 146 593.2 146.5 590.8 146.5 590.2 147 588.2 147 587.8 147.5 585.2 147.5 584.8 148 582.8 148 582.2 148.5 580.2 148.5 579.8 149 577.8 149 577.2 149.5 575.2 149.5 574.8 150 572.8 150 572.2 150.5 570.2 150.5 569.8 151 568.2 151 567.7 151.5 566.2 151.5 565.8 152 563.7 152 563.2 152.5 561.8 152.5 561.2 153 559.8 153 559.2 153.5 557.8 153.5 557.2 154 555.2 154 554.8 154.5 553.2 154.5 552.8 155 551.2 155 550.8 155.5 549.2 155.5 548.8 156 547.2 156 546.8 156.5 545.2 156.5 544.8 157 543.2 157 542.8 157.5 541.2 157.5 540.8 158 539.2 158 538.8 158.5 537.2 158.5 536.7 159 535.2 159 534.8 159.5 533.2 159.5 532.8 160 531.2 160 530.8 160.5 529.2 160.5 528.8 161 527.8 161 527.2 161.5 525.8 161.5 525.2 162 523.8 162 523.2 162.5 521.2 162.5 520.8 163 519.2 163 518.8 163.5 517.2 163.5 516.8 164 514.8 164 514.2 164.5 512.8 164.5 512.2 165 510.8 165 510.2 165.5 508.2 165.5 507.8 166 506.2 166 505.8 166.5 503.8 166.5 503.2 167 501.8 167 501.2 167.5 499.8 167.5 499.2 168 497.8 168 497.2 168.5 496.2 168.5 495.8 169 494.3 169 493.8 169.5 492.8 169.5 492.2 170 490.8 170 490.2 170.5 488.8 170.5 488.2 171 486.2 171 485.8 171.5 483.8 171.5 483.2 172 480.8 172 480.3 172.5 476.2 172.5 475.8 173 465.8 173 465.2 172.5 462.8 172.5 462.2 172 460.8 172 460.2 171.5 459.2 171.5 458.8 171 458.2 171 457.8 170.5 456.8 170.5 456.2 170 455.8 170 455.2 169.5 454.8 169.5 454.2 169 453.8 169 453.3 168.5 452.8 168.5 451.2 167 450.8 167 448.8 165 448.2 165.3 446.2 163.3 445.8 163.3 444.2 161.8 442.8 161.8 441.8 162.8 441.2 162.8 439.8 164.2 439.2 164.2 438.2 165.1 437.8 165 436.8 166 436.1 166 435.8 165 433.2 164.7 430.8 163.9 428.2 162.6 426.2 161 424.5 159 422.2 154.5 418.6 149 417.2 148.8 416.8 148.4 414.8 147.8 396.2 141.1 396.2 140.4 403.8 142.1 409.1 143 412.8 143.3 414.3 143 414.3 142.5 414.1 142 411.9 138 410.8 135.5 410 133 409.8 131 410 129 410.6 126.5 411.9 123.5 414.1 119.5 414.3 119 414.3 118.5 412.8 118.2 409.1 118.5 403.8 119.4 396.2 121.1 396.2 120.4 414.8 113.7 416.8 113.1 417.2 112.7 418.6 112.5 422.2 107 423.9 103.5 425.2 101.5 427.2 99.6 430.2 97.8 432.8 96.9 435.8 96.5 436.1 95.5 436.8 95.5 437.8 96.5 438.2 96.4 439.2 97.3 439.8 97.3 441.2 98.7 441.8 98.7 442.8 99.7 444.2 99.7 445.8 98.2 446.2 98.2 448.2 96.2 448.8 96.5 450.8 94.5 451.2 94.5 452.8 93 453.3 93 453.8 92.5 454.2 92.5 454.8 92 455.2 92 455.8 91.5 456.2 91.5 456.8 91 457.8 91 458.2 90.5 458.8 90.5 459.2 90 460.2 90 460.8 89.5 462.2 89.5 462.8 89 465.2 89ZM561.8 126.5 573.3 126.5 573.2 126.8ZM561.8 135 573.2 134.7 573.3 135Z" fill="#c6ff39"/>
<path d="M465.8 88.5 475.8 88.5 476.2 89 480.2 89 480.8 89.5 483.2 89.5 483.8 90 485.8 90 486.2 90.5 488.2 90.5 488.8 91 490.2 91 490.8 91.5 492.2 91.5 492.8 92 493.8 92 494.2 92.5 495.8 92.5 496.2 93 497.2 93 497.8 93.5 499.2 93.5 499.8 94 501.2 94 501.8 94.5 503.2 94.5 503.7 95 505.8 95 506.2 95.5 507.8 95.5 508.2 96 510.2 96 510.8 96.5 512.2 96.5 512.8 97 514.2 97 514.8 97.5 516.8 97.5 517.2 98 518.8 98 519.2 98.5 520.8 98.5 521.2 99 523.2 99 523.8 99.5 525.2 99.5 525.8 100 527.2 100 527.8 100.5 528.8 100.5 529.2 101 530.8 101 531.2 101.5 532.8 101.5 533.2 102 534.8 102 535.2 102.5 536.8 102.5 537.2 103 538.8 103 539.2 103.5 540.8 103.5 541.2 104 542.8 104 543.2 104.5 544.8 104.5 545.2 105 546.8 105 547.2 105.5 548.8 105.5 549.2 106 550.8 106 551.2 106.5 552.8 106.5 553.2 107 554.8 107 555.2 107.5 557.2 107.5 557.8 108 559.2 108 559.8 108.5 561.2 108.5 561.8 109 563.2 109 563.8 109.5 565.8 109.5 566.2 110 567.8 110 568.2 110.5 569.8 110.5 570.2 111 572.2 111 572.7 111.5 574.8 111.5 575.2 112 577.2 112 577.8 112.5 579.8 112.5 580.2 113 582.2 113 582.8 113.5 584.8 113.5 585.2 114 587.8 114 588.2 114.5 590.2 114.5 590.8 115 593.2 115 593.8 115.5 595.8 115.5 596.2 116 598.8 116 599.2 116.5 601.8 116.5 602.2 117 604.8 117 605.2 117.5 607.2 117.5 607.8 118 610.8 118 611.2 118.5 613.8 118.5 614.2 119 616.8 119 617.2 119.5 619.7 119.5 620.2 120 623.2 120 623.8 120.5 626.8 120.5 627.2 121 630.2 121 630.8 121.5 633.8 121.5 634.2 122 637.7 122 638.2 122.5 641.2 122.5 641.8 123 645.2 123 645.8 123.5 648.8 123.5 649.2 124 649.8 124 649.8 125.6 627.8 123 612.6 121 589.2 117.4 575.2 115.6 565.2 114.1 547.9 111 520.2 105.8 500.2 102.5 490.2 101.9 485.8 101.2 480.2 100.7 475.8 100.6 470.2 100.8 467.2 101.7 465.2 102.8 463.3 104.5 461.9 106.5 460.9 109 459.5 114 457.8 123 458.2 123 460.2 121.1 460.8 121.2 461.2 120.7 462.8 120.8 463.2 120.2 482.2 120.3 482.8 120.9 489.2 120.8 489.8 121.4 494.8 121.3 495.2 121.9 499.8 121.8 500.2 122.4 505.2 122.3 505.8 122.9 510.8 122.8 511.2 123.4 516.2 123.3 516.8 123.9 522.2 123.8 522.8 124.4 528.2 124.4 528.8 125 536.8 124.9 537.2 125.5 548.2 125.4 548.2 125.9 529.2 125.2 486.2 121.8 472.2 121.5 466.2 121.6 461.8 122.2 460.7 122.6 459.2 123.6 458.1 125 458.2 125.5 461.8 125.8 504.3 126.4 557.1 128 563.6 128.5 552.2 128.5 497.2 127.3 459.8 127.2 458.2 127.2 458.1 127.5 458.8 129.3 649.8 130.4 649.8 131.1 458.8 132.2 458.1 134 458.2 134.3 459.8 134.3 497.2 134.2 552.2 133 563.6 133 557.1 133.5 504.3 135.1 461.8 135.7 458.2 136 458.1 136.5 459.2 137.9 460.7 138.9 461.8 139.3 466.2 139.9 472.2 140 486.2 139.7 529.2 136.3 548.2 135.6 548.2 136.1 537.2 136 536.8 136.6 528.8 136.5 528.2 137.1 522.8 137.1 522.2 137.7 516.8 137.6 516.2 138.2 511.2 138.1 510.8 138.7 505.8 138.6 505.2 139.2 500.2 139.1 499.8 139.7 495.2 139.6 494.8 140.2 489.8 140.1 489.2 140.7 482.8 140.6 482.2 141.2 463.2 141.3 462.8 140.7 461.2 140.8 460.8 140.3 460.2 140.4 458.2 138.5 457.8 138.5 459.5 147.5 460.9 152.5 461.9 155 463.3 157 465.2 158.7 466.8 159.6 469.8 160.6 473.2 160.9 478.8 160.8 484.2 160.4 490.2 159.6 500.2 159 520.2 155.7 547.9 150.5 565.2 147.4 575.2 145.9 589.2 144.1 612.6 140.5 627.8 138.5 649.8 135.9 649.8 137.5 649.2 137.5 648.8 138 645.8 138 645.2 138.5 641.8 138.5 641.2 139 638.2 139 637.7 139.5 634.2 139.5 633.8 140 630.8 140 630.2 140.5 627.2 140.5 626.8 141 623.8 141 623.2 141.5 620.2 141.5 619.7 142 617.2 142 616.8 142.5 614.2 142.5 613.8 143 611.2 143 610.8 143.5 607.8 143.5 607.2 144 605.2 144 604.8 144.5 602.2 144.5 601.8 145 599.2 145 598.8 145.5 596.2 145.5 595.8 146 593.8 146 593.2 146.5 590.8 146.5 590.2 147 588.2 147 587.8 147.5 585.2 147.5 584.8 148 582.8 148 582.2 148.5 580.2 148.5 579.8 149 577.8 149 577.2 149.5 575.2 149.5 574.8 150 572.7 150 572.2 150.5 570.2 150.5 569.8 151 568.2 151 567.8 151.5 566.2 151.5 565.8 152 563.8 152 563.2 152.5 561.8 152.5 561.2 153 559.8 153 559.2 153.5 557.8 153.5 557.2 154 555.2 154 554.8 154.5 553.2 154.5 552.8 155 551.2 155 550.8 155.5 549.2 155.5 548.8 156 547.2 156 546.8 156.5 545.2 156.5 544.8 157 543.2 157 542.8 157.5 541.2 157.5 540.8 158 539.2 158 538.8 158.5 537.2 158.5 536.8 159 535.2 159 534.8 159.5 533.2 159.5 532.8 160 531.2 160 530.8 160.5 529.2 160.5 528.8 161 527.8 161 527.2 161.5 525.8 161.5 525.2 162 523.8 162 523.2 162.5 521.2 162.5 520.8 163 519.2 163 518.8 163.5 517.2 163.5 516.8 164 514.8 164 514.2 164.5 512.8 164.5 512.2 165 510.8 165 510.2 165.5 508.2 165.5 507.8 166 506.2 166 505.8 166.5 503.7 166.5 503.2 167 501.8 167 501.2 167.5 499.8 167.5 499.2 168 497.8 168 497.2 168.5 496.2 168.5 495.8 169 494.2 169 493.8 169.5 492.8 169.5 492.2 170 490.8 170 490.2 170.5 488.8 170.5 488.2 171 486.2 171 485.8 171.5 483.8 171.5 483.2 172 480.8 172 480.2 172.5 476.2 172.5 475.8 173 465.8 173 465.2 172.5 462.8 172.5 462.2 172 460.8 172 460.2 171.5 459.2 171.5 458.8 171 458.3 171 457.7 170.5 456.8 170.5 456.2 170 455.7 170 455.2 169.5 454.8 169.5 454.2 169 453.8 169 453.2 168.5 452.8 168.5 451.3 167 450.8 167 448.8 165 448.2 165.2 446.2 163.3 445.8 163.3 444.2 161.8 442.8 161.8 441.8 162.7 441.2 162.7 439.8 164.1 439.2 164.1 438.2 165 436.2 164.9 434.2 164.3 432.8 163.2 429.2 161.6 427.8 160.5 426.8 159.5 425.9 157.5 425.7 156 425.7 153.5 425.4 152.5 424.2 150.5 423.3 149.5 420.8 149.2 416.2 147.8 406.7 144.5 403 143 403.2 142.8 404.8 142.9 416.2 144.4 418.8 144.2 419.1 144 419.1 143.5 416.2 138.7 414.9 136 414.1 133.5 413.7 131 413.9 128.5 414.7 126 416.2 122.8 418.9 118.5 419.1 118 419.1 117.5 417.8 117.1 415.8 117.1 404.8 118.6 403.2 118.7 403 118.5 406.7 117 416.2 113.7 420.8 112.3 423.3 112 424.2 111 425.4 109 425.7 108 425.7 105.5 425.9 104 426.8 102 427.8 101 429.2 99.9 432.8 98.3 434.2 97.2 436.2 96.6 438.2 96.5 439.2 97.4 439.8 97.4 441.2 98.8 441.8 98.8 442.8 99.7 444.2 99.7 445.8 98.2 446.2 98.2 448.2 96.3 448.8 96.5 450.8 94.5 451.3 94.5 452.8 93 453.2 93 453.8 92.5 454.2 92.5 454.8 92 455.2 92 455.7 91.5 456.2 91.5 456.8 91 457.7 91 458.3 90.5 458.8 90.5 459.2 90 460.2 90 460.8 89.5 462.2 89.5 462.8 89 465.2 89ZM552.8 126 560.8 126 560.8 126.3ZM552.8 135.5 560.8 135.2 560.8 135.5Z" fill="#e9ff16"/>
<path d="M465.8 88.5 475.8 88.5 476.3 89 480.2 89 480.8 89.5 483.2 89.5 483.8 90 485.7 90 486.2 90.5 488.2 90.5 488.8 91 490.2 91 490.8 91.5 492.2 91.5 492.8 92 493.8 92 494.2 92.5 495.7 92.5 496.2 93 497.2 93 497.7 93.5 499.2 93.5 499.8 94 501.2 94 501.7 94.5 503.2 94.5 503.8 95 505.8 95 506.3 95.5 507.7 95.5 508.2 96 510.2 96 510.7 96.5 512.2 96.5 512.8 97 514.2 97 514.8 97.5 516.8 97.5 517.2 98 518.8 98 519.2 98.5 520.8 98.5 521.2 99 523.2 99 523.8 99.5 525.2 99.5 525.8 100 527.2 100 527.8 100.5 528.8 100.5 529.2 101 530.8 101 531.2 101.5 532.8 101.5 533.2 102 534.8 102 535.2 102.5 536.8 102.5 537.2 103 538.7 103 539.2 103.5 540.8 103.5 541.2 104 542.8 104 543.2 104.5 544.8 104.5 545.2 105 546.8 105 547.2 105.5 548.8 105.5 549.2 106 550.8 106 551.2 106.5 552.8 106.5 553.2 107 554.8 107 555.2 107.5 557.2 107.5 557.8 108 559.2 108 559.8 108.5 561.2 108.5 561.8 109 563.2 109 563.8 109.5 565.8 109.5 566.2 110 567.8 110 568.2 110.5 569.8 110.5 570.2 111 572.2 111 572.8 111.5 574.8 111.5 575.2 112 577.2 112 577.8 112.5 579.8 112.5 580.2 113 582.2 113 582.8 113.5 584.8 113.5 585.2 114 587.8 114 588.3 114.5 590.2 114.5 590.8 115 593.2 115 593.8 115.5 595.8 115.5 596.2 116 598.8 116 599.2 116.5 601.8 116.5 602.2 117 604.8 117 605.2 117.5 607.2 117.5 607.8 118 610.8 118 611.2 118.5 613.7 118.5 614.2 119 616.7 119 617.2 119.5 619.8 119.5 620.2 120 623.2 120 623.8 120.5 626.8 120.5 627.2 121 630.2 121 630.8 121.5 633.8 121.5 634.2 122 637.8 122 638.2 122.5 641.3 122.5 641.8 123 645.2 123 645.8 123.5 648.8 123.5 649.2 124 649.8 124 649.8 125.2 632.8 123.2 613.2 120.6 589.2 116.8 574.2 114.7 561.2 112.5 521.2 104.7 500.2 100.9 494.8 100.5 484.2 99 479.8 98.6 475.2 98.4 469.8 98.6 466.2 99.7 464.2 100.6 461.8 102.5 460.4 104.5 459.4 107 457.9 113.5 456.2 125 456.8 125 457.4 124.5 457.3 124 460.2 121.2 460.8 121.3 461.2 120.7 462.8 120.9 463.3 120.3 482.3 120.3 482.8 120.9 489.2 120.9 489.8 121.4 494.8 121.4 495.2 122 499.8 121.9 500.2 122.5 505.2 122.4 505.8 123 510.8 122.9 511.2 123.5 516.2 123.4 516.2 124 486.5 121.5 475.8 121.2 467.2 121.1 463.2 121.5 461.2 122 460.2 122.5 458.8 123.7 457.8 125 457.8 125.5 458.8 125.8 497.3 126.4 535.1 127.5 533.8 127.7 529.2 127.7 497.2 127.1 459.2 127 458.3 127 457.9 127.5 458.8 129.5 635.2 130.5 635.2 131 458.8 132 457.9 134 458.3 134.5 459.2 134.5 497.2 134.4 529.2 133.8 533.8 133.8 535.1 134 497.3 135.1 458.8 135.7 457.8 136 457.8 136.5 458.8 137.8 460.2 139 461.2 139.5 463.2 140 467.2 140.4 475.8 140.3 486.5 140 516.2 137.5 516.2 138.1 511.2 138 510.8 138.6 505.8 138.5 505.2 139.1 500.2 139 499.8 139.6 495.2 139.5 494.8 140.1 489.8 140.1 489.2 140.6 482.8 140.6 482.3 141.2 463.3 141.2 462.8 140.6 461.2 140.8 460.8 140.2 460.2 140.3 457.3 137.5 457.4 137 456.8 136.5 456.2 136.5 457.9 148 459.4 154.5 460.4 157 461.8 158.9 463.8 160.6 465.4 161.5 469.2 162.7 472.2 163.1 478.8 163 484.2 162.5 494.8 161 500.2 160.6 521.2 156.8 561.2 149 574.2 146.8 589.2 144.7 613.2 140.9 632.8 138.3 649.8 136.3 649.8 137.5 649.2 137.5 648.8 138 645.8 138 645.2 138.5 641.8 138.5 641.3 139 638.2 139 637.8 139.5 634.2 139.5 633.8 140 630.8 140 630.2 140.5 627.2 140.5 626.8 141 623.8 141 623.2 141.5 620.2 141.5 619.8 142 617.2 142 616.7 142.5 614.2 142.5 613.7 143 611.2 143 610.8 143.5 607.8 143.5 607.2 144 605.2 144 604.8 144.5 602.2 144.5 601.8 145 599.2 145 598.8 145.5 596.2 145.5 595.8 146 593.8 146 593.2 146.5 590.8 146.5 590.2 147 588.3 147 587.8 147.5 585.2 147.5 584.8 148 582.8 148 582.2 148.5 580.2 148.5 579.8 149 577.8 149 577.2 149.5 575.2 149.5 574.8 150 572.8 150 572.2 150.5 570.2 150.5 569.8 151 568.2 151 567.8 151.5 566.2 151.5 565.8 152 563.8 152 563.2 152.5 561.8 152.5 561.2 153 559.8 153 559.2 153.5 557.8 153.5 557.2 154 555.2 154 554.8 154.5 553.2 154.5 552.8 155 551.2 155 550.8 155.5 549.2 155.5 548.8 156 547.2 156 546.8 156.5 545.2 156.5 544.8 157 543.2 157 542.8 157.5 541.2 157.5 540.8 158 539.2 158 538.7 158.5 537.2 158.5 536.8 159 535.2 159 534.8 159.5 533.2 159.5 532.8 160 531.2 160 530.8 160.5 529.2 160.5 528.8 161 527.8 161 527.2 161.5 525.8 161.5 525.2 162 523.8 162 523.2 162.5 521.2 162.5 520.8 163 519.2 163 518.8 163.5 517.2 163.5 516.8 164 514.8 164 514.2 164.5 512.8 164.5 512.2 165 510.7 165 510.2 165.5 508.2 165.5 507.7 166 506.3 166 505.8 166.5 503.8 166.5 503.2 167 501.7 167 501.2 167.5 499.8 167.5 499.2 168 497.7 168 497.2 168.5 496.2 168.5 495.7 169 494.2 169 493.8 169.5 492.8 169.5 492.2 170 490.8 170 490.2 170.5 488.8 170.5 488.2 171 486.2 171 485.7 171.5 483.8 171.5 483.2 172 480.8 172 480.2 172.5 476.3 172.5 475.8 173 465.8 173 465.2 172.5 462.7 172.5 462.2 172 460.8 172 460.2 171.5 459.2 171.5 458.8 171 458.3 171 457.8 170.5 456.8 170.5 456.2 170 455.8 170 455.2 169.5 454.8 169.5 454.3 169 453.7 169 453.3 168.5 452.7 168.5 451.2 167 450.8 167 448.8 165 448.2 165.2 446.2 163.3 445.8 163.3 444.2 161.8 442.8 161.8 441.8 162.7 441.2 162.7 439.8 164.1 439.2 164.1 438.8 164.5 438.2 164.6 436.2 164.7 434.2 164 433.2 163.3 432.2 162.3 430.2 161.3 429.1 160.5 428.1 159.5 427.3 158 427.1 157 427.4 155.5 429.7 151.5 429.8 151 429.5 150 425.8 149.6 421.2 148.7 415.3 147 408.6 144.5 409.2 144.3 410.2 144.3 416.2 145 421.2 145.3 423.9 145 424.6 144.5 424.2 143.5 421.2 139.5 419.4 136.5 418.3 133.5 417.9 131 418.1 128.5 419.2 125.5 421.2 122 424.6 117.5 424.6 117 423.9 116.5 421.2 116.2 416.2 116.5 410.2 117.2 409.2 117.2 408.6 117 415.3 114.5 421.2 112.8 425.8 111.9 429.5 111.5 429.8 110.5 429.7 110 427.4 106 427.1 104.5 427.3 103.5 428.1 102 429.1 101 430.2 100.2 432.2 99.2 433.2 98.2 434.2 97.5 436.2 96.8 438.2 96.9 438.8 97 439.2 97.4 439.8 97.4 441.2 98.8 441.8 98.8 442.8 99.7 444.2 99.7 445.8 98.2 446.2 98.2 448.2 96.3 448.8 96.5 450.8 94.5 451.2 94.5 452.7 93 453.3 93 453.7 92.5 454.3 92.5 454.8 92 455.2 92 455.8 91.5 456.2 91.5 456.8 91 457.8 91 458.3 90.5 458.8 90.5 459.2 90 460.2 90 460.8 89.5 462.2 89.5 462.7 89 465.2 89ZM516.8 124 522.4 124 522.2 124.4ZM523.2 124.5 528.3 124.5 528.2 124.9ZM530.8 125 536.8 125 536.8 125.3ZM542.8 125.5 548.3 125.5 548.2 125.7ZM542.8 136 548.2 135.8 548.3 136ZM530.8 136.5 536.8 136.2 536.8 136.5ZM523.2 137 528.2 136.6 528.3 137ZM516.8 137.5 522.2 137.1 522.4 137.5Z" fill="#fff200"/>
<path d="M465.8 88.5 475.8 88.5 476.2 89 480.2 89 480.8 89.5 483.2 89.5 483.8 90 485.8 90 486.2 90.5 488.2 90.5 488.8 91 490.2 91 490.7 91.5 492.2 91.5 492.8 92 493.8 92 494.2 92.5 495.8 92.5 496.2 93 497.2 93 497.8 93.5 499.2 93.5 499.8 94 501.3 94 501.8 94.5 503.2 94.5 503.8 95 505.8 95 506.2 95.5 507.7 95.5 508.2 96 510.2 96 510.8 96.5 512.2 96.5 512.8 97 514.2 97 514.8 97.5 516.8 97.5 517.2 98 518.8 98 519.3 98.5 520.8 98.5 521.2 99 523.2 99 523.8 99.5 525.2 99.5 525.8 100 527.2 100 527.8 100.5 528.8 100.5 529.2 101 530.8 101 531.2 101.5 532.8 101.5 533.2 102 534.7 102 535.2 102.5 536.8 102.5 537.2 103 538.8 103 539.2 103.5 540.8 103.5 541.2 104 542.8 104 543.2 104.5 544.8 104.5 545.2 105 546.8 105 547.2 105.5 548.8 105.5 549.2 106 550.8 106 551.2 106.5 552.8 106.5 553.2 107 554.8 107 555.2 107.5 557.2 107.5 557.8 108 559.2 108 559.8 108.5 561.2 108.5 561.8 109 563.2 109 563.8 109.5 565.8 109.5 566.3 110 567.8 110 568.2 110.5 569.8 110.5 570.2 111 572.2 111 572.7 111.5 574.8 111.5 575.2 112 577.2 112 577.8 112.5 579.8 112.5 580.2 113 582.2 113 582.8 113.5 584.8 113.5 585.2 114 587.8 114 588.2 114.5 590.2 114.5 590.8 115 593.2 115 593.8 115.5 595.8 115.5 596.2 116 598.8 116 599.2 116.5 601.8 116.5 602.2 117 604.8 117 605.2 117.5 607.2 117.5 607.8 118 610.8 118 611.2 118.5 613.8 118.5 614.2 119 616.8 119 617.2 119.5 619.8 119.5 620.2 120 623.2 120 623.8 120.5 626.8 120.5 627.2 121 630.2 121 630.8 121.5 633.8 121.5 634.2 122 637.8 122 638.2 122.5 641.2 122.5 641.8 123 645.2 123 645.8 123.5 648.8 123.5 649.2 124 649.8 124 649.8 125 649.2 124.9 628.8 122.4 611.2 119.9 588.8 116.2 576.8 114.4 562.8 111.9 521.2 103.3 500.2 99.3 495.8 98.8 484.2 97 479.2 96.4 472.2 96.2 470.2 96.3 468.8 96.5 464.2 97.8 460.2 99.8 457.8 101.5 453.6 105 453.8 105.3 454.3 105.5 454.9 106 455.2 106.9 455.4 108.5 455.3 114 454.6 124.5 456.2 125.5 457.2 124.7 457.6 125 457.5 125.5 457.8 125.8 459.8 126.2 490.5 126.5 458.2 126.8 457.6 127 458.5 129.5 458.8 129.7 517.2 129.9 590.6 130.5 590.6 131 517.2 131.6 458.8 131.8 458.5 132 457.6 134.5 458.2 134.7 490.5 135 459.8 135.3 457.8 135.7 457.5 136 457.6 136.5 457.2 136.8 456.2 136 454.6 137 455.3 147.5 455.4 153 455.2 154.6 454.9 155.5 454.3 156 453.8 156.2 453.6 156.5 457.8 160 460.2 161.7 464.2 163.7 467.8 164.7 470.8 165.3 478.2 165.1 484.2 164.5 495.8 162.7 500.2 162.2 521.2 158.2 562.8 149.6 576.8 147.1 588.8 145.3 611.2 141.6 628.8 139.1 649.2 136.6 649.8 136.5 649.8 137.5 649.2 137.5 648.8 138 645.8 138 645.2 138.5 641.8 138.5 641.2 139 638.2 139 637.8 139.5 634.2 139.5 633.8 140 630.8 140 630.2 140.5 627.2 140.5 626.8 141 623.8 141 623.2 141.5 620.2 141.5 619.8 142 617.2 142 616.8 142.5 614.2 142.5 613.8 143 611.2 143 610.8 143.5 607.8 143.5 607.2 144 605.2 144 604.8 144.5 602.2 144.5 601.8 145 599.2 145 598.8 145.5 596.2 145.5 595.8 146 593.8 146 593.2 146.5 590.8 146.5 590.2 147 588.2 147 587.8 147.5 585.2 147.5 584.8 148 582.8 148 582.2 148.5 580.2 148.5 579.8 149 577.8 149 577.2 149.5 575.2 149.5 574.8 150 572.7 150 572.2 150.5 570.2 150.5 569.8 151 568.2 151 567.8 151.5 566.3 151.5 565.8 152 563.8 152 563.2 152.5 561.8 152.5 561.2 153 559.8 153 559.2 153.5 557.8 153.5 557.2 154 555.2 154 554.8 154.5 553.2 154.5 552.8 155 551.2 155 550.8 155.5 549.2 155.5 548.8 156 547.2 156 546.8 156.5 545.2 156.5 544.8 157 543.2 157 542.8 157.5 541.2 157.5 540.8 158 539.2 158 538.8 158.5 537.2 158.5 536.8 159 535.2 159 534.7 159.5 533.2 159.5 532.8 160 531.2 160 530.8 160.5 529.2 160.5 528.8 161 527.8 161 527.2 161.5 525.8 161.5 525.2 162 523.8 162 523.2 162.5 521.2 162.5 520.8 163 519.3 163 518.8 163.5 517.2 163.5 516.8 164 514.8 164 514.2 164.5 512.8 164.5 512.2 165 510.8 165 510.2 165.5 508.2 165.5 507.7 166 506.2 166 505.8 166.5 503.8 166.5 503.2 167 501.8 167 501.3 167.5 499.8 167.5 499.2 168 497.8 168 497.2 168.5 496.2 168.5 495.8 169 494.2 169 493.8 169.5 492.8 169.5 492.2 170 490.7 170 490.2 170.5 488.8 170.5 488.2 171 486.2 171 485.8 171.5 483.8 171.5 483.2 172 480.8 172 480.2 172.5 476.2 172.5 475.8 173 465.8 173 465.2 172.5 462.7 172.5 462.2 172 460.8 172 460.2 171.5 459.2 171.5 458.8 171 458.2 171 457.8 170.5 456.8 170.5 456.2 170 455.8 170 455.2 169.5 454.8 169.5 454.2 169 453.8 169 453.2 168.5 452.7 168.5 451.2 167 450.8 167 448.8 165 448.2 165.2 446.2 163.3 445.8 163.3 444.2 161.7 442.8 161.7 441.8 162.7 441.2 162.7 439.8 164 437.5 164.5 436.5 164.5 434.8 164 433.8 163.5 432.7 162.5 432.2 161.7 430.2 160.6 429.2 159.7 428.4 158.5 428.1 157.5 428.3 156 428.9 155 430.2 153.6 431.8 152.6 436.9 150.5 437.7 150 438 149.5 437.9 149 436.8 149 436.2 149.4 433.2 149.3 432.8 149.5 431.8 149.5 428.8 149.4 424.2 148.8 420.8 148.1 416.8 147 414 146 413.2 145.5 414.8 145.4 422.3 146 426.8 145.8 429.5 145.5 431.5 145 432.3 144.5 432.4 144 427.8 139.4 425.3 136.5 423.8 133.7 423.2 131 423.5 128.5 424.1 127 424.9 125.5 427.3 122.5 432 118 432.4 117.5 432.3 117 431.5 116.5 429.5 116 424.2 115.6 421.7 115.5 414.8 116.1 413.2 116 414 115.5 416.8 114.5 420.8 113.4 424.2 112.7 428.8 112.1 431.8 112 432.8 112 433.2 112.2 436.2 112.1 436.8 112.5 437.9 112.5 438 112 437.7 111.5 436.9 111 431.8 108.9 430.2 107.9 428.9 106.5 428.3 105.5 428.1 104 428.7 102.5 429.5 101.5 432.2 99.8 432.7 99 433.8 98 434.8 97.5 436.5 97 437.5 97 439.8 97.5 441.2 98.8 441.8 98.8 442.8 99.8 444.2 99.8 445.8 98.2 446.2 98.2 448.2 96.3 448.8 96.5 450.8 94.5 451.2 94.5 452.7 93 453.2 93 453.8 92.5 454.2 92.5 454.8 92 455.2 92 455.8 91.5 456.2 91.5 456.8 91 457.8 91 458.2 90.5 458.8 90.5 459.2 90 460.2 90 460.8 89.5 462.2 89.5 462.7 89 465.2 89ZM463.2 120.3 482.2 120.4 482.8 121 489.4 121 489.2 121.5 476.8 120.9 467.8 120.9 464.8 121 461.9 121.5 460.6 122 459.2 122.9 457.8 124.7 457.4 124 460.2 121.3 460.8 121.4 461.2 120.8 462.8 120.9ZM490.2 121.5 494.9 121.5 494.8 121.9ZM495.8 122 499.8 122 499.8 122.4ZM501.2 122.5 505.3 122.5 505.2 122.9ZM507.2 123 510.8 123 510.8 123.3ZM513.2 123.5 516.3 123.5 516.2 123.8ZM519.8 124 522.3 124 522.2 124.3ZM457.8 136.8 459.2 138.6 460.6 139.5 461.9 140 464.8 140.5 467.8 140.6 476.8 140.6 489.2 140 489.4 140.5 482.8 140.5 482.2 141.1 463.2 141.2 462.8 140.6 461.2 140.7 460.8 140.1 460.2 140.2 457.4 137.5ZM519.8 137.5 522.2 137.2 522.3 137.5ZM513.2 138 516.2 137.7 516.3 138ZM507.3 138.5 510.8 138.2 510.8 138.5ZM501.2 139 505.2 138.6 505.3 139ZM495.7 139.5 499.8 139.1 499.8 139.5ZM490.2 140 494.8 139.6 494.9 140Z" fill="#ffcf00"/>
<path d="M465.8 88.5 475.7 88.5 476.2 89 480.2 89 480.8 89.5 483.2 89.5 483.8 90 485.8 90 486.2 90.5 488.2 90.5 488.8 91 490.2 91 490.8 91.5 492.2 91.5 492.8 92 493.8 92 494.2 92.5 495.8 92.5 496.2 93 497.2 93 497.8 93.5 499.2 93.5 499.8 94 501.2 94 501.8 94.5 503.2 94.5 503.8 95 505.8 95 506.2 95.5 507.7 95.5 508.3 96 510.2 96 510.7 96.5 512.2 96.5 512.8 97 514.2 97 514.8 97.5 516.8 97.5 517.2 98 518.8 98 519.2 98.5 520.8 98.5 521.2 99 523.2 99 523.8 99.5 525.2 99.5 525.8 100 527.2 100 527.8 100.5 528.8 100.5 529.2 101 530.8 101 531.2 101.5 532.8 101.5 533.2 102 534.8 102 535.2 102.5 536.8 102.5 537.2 103 538.8 103 539.2 103.5 540.8 103.5 541.2 104 542.8 104 543.2 104.5 544.8 104.5 545.2 105 546.8 105 547.2 105.5 548.8 105.5 549.2 106 550.8 106 551.2 106.5 552.8 106.5 553.2 107 554.8 107 555.2 107.5 557.2 107.5 557.8 108 559.2 108 559.8 108.5 561.2 108.5 561.8 109 563.2 109 563.8 109.5 565.8 109.5 566.2 110 567.8 110 568.2 110.5 569.8 110.5 570.3 111 572.2 111 572.8 111.5 574.8 111.5 575.2 112 577.2 112 577.8 112.5 579.8 112.5 580.2 113 582.3 113 582.8 113.5 584.8 113.5 585.2 114 587.8 114 588.2 114.5 590.2 114.5 590.8 115 593.2 115 593.8 115.5 595.8 115.5 596.3 116 598.8 116 599.2 116.5 601.8 116.5 602.2 117 604.8 117 605.2 117.5 607.2 117.5 607.8 118 610.8 118 611.2 118.5 613.8 118.5 614.3 119 616.8 119 617.2 119.5 619.8 119.5 620.2 120 623.2 120 623.7 120.5 626.8 120.5 627.2 121 630.2 121 630.8 121.5 633.8 121.5 634.2 122 637.8 122 638.2 122.5 641.2 122.5 641.8 123 645.2 123 645.8 123.5 648.8 123.5 649.2 124 649.8 124 649.8 124.8 648.3 124.5 645.8 124.3 644.2 124 633.2 122.8 632.2 122.5 629.8 122.3 628.3 122 625.8 121.8 624.6 121.5 615.2 120.3 596.2 117.3 589.2 116 587.2 115.8 574.8 113.8 558.8 110.7 522.8 102.9 507.8 99.9 500.2 98.5 497.2 98.1 485.2 96 478.8 95.2 470.2 95 467.8 95.5 464.2 96.4 458.9 99 456 101 453.2 103.3 451.2 104.5 449.8 105.7 448.2 106.6 447.8 106.4 446.8 107.4 445.2 108.3 442.8 109.1 440.8 109.4 438.2 109.5 435.8 109.2 432.8 108.4 430.8 107.3 429.5 106 428.9 104.5 429.1 103 429.8 102 430.8 101.2 432.2 100.3 433.3 99 434.2 98.2 436 97.5 438 97.5 440.2 98 441.2 98.9 441.8 98.9 442.8 99.8 444.2 99.8 445.8 98.3 446.2 98.3 448.2 96.3 448.8 96.5 450.8 94.5 451.2 94.5 452.7 93 453.2 93 453.8 92.5 454.2 92.5 454.7 92 455.2 92 455.8 91.5 456.2 91.5 456.8 91 457.8 91 458.3 90.5 458.8 90.5 459.2 90 460.2 90 460.8 89.5 462.2 89.5 462.7 89 465.2 89ZM425.8 113 430.2 112.6 434.8 112.7 438.2 113.2 442.2 114.5 445.3 115.9 446.2 116.7 446.8 116.8 448.1 118 448.2 120.5 448 122 447.8 122.4 445.3 120.5 441.8 118.5 436.5 116.5 431.6 115.5 429.8 115.3 418 115 418.7 114.5 420.2 114 422.2 113.5ZM463.2 120.4 482.3 120.5 482.2 120.9 468.2 120.6 463.2 121 463.1 120.5ZM461.2 120.9 463 121 461.2 121.5 461.1 121ZM486.2 121 489.3 121 489.2 121.3ZM492.2 121.5 494.8 121.5 494.8 121.8ZM453.8 125 454.2 124.9 455.2 125.2 456.2 125.7 457.2 124.9 457.4 125 457.2 125.6 458.2 126.3 462 126.5 458.2 126.6 457.8 126.7 457.4 127 458.2 129.5 458.8 129.8 517.2 130 565.2 130.5 566.8 130.5 566.8 131 517.2 131.5 458.8 131.7 458.2 132 457.4 134.5 457.8 134.8 458.2 134.9 462 135 458.2 135.2 457.2 135.9 457.4 136.5 457.2 136.6 456.2 135.8 455.2 136.3 454.2 136.6 452.8 136.4 450.8 134.5 450.8 134 450.3 133.5 450.2 132.5 449.8 132 449.8 131.5 449.8 129.5 450.2 129 450.3 128 450.8 127.5 450.8 127 452.8 125.1ZM648.8 136.8 649.8 136.7 649.8 137.5 649.2 137.5 648.8 138 645.8 138 645.2 138.5 641.8 138.5 641.2 139 638.2 139 637.8 139.5 634.2 139.5 633.8 140 630.8 140 630.2 140.5 627.2 140.5 626.8 141 623.7 141 623.2 141.5 620.2 141.5 619.8 142 617.2 142 616.8 142.5 614.3 142.5 613.8 143 611.2 143 610.8 143.5 607.8 143.5 607.2 144 605.2 144 604.8 144.5 602.2 144.5 601.8 145 599.2 145 598.8 145.5 596.3 145.5 595.8 146 593.8 146 593.2 146.5 590.8 146.5 590.2 147 588.2 147 587.8 147.5 585.2 147.5 584.8 148 582.8 148 582.3 148.5 580.2 148.5 579.8 149 577.8 149 577.2 149.5 575.2 149.5 574.8 150 572.8 150 572.2 150.5 570.3 150.5 569.8 151 568.2 151 567.8 151.5 566.2 151.5 565.8 152 563.8 152 563.2 152.5 561.8 152.5 561.2 153 559.8 153 559.2 153.5 557.8 153.5 557.2 154 555.2 154 554.8 154.5 553.2 154.5 552.8 155 551.2 155 550.8 155.5 549.2 155.5 548.8 156 547.2 156 546.8 156.5 545.2 156.5 544.8 157 543.2 157 542.8 157.5 541.2 157.5 540.8 158 539.2 158 538.8 158.5 537.2 158.5 536.8 159 535.2 159 534.8 159.5 533.2 159.5 532.8 160 531.2 160 530.8 160.5 529.2 160.5 528.8 161 527.8 161 527.2 161.5 525.8 161.5 525.2 162 523.8 162 523.2 162.5 521.2 162.5 520.8 163 519.2 163 518.8 163.5 517.2 163.5 516.8 164 514.8 164 514.2 164.5 512.8 164.5 512.2 165 510.7 165 510.2 165.5 508.3 165.5 507.7 166 506.2 166 505.8 166.5 503.8 166.5 503.2 167 501.8 167 501.2 167.5 499.8 167.5 499.2 168 497.8 168 497.2 168.5 496.2 168.5 495.8 169 494.2 169 493.8 169.5 492.8 169.5 492.2 170 490.8 170 490.2 170.5 488.8 170.5 488.2 171 486.2 171 485.8 171.5 483.8 171.5 483.2 172 480.8 172 480.2 172.5 476.2 172.5 475.7 173 465.8 173 465.2 172.5 462.7 172.5 462.2 172 460.8 172 460.2 171.5 459.2 171.5 458.8 171 458.3 171 457.8 170.5 456.8 170.5 456.2 170 455.8 170 455.2 169.5 454.7 169.5 454.2 169 453.8 169 453.2 168.5 452.7 168.5 451.2 167 450.8 167 448.8 165 448.2 165.2 446.2 163.2 445.8 163.2 444.2 161.7 442.8 161.7 441.8 162.6 441.2 162.6 440.2 163.5 439.8 163.7 437.2 164.1 435.2 163.8 433.8 163 432.2 161.2 430.8 160.3 429.8 159.5 429.1 158.5 428.9 157.5 429.2 156 429.9 155 431.2 153.9 432.8 153.1 434.2 152.6 436.8 152.1 439.2 152 441.8 152.2 443.8 152.7 445.2 153.2 446.8 154.1 447.8 155.1 448.2 154.9 449.2 155.4 451.2 157 453.2 158.2 456 160.5 458.2 162.1 460.2 163.2 464 165 467.8 166 470.2 166.5 474 166.5 479.2 166.2 487.2 165.2 497.2 163.4 500.2 163 507.8 161.6 522.8 158.6 558.8 150.8 574.8 147.7 587.2 145.7 589.2 145.5 596.2 144.2 615.2 141.2 624.6 140 625.8 139.7 628.3 139.5 629.8 139.2ZM447.8 139.1 448.1 140 448.2 141.5 448.1 143.5 447.8 143.8 445.3 145.6 443.2 146.6 441.2 147.4 438.2 148.3 432.8 148.9 428.2 148.8 422.2 148 418.7 147 418 146.5 429.8 146.2 431.6 146 436.5 145 439.5 144 442.9 142.5 445.3 141ZM492.3 140 494.8 139.7 494.8 140ZM461.2 140 463 140.5 461.2 140.6 461.1 140.5ZM486.2 140.5 489.2 140.2 489.3 140.5ZM463.2 140.5 468.2 140.9 482.2 140.6 482.3 141 463.2 141.1 463.1 141Z" fill="#ffab00"/>
<path d="M465.8 88.5 475.8 88.5 476.2 89 480.2 89 480.8 89.5 483.2 89.5 483.8 90 485.8 90 486.3 90.5 488.2 90.5 488.8 91 490.2 91 490.8 91.5 492.2 91.5 492.8 92 493.8 92 494.3 92.5 495.8 92.5 496.2 93 497.2 93 497.7 93.5 499.2 93.5 499.7 94 501.2 94 501.8 94.5 503.2 94.5 503.8 95 505.8 95 506.2 95.5 507.7 95.5 508.2 96 510.2 96 510.8 96.5 512.2 96.5 512.8 97 514.2 97 514.8 97.5 516.8 97.5 517.2 98 518.8 98 519.2 98.5 520.8 98.5 521.2 99 523.2 99 523.8 99.5 525.2 99.5 525.8 100 527.2 100 527.8 100.5 528.8 100.5 529.2 101 530.8 101 531.2 101.5 532.8 101.5 533.2 102 534.8 102 535.2 102.5 536.8 102.5 537.2 103 538.8 103 539.2 103.5 540.8 103.5 541.2 104 542.8 104 543.2 104.5 544.8 104.5 545.2 105 546.8 105 547.2 105.5 548.8 105.5 549.2 106 550.8 106 551.2 106.5 552.8 106.5 553.2 107 554.8 107 555.2 107.5 557.2 107.5 557.8 108 559.2 108 559.8 108.5 561.2 108.5 561.8 109 563.2 109 563.7 109.5 565.8 109.5 566.2 110 567.8 110 568.2 110.5 569.8 110.5 570.2 111 572.2 111 572.8 111.5 574.8 111.5 575.2 112 577.2 112 577.8 112.5 579.8 112.5 580.2 113 582.2 113 582.8 113.5 584.8 113.5 585.2 114 587.8 114 588.2 114.5 590.2 114.5 590.8 115 593.2 115 593.8 115.5 595.8 115.5 596.2 116 598.8 116 599.2 116.5 601.8 116.5 602.2 117 604.8 117 605.2 117.5 607.2 117.5 607.8 118 610.8 118 611.3 118.5 613.8 118.5 614.2 119 616.8 119 617.2 119.5 619.8 119.5 620.2 120 623.2 120 623.8 120.5 626.8 120.5 627.2 121 630.2 121 630.8 121.5 633.8 121.5 634.2 122 637.8 122 638.2 122.5 641.2 122.5 641.8 123 645.2 123 645.8 123.5 648.8 123.5 649.2 124 649.8 124 649.8 124.7 615.8 120.2 575.2 113.6 561.8 111.1 521.8 102.4 500.2 98.2 484.8 95.5 477.8 94.7 470.2 94.6 464.2 95.9 461.6 97 458.2 98.8 455.8 100.4 452.8 103 450.9 104 449.8 105 448.2 105.9 448 105.5 447.8 104.1 447.3 104.5 446.8 105.5 446 106.5 443.8 107.9 442.2 108.4 439.8 108.8 437.8 108.8 435.8 108.6 433.2 108 431.4 107 430.2 106 429.5 104.5 429.6 103.5 430.1 102.5 431.1 101.5 432.8 100.5 433.5 99.5 434.2 98.8 435.2 98.2 436.2 97.9 437.2 97.9 439.8 98.3 440.2 98.1 441.2 98.9 441.8 98.9 442.8 99.8 444.2 99.8 445.8 98.3 446.2 98.3 448.2 96.3 448.8 96.5 450.8 94.5 451.2 94.5 452.7 93 453.2 93 453.8 92.5 454.3 92.5 454.7 92 455.2 92 455.8 91.5 456.3 91.5 456.8 91 457.8 91 458.3 90.5 458.8 90.5 459.2 90 460.2 90 460.8 89.5 462.3 89.5 462.8 89 465.2 89ZM425.7 113.5 430.2 113 433.2 113.1 437.8 113.7 441.2 114.7 444.8 116.2 447.8 118.2 448.1 119.5 447.9 121 447.8 121.3 445.1 119.5 442.4 118 436.9 116 431.2 114.9 424.9 114.5 423.8 114.2 423.3 114ZM477.2 120.5 482.3 120.5 482.2 120.7ZM453.3 125.3 454.8 125.2 456.2 125.9 456.8 125.3 457.1 125.5 457.2 125.9 457.9 126.5 457.2 127 457.8 128.2 458.1 129.5 458.2 129.8 458.8 129.9 517.2 130.2 552.5 130.5 552.5 131 517.2 131.3 458.8 131.6 458.2 131.7 458.1 132 457.8 133.3 457.2 134.5 457.9 135 457.2 135.6 457.1 136 456.8 136.2 456.2 135.6 455.3 136.2 454.2 136.3 452.8 136 451.6 135 450.5 133 450.1 131 450.5 128.5 451.2 127 452.2 125.8ZM649.2 136.9 649.8 136.8 649.8 137.5 649.2 137.5 648.8 138 645.8 138 645.2 138.5 641.8 138.5 641.2 139 638.2 139 637.8 139.5 634.2 139.5 633.8 140 630.8 140 630.2 140.5 627.2 140.5 626.8 141 623.8 141 623.2 141.5 620.2 141.5 619.8 142 617.2 142 616.8 142.5 614.2 142.5 613.8 143 611.3 143 610.8 143.5 607.8 143.5 607.2 144 605.2 144 604.8 144.5 602.2 144.5 601.8 145 599.2 145 598.8 145.5 596.2 145.5 595.8 146 593.8 146 593.2 146.5 590.8 146.5 590.2 147 588.2 147 587.8 147.5 585.2 147.5 584.8 148 582.8 148 582.2 148.5 580.2 148.5 579.8 149 577.8 149 577.2 149.5 575.2 149.5 574.8 150 572.8 150 572.2 150.5 570.2 150.5 569.8 151 568.2 151 567.8 151.5 566.2 151.5 565.8 152 563.7 152 563.2 152.5 561.8 152.5 561.2 153 559.8 153 559.2 153.5 557.8 153.5 557.2 154 555.2 154 554.8 154.5 553.2 154.5 552.8 155 551.2 155 550.8 155.5 549.2 155.5 548.8 156 547.2 156 546.8 156.5 545.2 156.5 544.8 157 543.2 157 542.8 157.5 541.2 157.5 540.8 158 539.2 158 538.8 158.5 537.2 158.5 536.8 159 535.2 159 534.8 159.5 533.2 159.5 532.8 160 531.2 160 530.8 160.5 529.2 160.5 528.8 161 527.8 161 527.2 161.5 525.8 161.5 525.2 162 523.8 162 523.2 162.5 521.2 162.5 520.8 163 519.2 163 518.8 163.5 517.2 163.5 516.8 164 514.8 164 514.2 164.5 512.8 164.5 512.2 165 510.8 165 510.2 165.5 508.2 165.5 507.7 166 506.2 166 505.8 166.5 503.8 166.5 503.2 167 501.8 167 501.2 167.5 499.7 167.5 499.2 168 497.7 168 497.2 168.5 496.2 168.5 495.8 169 494.3 169 493.8 169.5 492.8 169.5 492.2 170 490.8 170 490.2 170.5 488.8 170.5 488.2 171 486.3 171 485.8 171.5 483.8 171.5 483.2 172 480.8 172 480.2 172.5 476.2 172.5 475.8 173 465.8 173 465.2 172.5 462.8 172.5 462.3 172 460.8 172 460.2 171.5 459.2 171.5 458.8 171 458.3 171 457.8 170.5 456.8 170.5 456.3 170 455.8 170 455.2 169.5 454.7 169.5 454.3 169 453.8 169 453.2 168.5 452.7 168.5 451.2 167 450.8 167 448.8 165 448.2 165.2 446.2 163.2 445.8 163.2 444.2 161.7 442.8 161.7 441.8 162.6 441.2 162.6 440.2 163.4 439.8 163.2 436.8 163.6 435.2 163.3 433.8 162.3 432.8 161 430.5 159.5 429.8 158.5 429.5 157.5 429.6 156.5 430.2 155.5 431.2 154.6 432.8 153.7 434.2 153.2 436.8 152.7 439.2 152.7 441.2 152.9 443.8 153.6 445.2 154.4 446.4 155.5 447.3 157 447.8 157.4 448 156 448.2 155.6 448.8 155.8 450.9 157.5 452.8 158.5 455.8 161.1 458.2 162.7 463.7 165.4 467.7 166.5 470.2 166.9 478.8 166.7 486.2 165.7 507.2 162 521.8 159.1 559.8 150.8 575.2 147.9 615.8 141.3 630.2 139.3ZM447.8 140.2 448.1 141.5 448 142.5 447.8 143.3 443.8 145.8 439.8 147.3 436.2 148.1 431.2 148.5 425.7 148 423.3 147.5 424.9 147 431.7 146.5 438.2 145.1 443.4 143ZM477.2 141 482.2 140.8 482.3 141Z" fill="#ff8800"/>
<path d="M465.8 88.5 475.8 88.5 476.2 89 480.2 89 480.8 89.5 483.2 89.5 483.8 90 485.8 90 486.2 90.5 488.2 90.5 488.8 91 490.2 91 490.8 91.5 492.3 91.5 492.8 92 493.7 92 494.2 92.5 495.8 92.5 496.2 93 497.2 93 497.8 93.5 499.2 93.5 499.8 94 501.2 94 501.7 94.5 503.2 94.5 503.8 95 505.8 95 506.3 95.5 507.7 95.5 508.2 96 510.2 96 510.7 96.5 512.2 96.5 512.8 97 514.2 97 514.8 97.5 516.8 97.5 517.2 98 518.7 98 519.2 98.5 520.8 98.5 521.2 99 523.2 99 523.8 99.5 525.2 99.5 525.8 100 527.2 100 527.8 100.5 528.8 100.5 529.2 101 530.8 101 531.2 101.5 532.8 101.5 533.2 102 534.8 102 535.2 102.5 536.8 102.5 537.2 103 538.8 103 539.2 103.5 540.8 103.5 541.2 104 542.8 104 543.2 104.5 544.8 104.5 545.3 105 546.7 105 547.2 105.5 548.8 105.5 549.2 106 550.8 106 551.2 106.5 552.8 106.5 553.2 107 554.8 107 555.2 107.5 557.2 107.5 557.8 108 559.2 108 559.8 108.5 561.2 108.5 561.8 109 563.2 109 563.8 109.5 565.8 109.5 566.2 110 567.8 110 568.2 110.5 569.8 110.5 570.2 111 572.2 111 572.8 111.5 574.8 111.5 575.2 112 577.2 112 577.7 112.5 579.8 112.5 580.2 113 582.2 113 582.8 113.5 584.8 113.5 585.2 114 587.8 114 588.2 114.5 590.2 114.5 590.8 115 593.2 115 593.8 115.5 595.8 115.5 596.2 116 598.8 116 599.2 116.5 601.8 116.5 602.2 117 604.8 117 605.2 117.5 607.2 117.5 607.8 118 610.8 118 611.2 118.5 613.8 118.5 614.2 119 616.8 119 617.2 119.5 619.8 119.5 620.2 120 623.2 120 623.7 120.5 626.8 120.5 627.2 121 630.2 121 630.8 121.5 633.8 121.5 634.2 122 637.8 122 638.2 122.5 641.2 122.5 641.8 123 645.2 123 645.8 123.5 648.8 123.5 649.2 124 649.8 124 649.8 124.6 616.2 120.2 575.8 113.5 561.8 110.9 521.8 102.1 500.2 97.8 485.2 95.2 477.8 94.3 470.2 94.1 464.2 95.4 459.8 97.3 456.2 99.4 452.4 102.5 450.8 103.4 449.5 104.5 448.2 105.3 447.8 103.4 446.5 104.5 444.8 106.5 442.8 107.6 439.2 108.3 437.2 108.3 435.2 108.1 433.2 107.5 431.5 106.5 430.5 105.5 430 104 430.3 103 430.8 102.4 431.8 101.5 433.2 100.6 434.8 99 435.8 98.5 436.8 98.3 439.8 98.7 440.8 98.5 441.2 98.9 441.7 98.9 442.8 99.8 444.2 99.8 445.8 98.3 446.2 98.3 448.2 96.4 448.8 96.5 450.8 94.5 451.2 94.5 452.8 93 453.2 93 453.8 92.5 454.2 92.5 454.8 92 455.3 92 455.8 91.5 456.2 91.5 456.8 91 457.8 91 458.2 90.5 458.8 90.5 459.2 90 460.2 90 460.8 89.5 462.2 89.5 462.8 89 465.3 89ZM429.8 113.9 431.8 113.6 436.2 113.9 439.1 114.5 442.2 115.5 444.8 116.7 447.8 118.7 447.9 119.5 447.8 120.8 443.8 118.2 439.8 116.4 436.2 115.3 429.4 114ZM453.8 125.4 455.1 125.5 456.2 126.2 456.6 125.5 456.8 125.4 456.9 125.5 457.3 126.5 457 127 458.2 130 538.4 130.5 538.4 131 458.2 131.5 457 134.5 457.3 135 456.9 136 456.8 136.1 456.6 136 456.2 135.3 455.2 135.9 454.2 136.1 452.8 135.7 451.8 134.9 450.7 133 450.4 131 450.7 128.5 451.2 127.3 452.2 126.1ZM649.8 136.9 649.8 137.5 649.2 137.5 648.8 138 645.8 138 645.2 138.5 641.8 138.5 641.2 139 638.2 139 637.8 139.5 634.2 139.5 633.8 140 630.8 140 630.2 140.5 627.2 140.5 626.8 141 623.7 141 623.2 141.5 620.2 141.5 619.8 142 617.2 142 616.8 142.5 614.2 142.5 613.8 143 611.2 143 610.8 143.5 607.8 143.5 607.2 144 605.2 144 604.8 144.5 602.2 144.5 601.8 145 599.2 145 598.8 145.5 596.2 145.5 595.8 146 593.8 146 593.2 146.5 590.8 146.5 590.2 147 588.2 147 587.8 147.5 585.2 147.5 584.8 148 582.8 148 582.2 148.5 580.2 148.5 579.8 149 577.7 149 577.2 149.5 575.2 149.5 574.8 150 572.8 150 572.2 150.5 570.2 150.5 569.8 151 568.2 151 567.8 151.5 566.2 151.5 565.8 152 563.8 152 563.2 152.5 561.8 152.5 561.2 153 559.8 153 559.2 153.5 557.8 153.5 557.2 154 555.2 154 554.8 154.5 553.2 154.5 552.8 155 551.2 155 550.8 155.5 549.2 155.5 548.8 156 547.2 156 546.7 156.5 545.3 156.5 544.8 157 543.2 157 542.8 157.5 541.2 157.5 540.8 158 539.2 158 538.8 158.5 537.2 158.5 536.8 159 535.2 159 534.8 159.5 533.2 159.5 532.8 160 531.2 160 530.8 160.5 529.2 160.5 528.8 161 527.8 161 527.2 161.5 525.8 161.5 525.2 162 523.8 162 523.2 162.5 521.2 162.5 520.8 163 519.2 163 518.7 163.5 517.2 163.5 516.8 164 514.8 164 514.2 164.5 512.8 164.5 512.2 165 510.7 165 510.2 165.5 508.2 165.5 507.7 166 506.3 166 505.8 166.5 503.8 166.5 503.2 167 501.7 167 501.2 167.5 499.8 167.5 499.2 168 497.8 168 497.2 168.5 496.2 168.5 495.8 169 494.2 169 493.7 169.5 492.8 169.5 492.3 170 490.8 170 490.2 170.5 488.8 170.5 488.2 171 486.2 171 485.8 171.5 483.8 171.5 483.2 172 480.8 172 480.2 172.5 476.2 172.5 475.8 173 465.8 173 465.3 172.5 462.8 172.5 462.2 172 460.8 172 460.2 171.5 459.2 171.5 458.8 171 458.2 171 457.8 170.5 456.8 170.5 456.2 170 455.8 170 455.3 169.5 454.8 169.5 454.2 169 453.8 169 453.2 168.5 452.8 168.5 451.2 167 450.8 167 448.8 165 448.2 165.1 446.2 163.2 445.8 163.2 444.2 161.7 442.8 161.7 441.7 162.6 441.2 162.6 440.8 163 439.8 162.8 436.8 163.2 435.2 162.8 434.1 162 433.2 160.9 431.1 159.5 430.3 158.5 430 157.5 430.2 156.5 430.9 155.5 432.2 154.5 433.8 153.8 437.2 153.2 440.8 153.4 442.8 153.9 444.8 154.9 445.4 155.5 446.5 157 447.8 158.1 448.2 156.2 448.8 156.5 450.8 158.1 452.8 159.2 456.2 162.1 459.8 164.2 463.8 166 467.7 167 470.2 167.4 478.2 167.2 486.2 166.2 507.2 162.3 521.8 159.4 561.8 150.6 575.8 148 616.2 141.3ZM447.8 140.7 447.9 142 447.8 142.8 444.8 144.8 442.2 146 439.1 147 436.2 147.6 431.8 147.9 429.4 147.5 436.2 146.2 439.8 145.1 443.8 143.3Z" fill="#ff6500"/>
<path d="M465.8 88.5 475.8 88.5 476.3 89 480.2 89 480.8 89.5 483.3 89.5 483.8 90 485.8 90 486.2 90.5 488.3 90.5 488.8 91 490.2 91 490.8 91.5 492.3 91.5 492.8 92 493.8 92 494.2 92.5 495.8 92.5 496.2 93 497.2 93 497.8 93.5 499.2 93.5 499.8 94 501.2 94 501.8 94.5 503.2 94.5 503.8 95 505.7 95 506.2 95.5 507.7 95.5 508.2 96 510.2 96 510.8 96.5 512.2 96.5 512.8 97 514.2 97 514.8 97.5 516.8 97.5 517.2 98 518.8 98 519.2 98.5 520.8 98.5 521.2 99 523.2 99 523.8 99.5 525.2 99.5 525.8 100 527.2 100 527.8 100.5 528.8 100.5 529.2 101 530.8 101 531.2 101.5 532.8 101.5 533.2 102 534.8 102 535.2 102.5 536.8 102.5 537.2 103 538.8 103 539.2 103.5 540.8 103.5 541.2 104 542.8 104 543.2 104.5 544.8 104.5 545.2 105 546.8 105 547.2 105.5 548.8 105.5 549.2 106 550.8 106 551.3 106.5 552.8 106.5 553.2 107 554.8 107 555.2 107.5 557.2 107.5 557.8 108 559.3 108 559.8 108.5 561.2 108.5 561.8 109 563.2 109 563.8 109.5 565.8 109.5 566.2 110 567.8 110 568.2 110.5 569.8 110.5 570.2 111 572.2 111 572.8 111.5 574.8 111.5 575.2 112 577.2 112 577.8 112.5 579.8 112.5 580.2 113 582.2 113 582.8 113.5 584.8 113.5 585.2 114 587.8 114 588.2 114.5 590.2 114.5 590.8 115 593.2 115 593.8 115.5 595.8 115.5 596.2 116 598.8 116 599.2 116.5 601.8 116.5 602.2 117 604.8 117 605.2 117.5 607.2 117.5 607.8 118 610.8 118 611.2 118.5 613.8 118.5 614.2 119 616.8 119 617.2 119.5 619.8 119.5 620.2 120 623.2 120 623.8 120.5 626.8 120.5 627.2 121 630.2 121 630.8 121.5 633.8 121.5 634.2 122 637.8 122 638.2 122.5 641.2 122.5 641.7 123 645.2 123 645.8 123.5 648.8 123.5 649.2 124 649.7 124 649.8 124.5 631.2 122.1 616.8 120.1 575.2 113.3 560.2 110.4 522.4 102 500.2 97.5 485.2 94.8 477.2 93.8 470.2 93.6 467.8 94 463.8 95 459.8 96.7 456.2 98.7 452.2 101.9 450.2 103 449.2 104 448.2 104.7 447.8 102.8 445.7 104.5 444.2 106.3 442.2 107.3 440.8 107.7 438.8 108 435.2 107.7 433.2 107.1 431.8 106.2 430.8 105 430.5 104 430.8 103 431.2 102.4 432.2 101.6 433.4 101 435.2 99.2 436.8 98.8 439.8 99.2 441.8 98.9 442.8 99.9 444.2 99.9 445.7 98.4 446.2 98.3 448.2 96.4 448.8 96.5 450.8 94.5 451.2 94.5 452.8 93 453.2 93 453.8 92.5 454.3 92.5 454.8 92 455.2 92 455.7 91.5 456.2 91.5 456.8 91 457.7 91 458.3 90.5 458.7 90.5 459.3 90 460.2 90 460.8 89.5 462.2 89.5 462.8 89 465.2 89ZM439.2 115.5 440.2 115.5 442 116 445.2 117.5 447.8 119.2 447.8 120.3 443.2 117.3ZM456.8 125.5 457 126.5 456.8 127 457.3 128 457.9 130 458.2 130.2 524.2 130.5 524.2 131 458.2 131.3 457.9 131.5 457.3 133.5 456.8 134.5 457 135 456.8 136 456.2 135.1 455.2 135.7 453.8 135.9 452.2 135.2 451.1 133.5 450.5 131.5 450.7 128.9 451.6 127 452.8 126 453.8 125.6 454.8 125.6 456.2 126.4ZM646.2 137.5 649.8 137 649.8 137.5 649.2 137.5 648.8 138 645.8 138 645.2 138.5 641.7 138.5 641.2 139 638.2 139 637.8 139.5 634.2 139.5 633.8 140 630.8 140 630.2 140.5 627.2 140.5 626.8 141 623.8 141 623.2 141.5 620.2 141.5 619.8 142 617.2 142 616.8 142.5 614.2 142.5 613.8 143 611.2 143 610.8 143.5 607.8 143.5 607.2 144 605.2 144 604.8 144.5 602.2 144.5 601.8 145 599.2 145 598.8 145.5 596.2 145.5 595.8 146 593.8 146 593.2 146.5 590.8 146.5 590.2 147 588.2 147 587.8 147.5 585.2 147.5 584.8 148 582.8 148 582.2 148.5 580.2 148.5 579.8 149 577.8 149 577.2 149.5 575.2 149.5 574.8 150 572.8 150 572.2 150.5 570.2 150.5 569.8 151 568.2 151 567.8 151.5 566.2 151.5 565.8 152 563.8 152 563.2 152.5 561.8 152.5 561.2 153 559.8 153 559.3 153.5 557.8 153.5 557.2 154 555.2 154 554.8 154.5 553.2 154.5 552.8 155 551.3 155 550.8 155.5 549.2 155.5 548.8 156 547.2 156 546.8 156.5 545.2 156.5 544.8 157 543.2 157 542.8 157.5 541.2 157.5 540.8 158 539.2 158 538.8 158.5 537.2 158.5 536.8 159 535.2 159 534.8 159.5 533.2 159.5 532.8 160 531.2 160 530.8 160.5 529.2 160.5 528.8 161 527.8 161 527.2 161.5 525.8 161.5 525.2 162 523.8 162 523.2 162.5 521.2 162.5 520.8 163 519.2 163 518.8 163.5 517.2 163.5 516.8 164 514.8 164 514.2 164.5 512.8 164.5 512.2 165 510.8 165 510.2 165.5 508.2 165.5 507.7 166 506.2 166 505.7 166.5 503.8 166.5 503.2 167 501.8 167 501.2 167.5 499.8 167.5 499.2 168 497.8 168 497.2 168.5 496.2 168.5 495.8 169 494.2 169 493.8 169.5 492.8 169.5 492.3 170 490.8 170 490.2 170.5 488.8 170.5 488.3 171 486.2 171 485.8 171.5 483.8 171.5 483.3 172 480.8 172 480.2 172.5 476.3 172.5 475.8 173 465.8 173 465.2 172.5 462.8 172.5 462.2 172 460.8 172 460.2 171.5 459.3 171.5 458.7 171 458.3 171 457.7 170.5 456.8 170.5 456.2 170 455.7 170 455.2 169.5 454.8 169.5 454.3 169 453.8 169 453.2 168.5 452.8 168.5 451.2 167 450.8 167 448.8 165 448.2 165.1 446.2 163.2 445.7 163.1 444.2 161.6 442.8 161.6 441.8 162.6 439.8 162.3 436.8 162.7 435.8 162.5 434.8 161.9 433.4 160.5 431.7 159.5 430.8 158.5 430.5 157.5 430.8 156.5 431.5 155.5 433.8 154.2 435.2 153.8 437.2 153.5 440.8 153.8 442.2 154.2 443.9 155 444.8 155.7 445.7 157 447.8 158.7 448.2 156.8 449.2 157.5 450.2 158.5 452.2 159.6 455.8 162.5 459.2 164.5 463.2 166.3 467.2 167.4 470.2 167.9 478.2 167.6 486.8 166.5 507.7 162.5 522.8 159.4 557.8 151.7 572.8 148.6 613.2 141.9 627.2 139.9ZM447.8 141.2 447.8 142.3 444.3 144.5 440.4 146 439.2 146 440.2 145.7 440.3 145.5 443.2 144.2Z" fill="#ff4200"/>
<path d="M465.8 88.5 475.8 88.5 476.2 89 480.3 89 480.8 89.5 483.2 89.5 483.8 90 485.8 90 486.2 90.5 488.2 90.5 488.8 91 490.3 91 490.7 91.5 492.3 91.5 492.8 92 493.8 92 494.2 92.5 495.8 92.5 496.2 93 497.2 93 497.7 93.5 499.2 93.5 499.8 94 501.2 94 501.8 94.5 503.3 94.5 503.7 95 505.7 95 506.2 95.5 507.7 95.5 508.2 96 510.2 96 510.8 96.5 512.2 96.5 512.8 97 514.2 97 514.7 97.5 516.8 97.5 517.2 98 518.8 98 519.2 98.5 520.8 98.5 521.2 99 523.2 99 523.8 99.5 525.3 99.5 525.8 100 527.2 100 527.8 100.5 528.8 100.5 529.2 101 530.8 101 531.2 101.5 532.8 101.5 533.2 102 534.8 102 535.2 102.5 536.8 102.5 537.2 103 538.8 103 539.2 103.5 540.8 103.5 541.2 104 542.8 104 543.2 104.5 544.8 104.5 545.2 105 546.8 105 547.2 105.5 548.8 105.5 549.2 106 550.8 106 551.2 106.5 552.7 106.5 553.2 107 554.8 107 555.2 107.5 557.2 107.5 557.8 108 559.2 108 559.8 108.5 561.2 108.5 561.8 109 563.2 109 563.8 109.5 565.8 109.5 566.2 110 567.8 110 568.2 110.5 569.8 110.5 570.2 111 572.2 111 572.8 111.5 574.8 111.5 575.2 112 577.3 112 577.8 112.5 579.8 112.5 580.2 113 582.2 113 582.8 113.5 584.8 113.5 585.2 114 587.8 114 588.2 114.5 590.2 114.5 590.8 115 593.2 115 593.8 115.5 595.8 115.5 596.2 116 598.7 116 599.2 116.5 601.8 116.5 602.2 117 604.8 117 605.2 117.5 607.2 117.5 607.8 118 610.8 118 611.2 118.5 613.8 118.5 614.2 119 616.8 119 617.2 119.5 619.8 119.5 620.2 120 623.2 120 623.8 120.5 626.8 120.5 627.2 121 630.2 121 630.7 121.5 633.8 121.5 634.2 122 637.8 122 638.2 122.5 641.2 122.5 641.8 123 645.2 123 645.8 123.5 648.7 123.5 649.2 124 649.8 124 649.8 124.4 629.2 121.8 614.8 119.7 575.8 113.3 560.2 110.2 521.3 101.5 506.7 98.5 486.1 94.5 477.8 93.4 470.2 93.2 468 93.5 463.8 94.5 459.2 96.4 455.8 98.4 451.9 101.5 450 102.5 448.2 104 447.8 102.3 445.2 104.5 443.8 106 442.8 106.7 441.2 107.3 439.2 107.6 437.2 107.7 435.2 107.4 433.2 106.7 432.1 106 431.2 105 431 104 431.3 103 431.7 102.5 432.8 101.6 433.8 101.2 435.2 99.6 436.8 99.1 439.8 99.5 441.8 99 442.8 99.9 444.2 99.9 445.8 98.4 446.3 98.4 448.2 96.4 448.7 96.5 450.8 94.5 451.2 94.5 452.8 93 453.2 93 453.8 92.5 454.3 92.5 454.8 92 455.2 92 455.8 91.5 456.3 91.5 456.8 91 457.8 91 458.3 90.5 458.8 90.5 459.2 90 460.2 90 460.8 89.5 462.2 89.5 462.8 89 465.3 89ZM453.2 126 454.8 125.9 456 126.5 457.1 128 457.7 130 458.2 130.3 500.2 130.5 500.2 131 458.2 131.2 457.7 131.5 457.2 133.2 456.2 134.8 455.2 135.5 453.8 135.7 452.8 135.3 451.8 134.3 451.1 133 450.7 131 450.8 129.5 451.3 128 452.2 126.6ZM646.8 137.5 649.8 137.1 649.8 137.5 649.2 137.5 648.7 138 645.8 138 645.2 138.5 641.8 138.5 641.2 139 638.2 139 637.8 139.5 634.2 139.5 633.8 140 630.7 140 630.2 140.5 627.2 140.5 626.8 141 623.8 141 623.2 141.5 620.2 141.5 619.8 142 617.2 142 616.8 142.5 614.2 142.5 613.8 143 611.2 143 610.8 143.5 607.8 143.5 607.2 144 605.2 144 604.8 144.5 602.2 144.5 601.8 145 599.2 145 598.7 145.5 596.2 145.5 595.8 146 593.8 146 593.2 146.5 590.8 146.5 590.2 147 588.2 147 587.8 147.5 585.2 147.5 584.8 148 582.8 148 582.2 148.5 580.2 148.5 579.8 149 577.8 149 577.3 149.5 575.2 149.5 574.8 150 572.8 150 572.2 150.5 570.2 150.5 569.8 151 568.2 151 567.8 151.5 566.2 151.5 565.8 152 563.8 152 563.2 152.5 561.8 152.5 561.2 153 559.8 153 559.2 153.5 557.8 153.5 557.2 154 555.2 154 554.8 154.5 553.2 154.5 552.7 155 551.2 155 550.8 155.5 549.2 155.5 548.8 156 547.2 156 546.8 156.5 545.2 156.5 544.8 157 543.2 157 542.8 157.5 541.2 157.5 540.8 158 539.2 158 538.8 158.5 537.2 158.5 536.8 159 535.2 159 534.8 159.5 533.2 159.5 532.8 160 531.2 160 530.8 160.5 529.2 160.5 528.8 161 527.8 161 527.2 161.5 525.8 161.5 525.3 162 523.8 162 523.2 162.5 521.2 162.5 520.8 163 519.2 163 518.8 163.5 517.2 163.5 516.8 164 514.7 164 514.2 164.5 512.8 164.5 512.2 165 510.8 165 510.2 165.5 508.2 165.5 507.7 166 506.2 166 505.7 166.5 503.7 166.5 503.3 167 501.8 167 501.2 167.5 499.8 167.5 499.2 168 497.7 168 497.2 168.5 496.2 168.5 495.8 169 494.2 169 493.8 169.5 492.8 169.5 492.3 170 490.7 170 490.3 170.5 488.8 170.5 488.2 171 486.2 171 485.8 171.5 483.8 171.5 483.2 172 480.8 172 480.3 172.5 476.2 172.5 475.8 173 465.8 173 465.3 172.5 462.8 172.5 462.2 172 460.8 172 460.2 171.5 459.2 171.5 458.8 171 458.3 171 457.8 170.5 456.8 170.5 456.3 170 455.8 170 455.2 169.5 454.8 169.5 454.3 169 453.8 169 453.2 168.5 452.8 168.5 451.2 167 450.8 167 448.7 165 448.2 165.1 446.3 163.1 445.8 163.1 444.2 161.6 442.8 161.6 441.8 162.5 439.8 162 437.2 162.4 435.8 162.1 434.8 161.5 433.8 160.3 432.8 159.9 431.8 159.1 431.3 158.5 431 157.5 431.2 156.5 431.8 155.8 432.8 155 434.2 154.4 437.2 153.8 440.8 154.1 442.2 154.6 443.8 155.4 445.2 157 447.8 159.2 448.2 157.5 450 159 451.9 160 455.8 163.1 459.1 165 462.8 166.7 466.2 167.6 470.2 168.3 478.2 168.1 482.9 167.5 488.2 166.6 516.2 161.1 553.2 152.8 572.8 148.8 614.8 141.8Z" fill="#ff1f00"/>
<path d="M465.8 88.5 475.8 88.5 476.2 89 480.2 89 480.8 89.5 483.2 89.5 483.8 90 485.8 90 486.2 90.5 488.2 90.5 488.8 91 490.2 91 490.8 91.5 492.3 91.5 492.8 92 493.8 92 494.2 92.5 495.8 92.5 496.2 93 497.3 93 497.8 93.5 499.3 93.5 499.8 94 501.2 94 501.8 94.5 503.3 94.5 503.8 95 505.8 95 506.2 95.5 507.7 95.5 508.2 96 510.3 96 510.8 96.5 512.2 96.5 512.8 97 514.2 97 514.8 97.5 516.8 97.5 517.2 98 518.8 98 519.2 98.5 520.8 98.5 521.2 99 523.2 99 523.8 99.5 525.2 99.5 525.8 100 527.2 100 527.8 100.5 528.8 100.5 529.2 101 530.8 101 531.2 101.5 532.8 101.5 533.2 102 534.8 102 535.2 102.5 536.8 102.5 537.2 103 538.8 103 539.2 103.5 540.8 103.5 541.2 104 542.8 104 543.2 104.5 544.7 104.5 545.2 105 546.8 105 547.2 105.5 548.8 105.5 549.2 106 550.8 106 551.2 106.5 552.8 106.5 553.2 107 554.8 107 555.3 107.5 557.2 107.5 557.8 108 559.2 108 559.8 108.5 561.2 108.5 561.8 109 563.2 109 563.8 109.5 565.8 109.5 566.2 110 567.8 110 568.2 110.5 569.8 110.5 570.2 111 572.2 111 572.8 111.5 574.8 111.5 575.2 112 577.2 112 577.8 112.5 579.8 112.5 580.2 113 582.2 113 582.8 113.5 584.8 113.5 585.2 114 587.8 114 588.2 114.5 590.2 114.5 590.8 115 593.2 115 593.8 115.5 595.8 115.5 596.2 116 598.8 116 599.3 116.5 601.8 116.5 602.2 117 604.8 117 605.2 117.5 607.2 117.5 607.8 118 610.8 118 611.2 118.5 613.8 118.5 614.2 119 616.8 119 617.2 119.5 619.8 119.5 620.2 120 623.2 120 623.8 120.5 626.8 120.5 627.2 121 630.2 121 630.8 121.5 633.8 121.5 634.2 122 637.8 122 638.2 122.5 641.2 122.5 641.8 123 645.2 123 645.8 123.5 648.8 123.5 649.2 124 649.8 124 649.8 124.3 632.8 122.2 615.2 119.7 575.8 113.1 560.8 110.1 522.2 101.5 507.8 98.4 486.2 94.2 477.2 93 470.2 92.8 467.2 93.2 463.2 94.2 459.2 95.9 455.8 97.8 454 99 451.7 101 449.7 102 448.2 103.4 447.8 101.9 443.2 105.9 442.2 106.5 440.8 107.1 439.2 107.3 437.2 107.4 435.8 107.2 434.2 106.8 432.7 106 431.7 105 431.4 104 431.7 103 432.1 102.5 434.2 101.1 435.2 99.9 436.8 99.4 439.8 99.8 441 99.5 441.8 99 442.8 99.9 444.2 99.9 445.8 98.4 446.2 98.4 448.2 96.4 448.8 96.5 450.8 94.5 451.2 94.5 452.8 93 453.2 93 453.8 92.5 454.2 92.5 454.8 92 455.2 92 455.8 91.5 456.2 91.5 456.8 91 457.8 91 458.2 90.5 458.8 90.5 459.2 90 460.2 90 460.8 89.5 462.3 89.5 462.8 89 465.2 89ZM453.2 126.3 454.8 126.1 456.2 127 457.1 128.5 457.5 130 457.8 130.4 466.6 130.5 466.6 131 457.8 131.1 457.5 131.5 457.1 133 456.2 134.5 454.8 135.4 453.2 135.2 452.2 134.6 451.8 133.9 451.1 132.5 450.9 131 451 129.5 451.5 128 452.2 126.9ZM647.2 137.5 649.8 137.2 649.8 137.5 649.2 137.5 648.8 138 645.8 138 645.2 138.5 641.8 138.5 641.2 139 638.2 139 637.8 139.5 634.2 139.5 633.8 140 630.8 140 630.2 140.5 627.2 140.5 626.8 141 623.8 141 623.2 141.5 620.2 141.5 619.8 142 617.2 142 616.8 142.5 614.2 142.5 613.8 143 611.2 143 610.8 143.5 607.8 143.5 607.2 144 605.2 144 604.8 144.5 602.2 144.5 601.8 145 599.3 145 598.8 145.5 596.2 145.5 595.8 146 593.8 146 593.2 146.5 590.8 146.5 590.2 147 588.2 147 587.8 147.5 585.2 147.5 584.8 148 582.8 148 582.2 148.5 580.2 148.5 579.8 149 577.8 149 577.2 149.5 575.2 149.5 574.8 150 572.8 150 572.2 150.5 570.2 150.5 569.8 151 568.2 151 567.8 151.5 566.2 151.5 565.8 152 563.8 152 563.2 152.5 561.8 152.5 561.2 153 559.8 153 559.2 153.5 557.8 153.5 557.2 154 555.3 154 554.8 154.5 553.2 154.5 552.8 155 551.2 155 550.8 155.5 549.2 155.5 548.8 156 547.2 156 546.8 156.5 545.2 156.5 544.7 157 543.2 157 542.8 157.5 541.2 157.5 540.8 158 539.2 158 538.8 158.5 537.2 158.5 536.8 159 535.2 159 534.8 159.5 533.2 159.5 532.8 160 531.2 160 530.8 160.5 529.2 160.5 528.8 161 527.8 161 527.2 161.5 525.8 161.5 525.2 162 523.8 162 523.2 162.5 521.2 162.5 520.8 163 519.2 163 518.8 163.5 517.2 163.5 516.8 164 514.8 164 514.2 164.5 512.8 164.5 512.2 165 510.8 165 510.3 165.5 508.2 165.5 507.7 166 506.2 166 505.8 166.5 503.8 166.5 503.3 167 501.8 167 501.2 167.5 499.8 167.5 499.3 168 497.8 168 497.3 168.5 496.2 168.5 495.8 169 494.2 169 493.8 169.5 492.8 169.5 492.3 170 490.8 170 490.2 170.5 488.8 170.5 488.2 171 486.2 171 485.8 171.5 483.8 171.5 483.2 172 480.8 172 480.2 172.5 476.2 172.5 475.8 173 465.8 173 465.2 172.5 462.8 172.5 462.3 172 460.8 172 460.2 171.5 459.2 171.5 458.8 171 458.2 171 457.8 170.5 456.8 170.5 456.2 170 455.8 170 455.2 169.5 454.8 169.5 454.2 169 453.8 169 453.2 168.5 452.8 168.5 451.2 167 450.8 167 448.8 165 448.2 165.1 446.2 163.1 445.8 163.1 444.2 161.6 442.8 161.6 441.8 162.5 441 162 439.8 161.7 437.2 162.1 436.2 162 435.2 161.6 434.2 160.4 432.1 159 431.7 158.5 431.4 157.5 431.7 156.5 432.1 156 433.2 155.1 434.2 154.7 437.2 154.1 439.2 154.2 440.8 154.4 443.2 155.5 447.8 159.6 448.2 158.1 449.7 159.5 451.7 160.5 455.4 163.5 458.8 165.4 462.8 167.2 466.8 168.2 470.2 168.7 477.8 168.5 487.2 167.2 514.8 161.6 553.8 152.9 573.8 148.8 614.8 141.9Z" fill="#fb0000"/>
<path d="M465.8 88.5 475.8 88.5 476.2 89 480.2 89 480.8 89.5 483.2 89.5 483.8 90 485.8 90 486.3 90.5 488.2 90.5 488.7 91 490.2 91 490.8 91.5 492.2 91.5 492.8 92 493.8 92 494.2 92.5 495.8 92.5 496.2 93 497.2 93 497.8 93.5 499.2 93.5 499.8 94 501.2 94 501.7 94.5 503.3 94.5 503.8 95 505.8 95 506.2 95.5 507.7 95.5 508.2 96 510.2 96 510.8 96.5 512.2 96.5 512.8 97 514.2 97 514.8 97.5 516.8 97.5 517.2 98 518.8 98 519.2 98.5 520.8 98.5 521.2 99 523.2 99 523.8 99.5 525.2 99.5 525.7 100 527.2 100 527.8 100.5 528.8 100.5 529.2 101 530.8 101 531.2 101.5 532.8 101.5 533.2 102 534.8 102 535.2 102.5 536.8 102.5 537.2 103 538.7 103 539.2 103.5 540.8 103.5 541.2 104 542.8 104 543.2 104.5 544.8 104.5 545.2 105 546.8 105 547.2 105.5 548.7 105.5 549.2 106 550.8 106 551.2 106.5 552.8 106.5 553.3 107 554.8 107 555.2 107.5 557.2 107.5 557.8 108 559.2 108 559.8 108.5 561.2 108.5 561.7 109 563.2 109 563.8 109.5 565.8 109.5 566.2 110 567.8 110 568.2 110.5 569.8 110.5 570.2 111 572.2 111 572.7 111.5 574.8 111.5 575.2 112 577.2 112 577.8 112.5 579.8 112.5 580.2 113 582.2 113 582.8 113.5 584.8 113.5 585.2 114 587.8 114 588.2 114.5 590.2 114.5 590.8 115 593.3 115 593.8 115.5 595.8 115.5 596.2 116 598.8 116 599.2 116.5 601.8 116.5 602.2 117 604.8 117 605.2 117.5 607.2 117.5 607.8 118 610.8 118 611.2 118.5 613.8 118.5 614.2 119 616.8 119 617.2 119.5 619.7 119.5 620.2 120 623.2 120 623.8 120.5 626.8 120.5 627.2 121 630.2 121 630.8 121.5 633.8 121.5 634.2 122 637.8 122 638.3 122.5 641.2 122.5 641.8 123 645.2 123 645.8 123.5 648.8 123.5 649.2 124 649.8 124 649.8 124.2 632.8 122.1 615.2 119.6 576.2 113.1 561.2 110.1 522.2 101.2 507.8 98.2 486.2 93.8 477.2 92.6 469.8 92.4 466.2 92.9 462.8 93.8 458.8 95.6 455.2 97.5 451.2 100.7 449.2 101.7 448.2 102.8 447.8 101.5 446.3 103 443.6 105 443.2 105.5 441.8 106.4 440.2 106.9 438.8 107.1 435.8 107 434.2 106.5 432.8 105.7 432.1 105 431.8 104 432.2 103 432.6 102.5 434.3 101.5 435 100.5 435.7 100 437.2 99.7 439.8 100.1 441.2 99.7 441.8 99.3 442.2 99.5 442.8 99.9 444.3 99.9 445.8 98.4 446.2 98.4 448.2 96.4 448.8 96.5 450.8 94.5 451.2 94.5 452.8 93 453.2 93 453.8 92.5 454.3 92.5 454.8 92 455.3 92 455.8 91.5 456.2 91.5 456.7 91 457.8 91 458.2 90.5 458.8 90.5 459.2 90 460.2 90 460.8 89.5 462.2 89.5 462.8 89 465.2 89ZM453.8 126.4 454.9 126.5 456.2 127.4 456.9 128.5 457.4 130.5 457.1 132.5 456.3 134 455.2 134.9 454.2 135.1 453.2 134.9 452.1 134 451.3 132.5 451.1 131 451.2 129.5 451.8 128 452.8 126.9ZM648.2 137.4 649.8 137.3 649.8 137.5 649.2 137.5 648.8 138 645.8 138 645.2 138.5 641.8 138.5 641.2 139 638.3 139 637.8 139.5 634.2 139.5 633.8 140 630.8 140 630.2 140.5 627.2 140.5 626.8 141 623.8 141 623.2 141.5 620.2 141.5 619.7 142 617.2 142 616.8 142.5 614.2 142.5 613.8 143 611.2 143 610.8 143.5 607.8 143.5 607.2 144 605.2 144 604.8 144.5 602.2 144.5 601.8 145 599.2 145 598.8 145.5 596.2 145.5 595.8 146 593.8 146 593.3 146.5 590.8 146.5 590.2 147 588.2 147 587.8 147.5 585.2 147.5 584.8 148 582.8 148 582.2 148.5 580.2 148.5 579.8 149 577.8 149 577.2 149.5 575.2 149.5 574.8 150 572.7 150 572.2 150.5 570.2 150.5 569.8 151 568.2 151 567.8 151.5 566.2 151.5 565.8 152 563.8 152 563.2 152.5 561.7 152.5 561.2 153 559.8 153 559.2 153.5 557.8 153.5 557.2 154 555.2 154 554.8 154.5 553.3 154.5 552.8 155 551.2 155 550.8 155.5 549.2 155.5 548.7 156 547.2 156 546.8 156.5 545.2 156.5 544.8 157 543.2 157 542.8 157.5 541.2 157.5 540.8 158 539.2 158 538.7 158.5 537.2 158.5 536.8 159 535.2 159 534.8 159.5 533.2 159.5 532.8 160 531.2 160 530.8 160.5 529.2 160.5 528.8 161 527.8 161 527.2 161.5 525.7 161.5 525.2 162 523.8 162 523.2 162.5 521.2 162.5 520.8 163 519.2 163 518.8 163.5 517.2 163.5 516.8 164 514.8 164 514.2 164.5 512.8 164.5 512.2 165 510.8 165 510.2 165.5 508.2 165.5 507.7 166 506.2 166 505.8 166.5 503.8 166.5 503.3 167 501.7 167 501.2 167.5 499.8 167.5 499.2 168 497.8 168 497.2 168.5 496.2 168.5 495.8 169 494.2 169 493.8 169.5 492.8 169.5 492.2 170 490.8 170 490.2 170.5 488.7 170.5 488.2 171 486.3 171 485.8 171.5 483.8 171.5 483.2 172 480.8 172 480.2 172.5 476.2 172.5 475.8 173 465.8 173 465.2 172.5 462.8 172.5 462.2 172 460.8 172 460.2 171.5 459.2 171.5 458.8 171 458.2 171 457.8 170.5 456.7 170.5 456.2 170 455.8 170 455.3 169.5 454.8 169.5 454.3 169 453.8 169 453.2 168.5 452.8 168.5 451.2 167 450.8 167 448.8 165 448.2 165.1 446.2 163.1 445.8 163.1 444.3 161.6 442.8 161.6 442.2 162 441.8 162.2 441.2 161.8 439.8 161.4 437.2 161.8 436.2 161.7 435.3 161.2 434.3 160 432.6 159 432.2 158.5 431.8 157.5 432.1 156.5 432.6 156 433.8 155.2 434.8 154.8 437.2 154.4 440.2 154.6 441.8 155.1 442.8 155.6 443.6 156.5 446.3 158.5 447.8 160 448.2 158.7 449.2 159.8 451.2 160.8 455.2 164 458.8 165.9 462.2 167.5 464.2 168.1 469.8 169.1 477.8 168.9 487.2 167.5 515.8 161.7 554.2 153 573.8 148.9 612.2 142.4 629.2 139.9Z" fill="#d70000"/>
<path d="M465.8 88.5 475.7 88.5 476.2 89 480.2 89 480.8 89.5 483.2 89.5 483.8 90 485.8 90 486.2 90.5 488.2 90.5 488.8 91 490.2 91 490.8 91.5 492.2 91.5 492.8 92 493.7 92 494.2 92.5 495.8 92.5 496.2 93 497.2 93 497.7 93.5 499.2 93.5 499.7 94 501.2 94 501.8 94.5 503.3 94.5 503.8 95 505.8 95 506.2 95.5 507.7 95.5 508.2 96 510.2 96 510.8 96.5 512.2 96.5 512.8 97 514.2 97 514.8 97.5 516.8 97.5 517.2 98 518.8 98 519.2 98.5 520.8 98.5 521.2 99 523.2 99 523.8 99.5 525.2 99.5 525.8 100 527.2 100 527.8 100.5 528.8 100.5 529.2 101 530.8 101 531.2 101.5 532.8 101.5 533.2 102 534.8 102 535.2 102.5 536.8 102.5 537.2 103 538.8 103 539.2 103.5 540.8 103.5 541.2 104 542.8 104 543.2 104.5 544.7 104.5 545.2 105 546.8 105 547.2 105.5 548.8 105.5 549.2 106 550.7 106 551.2 106.5 552.8 106.5 553.2 107 554.7 107 555.2 107.5 557.2 107.5 557.8 108 559.2 108 559.8 108.5 561.2 108.5 561.8 109 563.2 109 563.7 109.5 565.8 109.5 566.2 110 567.8 110 568.2 110.5 569.8 110.5 570.2 111 572.2 111 572.8 111.5 574.8 111.5 575.2 112 577.2 112 577.8 112.5 579.8 112.5 580.3 113 582.2 113 582.8 113.5 584.8 113.5 585.2 114 587.8 114 588.2 114.5 590.3 114.5 590.8 115 593.2 115 593.8 115.5 595.8 115.5 596.2 116 598.8 116 599.2 116.5 601.8 116.5 602.2 117 604.8 117 605.2 117.5 607.2 117.5 607.8 118 610.8 118 611.2 118.5 613.8 118.5 614.2 119 616.8 119 617.2 119.5 619.8 119.5 620.2 120 623.2 120 623.8 120.5 626.8 120.5 627.2 121 630.2 121 630.8 121.5 633.7 121.5 634.2 122 637.8 122 638.2 122.5 641.2 122.5 641.8 123 645.2 123 645.7 123.5 648.8 123.5 649.2 124 649.8 124.1 644.4 123.5 643.2 123.2 640.8 123 639.2 122.7 636.6 122.5 635.2 122.2 632.8 122 631.8 121.7 629.2 121.5 627.8 121.2 625.8 121.1 624.2 120.7 615.2 119.5 576.6 113 566.8 111.1 555.2 108.6 517.2 99.8 486.2 93.4 477.2 92.2 469.8 91.9 466.8 92.4 462.8 93.3 458.8 95 455.2 96.9 453.6 98 450.8 100.4 449.2 101.1 448.2 102.1 447.8 101.1 446.2 102.6 441.8 106.1 440.3 106.6 438.8 106.9 435.8 106.7 434.2 106.2 433.2 105.7 432.6 105 432.2 104 432.8 102.8 434.6 101.5 435.8 100.3 437.2 100 439.8 100.4 441.2 100 442.2 99.5 442.8 100 444.2 100 445.8 98.5 446.2 98.5 448.2 96.5 448.8 96.5 450.8 94.5 451.2 94.5 452.8 93 453.2 93 453.8 92.5 454.2 92.5 454.8 92 455.2 92 455.8 91.5 456.2 91.5 456.8 91 457.8 91 458.3 90.5 458.8 90.5 459.2 90 460.2 90 460.8 89.5 462.3 89.5 462.8 89 465.2 89ZM453.2 127 454.2 126.7 455.2 127 456.2 127.9 456.9 129.5 457 131 456.8 132.6 455.9 134 454.8 134.7 453.8 134.7 452.8 134.2 451.8 133 451.5 132 451.3 130.5 451.6 129 452.2 127.8ZM648.8 137.4 649.8 137.4 649.2 137.5 648.8 138 645.7 138 645.2 138.5 641.8 138.5 641.2 139 638.2 139 637.8 139.5 634.2 139.5 633.7 140 630.8 140 630.2 140.5 627.2 140.5 626.8 141 623.8 141 623.2 141.5 620.2 141.5 619.8 142 617.2 142 616.8 142.5 614.2 142.5 613.8 143 611.2 143 610.8 143.5 607.8 143.5 607.2 144 605.2 144 604.8 144.5 602.2 144.5 601.8 145 599.2 145 598.8 145.5 596.2 145.5 595.8 146 593.8 146 593.2 146.5 590.8 146.5 590.3 147 588.2 147 587.8 147.5 585.2 147.5 584.8 148 582.8 148 582.2 148.5 580.3 148.5 579.8 149 577.8 149 577.2 149.5 575.2 149.5 574.8 150 572.8 150 572.2 150.5 570.2 150.5 569.8 151 568.2 151 567.8 151.5 566.2 151.5 565.8 152 563.7 152 563.2 152.5 561.8 152.5 561.2 153 559.8 153 559.2 153.5 557.8 153.5 557.2 154 555.2 154 554.7 154.5 553.2 154.5 552.8 155 551.2 155 550.7 155.5 549.2 155.5 548.8 156 547.2 156 546.8 156.5 545.2 156.5 544.7 157 543.2 157 542.8 157.5 541.2 157.5 540.8 158 539.2 158 538.8 158.5 537.2 158.5 536.8 159 535.2 159 534.8 159.5 533.2 159.5 532.8 160 531.2 160 530.8 160.5 529.2 160.5 528.8 161 527.8 161 527.2 161.5 525.8 161.5 525.2 162 523.8 162 523.2 162.5 521.2 162.5 520.8 163 519.2 163 518.8 163.5 517.2 163.5 516.8 164 514.8 164 514.2 164.5 512.8 164.5 512.2 165 510.8 165 510.2 165.5 508.2 165.5 507.7 166 506.2 166 505.8 166.5 503.8 166.5 503.3 167 501.8 167 501.2 167.5 499.7 167.5 499.2 168 497.7 168 497.2 168.5 496.2 168.5 495.8 169 494.2 169 493.7 169.5 492.8 169.5 492.2 170 490.8 170 490.2 170.5 488.8 170.5 488.2 171 486.2 171 485.8 171.5 483.8 171.5 483.2 172 480.8 172 480.2 172.5 476.2 172.5 475.7 173 465.8 173 465.2 172.5 462.8 172.5 462.3 172 460.8 172 460.2 171.5 459.2 171.5 458.8 171 458.3 171 457.8 170.5 456.8 170.5 456.2 170 455.8 170 455.2 169.5 454.8 169.5 454.2 169 453.8 169 453.2 168.5 452.8 168.5 451.2 167 450.8 167 448.8 165 448.2 165 446.2 163 445.8 163 444.2 161.5 442.8 161.5 442.2 162 441.2 161.5 439.8 161.1 437.2 161.5 436.2 161.4 435.5 161 434.6 160 433 159 432.6 158.5 432.2 157.5 432.6 156.5 433 156 434.8 155.1 437.2 154.6 440.3 154.9 442.2 155.7 446.2 158.9 447.8 160.4 448.2 159.4 449.2 160.4 450.8 161.1 453.6 163.5 455.2 164.6 458.8 166.5 462.2 168 464.2 168.6 469.8 169.6 477.8 169.3 486.2 168.1 517.2 161.7 552.6 153.5 573.9 149 612.2 142.4 620.8 141.3 622.2 140.9 624.2 140.8 625.8 140.4 628.2 140.2 629.2 140 639.2 138.8 640.8 138.5 643.2 138.3 644.8 137.9 647.2 137.8Z" fill="#b40000"/>
<path d="M465.8 88.5 475.8 88.5 476.2 89 480.2 89 480.8 89.5 483.2 89.5 483.8 90 485.8 90 486.2 90.5 488.2 90.5 488.8 91 490.2 91 490.8 91.5 492.2 91.5 492.7 92 493.8 92 494.2 92.5 495.7 92.5 496.2 93 497.2 93 497.8 93.5 499.2 93.5 499.8 94 501.2 94 501.8 94.5 503.3 94.5 503.7 95 505.8 95 506.2 95.5 507.7 95.5 508.2 96 510.2 96 510.8 96.5 512.2 96.5 512.8 97 514.2 97 514.8 97.5 516.8 97.5 517.2 98 518.8 98 519.2 98.5 520.8 98.5 521.2 99 523.2 99 523.8 99.5 525.2 99.5 525.8 100 527.2 100 527.8 100.5 528.8 100.5 529.2 101 530.8 101 531.2 101.5 532.8 101.5 533.2 102 534.8 102 535.2 102.5 536.8 102.5 537.2 103 538.8 103 539.2 103.5 540.8 103.5 541.2 104 542.8 104 543.3 104.5 544.8 104.5 545.2 105 546.8 105 547.2 105.5 548.8 105.5 549.2 106 550.8 106 551.2 106.5 552.8 106.5 553.2 107 554.8 107 555.2 107.5 557.2 107.5 557.8 108 559.2 108 559.8 108.5 561.2 108.5 561.8 109 563.2 109 563.8 109.5 565.7 109.5 566.2 110 567.8 110 568.2 110.5 569.8 110.5 570.2 111 572.2 111 572.8 111.5 574.8 111.5 575.2 112 577.2 112 577.8 112.5 579.8 112.5 580.2 113 582.2 113 582.8 113.5 584.8 113.5 585.2 114 587.8 114 588.2 114.5 590.2 114.5 590.8 115 593.2 115 593.8 115.5 595.8 115.5 596.3 116 598.8 116 599.2 116.5 601.8 116.5 602.2 117 604.8 117 605.2 117.5 607.2 117.5 607.8 118 610.8 118 611.2 118.5 613.8 118.5 614.3 119 616.8 119 617.2 119.5 619.8 119.5 620.2 120 623.2 120 623.8 120.5 626.8 120.5 627.2 121 630.2 121 630.8 121.5 633.8 121.5 633.8 122 632.2 121.6 630.2 121.5 628.8 121.1 623 120.5 621.8 120.2 619.6 120 618.2 119.6 616.3 119.5 614.8 119.1 613.1 119 611.8 118.6 606.2 117.9 605.2 117.6 603.8 117.5 602.2 117.1 597.8 116.5 596.8 116.1 595 116 593.8 115.6 592.2 115.5 590.8 115.1 586.2 114.5 585.2 114.2 583.5 114 582.2 113.6 580.8 113.5 579.2 113.1 572.2 111.9 551.2 107.3 520.8 100.1 498.2 95.3 490.8 93.6 483.8 92.2 476.8 91.3 471.8 91.1 469.2 91.2 464.2 92 461.8 92.7 455.8 95.4 453.2 97 450.3 99.5 448.2 100.4 447.8 100.4 445.8 102.3 443.2 104.1 442.1 105.5 441.3 106 438.8 106.7 436.2 106.6 434.8 106.2 433.5 105.5 433 105 432.6 104 433 103 433.5 102.5 435.3 101.5 436.2 100.7 437.2 100.5 439.7 101 441.5 100.5 442.3 100 444.2 100 445.8 98.5 446.2 98.5 448.2 96.5 448.8 96.5 450.8 94.5 451.2 94.5 452.8 93 453.2 93 453.8 92.5 454.2 92.5 454.8 92 455.2 92 455.7 91.5 456.2 91.5 456.8 91 457.8 91 458.2 90.5 458.8 90.5 459.2 90 460.2 90 460.8 89.5 462.2 89.5 462.8 89 465.2 89ZM634.2 122 637.7 122 638.2 122.5 641.2 122.5 641.2 123 640.2 122.7ZM641.8 123 645.2 123 645.2 123.5 643.8 123.1ZM453.2 127.5 454.2 127.2 455.2 127.5 456.2 128.7 456.7 130 456.7 131.5 456.2 132.8 455.8 133.5 454.8 134.2 453.8 134.2 452.8 133.6 452.2 133 451.8 131.6 451.7 130 452 129 452.6 128ZM641.8 138.5 643.8 138.4 645.2 138 645.2 138.5ZM637.8 139 639.8 138.9 641.2 138.5 641.3 139 638.2 139 637.7 139.5 633.9 139.5 636.2 139.4ZM630.2 140 632.2 139.9 633.8 139.5 633.8 140 630.8 140 630.2 140.5 627.2 140.5 626.8 141 623.8 141 623.2 141.5 620.2 141.5 619.8 142 617.2 142 616.8 142.5 614.3 142.5 613.8 143 611.2 143 610.8 143.5 607.8 143.5 607.2 144 605.2 144 604.8 144.5 602.2 144.5 601.8 145 599.2 145 598.8 145.5 596.3 145.5 595.8 146 593.8 146 593.2 146.5 590.8 146.5 590.2 147 588.2 147 587.8 147.5 585.2 147.5 584.8 148 582.8 148 582.2 148.5 580.2 148.5 579.8 149 577.8 149 577.2 149.5 575.2 149.5 574.8 150 572.8 150 572.2 150.5 570.2 150.5 569.8 151 568.2 151 567.8 151.5 566.2 151.5 565.7 152 563.8 152 563.2 152.5 561.8 152.5 561.2 153 559.8 153 559.2 153.5 557.8 153.5 557.2 154 555.2 154 554.8 154.5 553.2 154.5 552.8 155 551.2 155 550.8 155.5 549.2 155.5 548.8 156 547.2 156 546.8 156.5 545.2 156.5 544.8 157 543.3 157 542.8 157.5 541.2 157.5 540.8 158 539.2 158 538.8 158.5 537.2 158.5 536.8 159 535.2 159 534.8 159.5 533.2 159.5 532.8 160 531.2 160 530.8 160.5 529.2 160.5 528.8 161 527.8 161 527.2 161.5 525.8 161.5 525.2 162 523.8 162 523.2 162.5 521.2 162.5 520.8 163 519.2 163 518.8 163.5 517.2 163.5 516.8 164 514.8 164 514.2 164.5 512.8 164.5 512.2 165 510.8 165 510.2 165.5 508.2 165.5 507.7 166 506.2 166 505.8 166.5 503.7 166.5 503.3 167 501.8 167 501.2 167.5 499.8 167.5 499.2 168 497.8 168 497.2 168.5 496.2 168.5 495.7 169 494.2 169 493.8 169.5 492.7 169.5 492.2 170 490.8 170 490.2 170.5 488.8 170.5 488.2 171 486.2 171 485.8 171.5 483.8 171.5 483.2 172 480.8 172 480.2 172.5 476.2 172.5 475.8 173 465.8 173 465.2 172.5 462.8 172.5 462.2 172 460.8 172 460.2 171.5 459.2 171.5 458.8 171 458.2 171 457.8 170.5 456.8 170.5 456.2 170 455.7 170 455.2 169.5 454.8 169.5 454.2 169 453.8 169 453.2 168.5 452.8 168.5 451.2 167 450.8 167 448.8 165 448.2 165 446.2 163 445.8 163 444.2 161.5 442.3 161.5 441.5 161 439.7 160.5 437.2 161 436.2 160.8 435.3 160 433.5 159 433 158.5 432.6 157.5 433 156.5 433.5 156 434.8 155.3 435.9 155 438.2 154.8 440.8 155.3 442.1 156 443.2 157.4 445.8 159.2 447.8 161.1 448.2 161.1 450.3 162 452.8 164.1 454.7 165.5 457.8 167.1 460.8 168.4 463.8 169.4 468.8 170.3 471.8 170.4 477.2 170.1 482.8 169.4 488.2 168.4 498.2 166.2 516.2 162.4 551.2 154.2 572.2 149.6 579.2 148.4 580.8 148 582.2 147.9 583.5 147.5 585.2 147.3 586.2 147 590.8 146.4 592.2 146 593.8 145.9 595 145.5 596.8 145.4 597.8 145 602.2 144.4 603.8 144 605.2 143.9 606.2 143.6 608.8 143.3 609.9 143 611.8 142.9 613.1 142.5 614.8 142.4 616.3 142 618.2 141.9 619.6 141.5 621.8 141.3 622.8 141 628.8 140.4Z" fill="#910000"/>
</g>
<g fill="none" stroke-linecap="round" stroke-linejoin="round">
<path d="M403.9 19 416.3 39.3 425.7 55.8 433.2 67.9 436.7 74.1 441.2 82.4 444.3 88.8 446.2 93.2 447 95.4 448.3 100M403.9 242.5 416.3 222.2 425.7 205.7 433.2 193.6 436.7 187.4 441.2 179.1 444.3 172.7 446.2 168.3 447 166.1 448.3 161.5M425.8 19 429 28.8 431.9 36.6 433.2 40.5 436 50.4 436.7 52.4 439 58.2 440.3 62.1 447.6 88 449.6 96M425.8 242.5 429 232.7 431.9 224.9 433.2 221 436 211.1 436.7 209.1 439 203.3 440.3 199.4 447.6 173.5 449.6 165.5M395.9 63.3 401.4 66.2 405.4 68.5 409.3 71 414.3 74.7 419.2 78.5 422.6 81.6 425.8 85 430.9 90.8 433.2 92.9 435.7 94.8 443.5 99.8M395.9 198.2 401.4 195.3 405.4 193 409.3 190.5 414.3 186.8 419.2 183 422.6 179.9 425.8 176.5 430.9 170.7 433.2 168.6 435.7 166.7 443.5 161.7" stroke="#ffa000" stroke-width="1.1" opacity="0.45"/>
<path d="M403.9 19 416.3 39.3 425.7 55.8 433.2 67.9 436.7 74.1 441.2 82.4 444.3 88.8 446.2 93.2 447 95.4 448.3 100M403.9 242.5 416.3 222.2 425.7 205.7 433.2 193.6 436.7 187.4 441.2 179.1 444.3 172.7 446.2 168.3 447 166.1 448.3 161.5M425.8 19 429 28.8 431.9 36.6 433.2 40.5 436 50.4 436.7 52.4 439 58.2 440.3 62.1 447.6 88 449.6 96M425.8 242.5 429 232.7 431.9 224.9 433.2 221 436 211.1 436.7 209.1 439 203.3 440.3 199.4 447.6 173.5 449.6 165.5M395.9 63.3 401.4 66.2 405.4 68.5 409.3 71 414.3 74.7 419.2 78.5 422.6 81.6 425.8 85 430.9 90.8 433.2 92.9 435.7 94.8 443.5 99.8M395.9 198.2 401.4 195.3 405.4 193 409.3 190.5 414.3 186.8 419.2 183 422.6 179.9 425.8 176.5 430.9 170.7 433.2 168.6 435.7 166.7 443.5 161.7" stroke="#b81400" stroke-width="0.55"/>
<path d="M456.2 126.2 457.2 124.6 458.2 123.2 459.2 122.2 460.2 121.4 461.2 121 463.2 120.5 465.2 120.3 467.2 120.2 471.2 120.2 478.2 120.4 485.2 120.6 520.1 123.8 527 124.4 534 124.9 589.8 127.2 607.2 128.2M456.2 135.2 457.2 136.9 458.2 138.3 459.2 139.3 460.2 140.1 461.2 140.6 463.2 141 465.2 141.2 467.2 141.3 471.2 141.3 478.2 141.1 485.2 140.9 520.1 137.7 527 137.1 534 136.6 589.8 134.3 607.2 133.3" stroke="#b81400" stroke-width="0.55"/>
<path d="M456.2 126.2 457.2 124.6 458.2 123.2 459.2 122.2 460.2 121.4 461.2 121 463.2 120.5 465.2 120.3 467.2 120.2 475 120.3 482.6 120.5 486.4 120.7 509.2 122.9 528.1 124.5 539.5 125.1 562.2 126M456.2 135.2 457.2 136.9 458.2 138.3 459.2 139.3 460.2 140.1 461.2 140.6 463.2 141 465.2 141.2 467.2 141.3 475 141.2 482.6 141 486.4 140.8 509.2 138.6 528.1 137 539.5 136.4 562.2 135.5" stroke="#a00800" stroke-width="0.95"/>
<path d="M395.8 119.3 405.2 116.4 414.9 114 418.1 113.3 423 112.5 426.3 112.3 429.6 112.3 432.9 112.5 436.2 113 439.4 113.8 442.5 115 445.4 116.5 446.8 117.4 448.1 118.4 450.5 120.7 452.6 123.3 454.5 126M395.8 142.2 405.2 145.1 414.9 147.5 418.1 148.2 423 149 426.3 149.2 429.6 149.2 432.9 149 436.2 148.5 439.4 147.7 442.5 146.5 445.4 145 446.8 144.1 448.1 143.1 450.5 140.8 452.6 138.2 454.5 135.5M411 119 420.5 116.9 424.1 116.2 426.5 115.9 428.9 115.8 431.3 115.8 433.7 115.9 436.1 116.3 438.5 117 440.8 117.8 444.2 119.2 446.3 120.3 448.3 121.7 449.2 122.5 454 128M411 142.5 420.5 144.6 424.1 145.3 426.5 145.6 428.9 145.7 431.3 145.7 433.7 145.6 436.1 145.2 438.5 144.5 440.8 143.7 444.2 142.3 446.3 141.2 448.3 139.8 449.2 139 454 133.5" stroke="#a00800" stroke-width="0.8"/>
<path d="M460.2 126.5 497.2 126.7 577.2 128.8M460.2 135 497.2 134.8 577.2 132.7" stroke="#c82808" stroke-width="0.7" stroke-dasharray="7 1.5 3 1"/>
<path d="M458 130.75H560" stroke="#a00000" stroke-width="1.0"/>
<path d="M560 130.75H650" stroke="#e8c020" stroke-width="0.8" stroke-dasharray="1.4 1.2"/>
<path d="M560 130.75H610" stroke="#d04010" stroke-width="0.7" stroke-dasharray="3 4 6 5"/>
<path d="M446.5 99.5 448.7 104.2 449.7 106.6 450.5 109 453.4 119 455.3 126.5" stroke="#980000" stroke-width="2.1"/>
<path d="M449.5 97.5 451.4 102.5 452.3 105 453.7 110.2 455.3 118 455.7 120.7 456.3 126" stroke="#980000" stroke-width="1.5"/>
<path d="M448.3 99 450.3 104 451.9 109 453.2 114.2 455 122" stroke="#2aa0ff" stroke-width="0.55"/>
<path d="M446.5 162 448.7 157.3 449.7 154.9 450.5 152.5 453.4 142.5 455.3 135" stroke="#980000" stroke-width="2.1"/>
<path d="M449.5 164 451.4 159 452.3 156.5 453.7 151.3 455.3 143.5 455.7 140.8 456.3 135.5" stroke="#980000" stroke-width="1.5"/>
<path d="M448.3 162.5 450.3 157.5 451.9 152.5 453.2 147.3 455 139.5" stroke="#2aa0ff" stroke-width="0.55"/>
<path d="M396.4 114.8 403.2 117.1 405.4 118 409.7 120 420.1 125.8 424.2 128.2 428.2 130.7M396.4 146.8 403.2 144.4 405.4 143.5 409.7 141.5 420.1 135.7 424.2 133.3 428.2 130.8M396.4 123.9 404.3 121.5 411 119M396.4 137.6 404.3 140 411 142.5M405 130.2 410.3 127.4 413.1 126.2 415.8 125 418.7 124 421.6 123.3 424.6 122.9 427.6 122.9 430.6 123.3 433.5 124.1 436.4 125.1 439.1 126.4 447 130.8M405 131.3 410.3 134.1 413.1 135.3 415.8 136.5 418.7 137.5 421.6 138.2 424.6 138.6 427.6 138.6 430.6 138.2 433.5 137.4 436.4 136.4 439.1 135.1 447 130.8M396.4 130.8 408 126.2M396.4 130.8 408 135.3M414 130.8 418.5 128.8 421.6 127.7 423.2 127.2 424.8 126.9 426.4 126.8 428 126.9 429.6 127.2 431.2 127.7 432.7 128.3 434.2 129.1 437 130.8M414 130.8 418.5 132.7 421.6 133.8 423.2 134.3 424.8 134.6 426.4 134.7 428 134.6 429.6 134.3 431.2 133.8 432.7 133.2 434.2 132.4 437 130.8" stroke="#a40a00" stroke-width="1.05" stroke-dasharray="1.4 1.5 0.8 1.2 2.0 1.7"/>
</g>
<path d="M424.7 18.25V243.25M457.3 18.25V243.25M489.9 18.25V243.25M522.6 18.25V243.25M555.2 18.25V243.25M587.8 18.25V243.25M620.4 18.25V243.25M396.0 221.6H650.25M396.0 176.2H650.25M396.0 130.8H650.25M396.0 85.3H650.25M396.0 40H650.25" stroke="#000" stroke-width="0.5" stroke-dasharray="1.5 1.1" fill="none" opacity="0.75"/>
<rect x="396.0" y="18.25" width="254.25" height="225.0" fill="none" stroke="#000" stroke-width="0.8"/>
<path d="M424.7 243.25v2.8M457.3 243.25v2.8M489.9 243.25v2.8M522.6 243.25v2.8M555.2 243.25v2.8M587.8 243.25v2.8M620.4 243.25v2.8M396.0 221.6h-2.8M396.0 176.2h-2.8M396.0 130.8h-2.8M396.0 85.3h-2.8M396.0 40h-2.8" stroke="#000" stroke-width="0.7" fill="none"/>
<g font-family="DejaVu Sans, Liberation Sans, sans-serif" font-size="10" fill="#111">
<text x="424.6" y="256.7" text-anchor="middle">−10</text>
<text x="457.2" y="256.7" text-anchor="middle">0</text>
<text x="489.9" y="256.7" text-anchor="middle">10</text>
<text x="522.5" y="256.7" text-anchor="middle">20</text>
<text x="555.1" y="256.7" text-anchor="middle">30</text>
<text x="587.8" y="256.7" text-anchor="middle">40</text>
<text x="620.4" y="256.7" text-anchor="middle">50</text>
<text x="389.6" y="225.2" text-anchor="end">−2</text>
<text x="389.6" y="179.8" text-anchor="end">−1</text>
<text x="389.6" y="134.4" text-anchor="end">0</text>
<text x="389.6" y="89" text-anchor="end">1</text>
<text x="389.6" y="43.7" text-anchor="end">2</text>
</g>
<g font-family="DejaVu Sans, Liberation Sans, sans-serif" font-size="11.5" fill="#111">
<text x="523.2" y="271.4" text-anchor="middle">Y, [a.u.]</text>
<text transform="translate(369.6 133) rotate(-90)" text-anchor="middle" font-size="12.4">Z, [a.u.]</text>
</g>
<rect x="665.9" y="18.25" width="11.2" height="225" fill="#910000"/>
<rect x="665.9" y="26.01" width="11.2" height="217.24" fill="#b40000"/>
<rect x="665.9" y="33.77" width="11.2" height="209.48" fill="#d70000"/>
<rect x="665.9" y="41.53" width="11.2" height="201.72" fill="#fb0000"/>
<rect x="665.9" y="49.28" width="11.2" height="193.97" fill="#ff1f00"/>
<rect x="665.9" y="57.04" width="11.2" height="186.21" fill="#ff4200"/>
<rect x="665.9" y="64.8" width="11.2" height="178.45" fill="#ff6500"/>
<rect x="665.9" y="72.56" width="11.2" height="170.69" fill="#ff8800"/>
<rect x="665.9" y="80.32" width="11.2" height="162.93" fill="#ffab00"/>
<rect x="665.9" y="88.08" width="11.2" height="155.17" fill="#ffcf00"/>
<rect x="665.9" y="95.84" width="11.2" height="147.41" fill="#fff200"/>
<rect x="665.9" y="103.59" width="11.2" height="139.66" fill="#e9ff16"/>
<rect x="665.9" y="111.35" width="11.2" height="131.9" fill="#c6ff39"/>
<rect x="665.9" y="119.11" width="11.2" height="124.14" fill="#a3ff5c"/>
<rect x="665.9" y="126.87" width="11.2" height="116.38" fill="#80ff80"/>
<rect x="665.9" y="134.63" width="11.2" height="108.62" fill="#5cffa3"/>
<rect x="665.9" y="142.39" width="11.2" height="100.86" fill="#39ffc6"/>
<rect x="665.9" y="150.15" width="11.2" height="93.1" fill="#16ffe9"/>
<rect x="665.9" y="157.91" width="11.2" height="85.34" fill="#00f2ff"/>
<rect x="665.9" y="165.66" width="11.2" height="77.59" fill="#00cfff"/>
<rect x="665.9" y="173.42" width="11.2" height="69.83" fill="#00abff"/>
<rect x="665.9" y="181.18" width="11.2" height="62.07" fill="#0088ff"/>
<rect x="665.9" y="188.94" width="11.2" height="54.31" fill="#0065ff"/>
<rect x="665.9" y="196.7" width="11.2" height="46.55" fill="#0042ff"/>
<rect x="665.9" y="204.46" width="11.2" height="38.79" fill="#001fff"/>
<rect x="665.9" y="212.22" width="11.2" height="31.03" fill="#0000fb"/>
<rect x="665.9" y="219.97" width="11.2" height="23.28" fill="#0000d7"/>
<rect x="665.9" y="227.73" width="11.2" height="15.52" fill="#0000b4"/>
<rect x="665.9" y="235.49" width="11.2" height="7.76" fill="#000091"/>
<rect x="665.9" y="18.25" width="11.2" height="225.0" fill="none" stroke="#000" stroke-width="0.7"/>
<g font-family="DejaVu Sans, Liberation Sans, sans-serif" font-size="10" fill="#111">
<text x="683.4" y="246.9">0.000</text>
<text x="683.4" y="223.7">1.034</text>
<text x="683.4" y="200.4">2.069</text>
<text x="683.4" y="177.1">3.103</text>
<text x="683.4" y="153.8">4.138</text>
<text x="683.4" y="130.6">5.172</text>
<text x="683.4" y="107.3">6.207</text>
<text x="683.4" y="84">7.241</text>
<text x="683.4" y="60.7">8.276</text>
<text x="683.4" y="37.5">9.310</text>
</g>
<path d="M677.1 243.2h2.8M677.1 220h2.8M677.1 196.7h2.8M677.1 173.4h2.8M677.1 150.1h2.8M677.1 126.9h2.8M677.1 103.6h2.8M677.1 80.3h2.8M677.1 57h2.8M677.1 33.8h2.8" stroke="#000" stroke-width="0.7" fill="none"/>
<text x="651" y="13.2" font-family="DejaVu Sans, Liberation Sans, sans-serif" font-size="12.3" fill="#111">n<tspan font-size="8.6" dy="2.4">d</tspan><tspan dy="-2.4">/n</tspan><tspan font-size="8.6" dy="2.4" font-style="italic">ISM</tspan></text>
<text x="534.3" y="294.4" text-anchor="middle" font-family="Liberation Serif, Times New Roman, serif" font-size="18.5" fill="#222">(b)</text>
</svg>
</body></html>
